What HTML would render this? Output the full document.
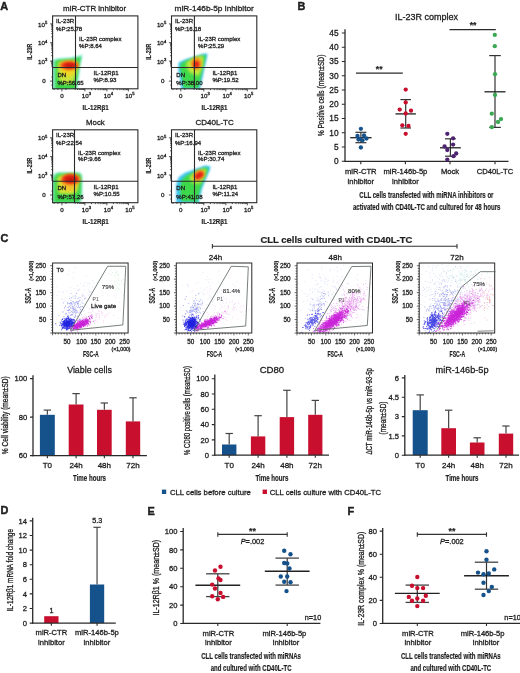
<!DOCTYPE html>
<html><head><meta charset="utf-8"><style>
html,body{margin:0;padding:0;background:#fff;width:520px;height:673px;overflow:hidden}
svg{display:block;font-family:"Liberation Sans",sans-serif;will-change:transform;filter:blur(0.3px)}
text{stroke:#1e1e1e;stroke-width:0.3px}
text[font-weight=bold]{stroke-width:0.2px}
</style></head><body>
<svg width="520" height="673" viewBox="0 0 520 673" fill="#1e1e1e">
<defs><filter id="bl" x="-20%" y="-20%" width="140%" height="140%"><feGaussianBlur stdDeviation="1.1"/></filter><filter id="bl2" x="-20%" y="-20%" width="140%" height="140%"><feGaussianBlur stdDeviation="1.6"/></filter><g id="blob1"><path d="M52 60 L57 58.4 L70 57.6 L78 56 L82.6 54.4 L81.6 60 L80.2 66 L79.2 75 L77.8 84 L77 90 L52 90Z" fill="#8cecd8" filter="url(#bl)"/><path d="M54.8 61.2 L58 59.8 L70 59.2 L78 57.6 L81.2 56.4 L80.2 61 L78.8 67 L77.8 75 L76.4 84 L75.8 89.5 L55 89.5Z" fill="#3cd64a" filter="url(#bl)"/><path d="M58 62 L66 60.5 L76 60.5 L77.5 63 L76.4 70 L75 78 L72 84 L63 84 L58.5 79 L57.5 70Z" fill="#c8e43a" filter="url(#bl2)"/><ellipse cx="68.5" cy="70.5" rx="7.5" ry="6" fill="#f0d828" filter="url(#bl2)"/><ellipse cx="69.2" cy="65.4" rx="10" ry="5.2" fill="#f28a1e" filter="url(#bl)"/><ellipse cx="69.2" cy="65.4" rx="7.6" ry="3.5" fill="#e8301a" filter="url(#bl)"/><ellipse cx="70" cy="65.6" rx="5" ry="2.2" fill="#c81810" filter="url(#bl)"/></g><g id="blob2"><path d="M178.6 62.5 L185 59.4 L195 56.4 L203 53.8 L207.6 53.6 L206.8 58 L204.6 67 L202 80 L199.8 89.5 L181.3 89.5 L180.2 80 L178.3 70Z" fill="#3cc4f0" filter="url(#bl)"/><path d="M180.6 63.6 L186 60.8 L195 57.6 L203 55.2 L206 55.2 L205.2 59 L203.2 67 L200.6 79 L198.6 88 L183.5 88 L182 79 L180.4 70Z" fill="#3ed84c" filter="url(#bl)"/><path d="M186.5 62 L195 57.6 L203 55.6 L203.2 62 L201.5 70 L198.5 76 L190 73 L186.5 67Z" fill="#c4e83c" filter="url(#bl2)"/><ellipse cx="196.4" cy="63.5" rx="5.6" ry="6.4" fill="#f4a01e" filter="url(#bl)"/><ellipse cx="196.3" cy="64.3" rx="3.2" ry="3.6" fill="#e62818" filter="url(#bl)"/></g><g id="blob3"><path d="M52 178 Q53 172.2 60 172.2 L78 172.2 Q82.4 172.2 82.4 178 L82.2 196 Q82 203.5 77 203.5 L52 203.5Z" fill="#7ce8c0" filter="url(#bl)"/><path d="M54.2 179 Q55 173.8 60 173.8 L77.6 173.8 Q81 173.8 81 178.5 L80.8 195.5 Q80.5 202.5 76.5 202.5 L54.2 202.5Z" fill="#3cd448" filter="url(#bl)"/><path d="M57.5 178 Q58 175.2 63 175.2 L75 175.2 Q78.4 175.2 78.4 179 L77.6 190 Q76.5 194 72 194 L61 194 Q57.5 193 57.5 188Z" fill="#d2e438" filter="url(#bl2)"/><ellipse cx="69.5" cy="184.5" rx="8" ry="7" fill="#f2c22a" filter="url(#bl2)"/><ellipse cx="70.6" cy="179.6" rx="10" ry="6" fill="#f2861c" filter="url(#bl)"/><ellipse cx="70.4" cy="179" rx="8" ry="4.4" fill="#e42a18" filter="url(#bl)"/><ellipse cx="71" cy="179.6" rx="5.2" ry="2.6" fill="#c81810" filter="url(#bl)"/></g><g id="blob4"><path d="M176.2 184 L178.8 177 L185 172.8 L196 168.8 L205 165.6 L210.5 166.2 L209.8 170 L206.7 177 L202.2 188 L198.5 203.5 L176.2 203.5Z" fill="#3cc4f0" filter="url(#bl)"/><path d="M180.2 186 L181.8 179.6 L186.5 175.2 L196 171 L205 167.6 L208.4 168 L207.6 171 L204.6 178 L200.4 188 L197.6 201.5 L181.5 201.5 L180.2 193Z" fill="#3ed84c" filter="url(#bl)"/><path d="M190 176 L197 171.5 L204.5 168.5 L206.2 170 L204.5 176 L201 183 L194 184 L190 180Z" fill="#c4e83c" filter="url(#bl2)"/><ellipse cx="199" cy="175" rx="6.4" ry="4.6" transform="rotate(-35 199 175)" fill="#f4961a" filter="url(#bl)"/><ellipse cx="199" cy="175.4" rx="4.6" ry="3" transform="rotate(-35 199 175.4)" fill="#e42414" filter="url(#bl)"/></g><clipPath id="clipA1"><rect x="52.7" y="15.8" width="85.3" height="73.3"/></clipPath><clipPath id="clipA2"><rect x="171.5" y="15.8" width="85.3" height="73.3"/></clipPath><clipPath id="clipA3"><rect x="52.7" y="129.8" width="85.3" height="73.3"/></clipPath><clipPath id="clipA4"><rect x="171.5" y="129.8" width="85.3" height="73.3"/></clipPath><clipPath id="clipC1"><rect x="52.6" y="263" width="75.5" height="70"/></clipPath><clipPath id="clipC2"><rect x="176.3" y="263" width="75.5" height="70"/></clipPath><clipPath id="clipC3"><rect x="297" y="263" width="75.5" height="70"/></clipPath><clipPath id="clipC4"><rect x="419.2" y="263" width="75.5" height="70"/></clipPath></defs>
<text x="0.2" y="9.5" font-size="10.9" font-weight="bold" style="stroke-width:0.45px">A</text>
<g clip-path="url(#clipA1)">
<use href="#blob1"/>
</g>
<rect x="52.6" y="15.9" width="85.3" height="72.9" fill="none" stroke="#2a2a2a" stroke-width="1.1"/>
<line x1="75.5" y1="15.9" x2="75.5" y2="88.8" stroke="#2a2a2a" stroke-width="1.1"/>
<line x1="52.6" y1="67.5" x2="137.9" y2="67.5" stroke="#2a2a2a" stroke-width="1.1"/>
<path d="M52.6 23.9h-2.6M52.6 36.9h-1.4M52.6 33.63h-1.4M52.6 31.3h-1.4M52.6 29.5h-1.4M52.6 28.03h-1.4M52.6 26.78h-1.4M52.6 25.7h-1.4M52.6 24.75h-1.4M52.6 42.7h-2.6M52.6 55.7h-1.4M52.6 52.43h-1.4M52.6 50.1h-1.4M52.6 48.3h-1.4M52.6 46.83h-1.4M52.6 45.58h-1.4M52.6 44.5h-1.4M52.6 43.55h-1.4M52.6 61.1h-2.6M52.6 66.69h-1.2M52.6 65.28h-1.2M52.6 64.28h-1.2M52.6 63.51h-1.2M52.6 62.87h-1.2M52.6 62.34h-1.2M52.6 61.88h-1.2M52.6 61.47h-1.2M52.6 81.1h-2.6M52.6 85.1h-1.2M52.6 77.1h-1.2M61.9 88.8v2.6M84.9 88.8v2.6M91.52 88.8v1.4M95.4 88.8v1.4M98.15 88.8v1.4M100.28 88.8v1.4M102.02 88.8v1.4M103.49 88.8v1.4M104.77 88.8v1.4M105.89 88.8v1.4M106.9 88.8v2.6M113.37 88.8v1.4M117.16 88.8v1.4M119.84 88.8v1.4M121.93 88.8v1.4M123.63 88.8v1.4M125.07 88.8v1.4M126.32 88.8v1.4M127.42 88.8v1.4M128.4 88.8v2.6M75.11 88.8v1.2M77.58 88.8v1.2M79.33 88.8v1.2M80.69 88.8v1.2M81.79 88.8v1.2M82.73 88.8v1.2M83.54 88.8v1.2M84.26 88.8v1.2M57.9 88.8v1.2M65.9 88.8v1.2M54.1 88.8v1.2" stroke="#2a2a2a" stroke-width="0.8" fill="none"/>
<text x="37.99" y="26.5" font-size="6.2">10</text>
<text x="45.09" y="23.8" font-size="4.22">5</text>
<text x="37.99" y="45.3" font-size="6.2">10</text>
<text x="45.09" y="42.6" font-size="4.22">4</text>
<text x="37.99" y="63.7" font-size="6.2">10</text>
<text x="45.09" y="61" font-size="4.22">3</text>
<text x="42.2" y="83.3" font-size="6.2">0</text>
<text x="61.9" y="97.8" font-size="6.2" text-anchor="middle">0</text>
<text x="81.7" y="97.8" font-size="6.2">10</text>
<text x="88.7" y="95.09" font-size="4.2">3</text>
<text x="103.7" y="97.8" font-size="6.2">10</text>
<text x="110.7" y="95.09" font-size="4.2">4</text>
<text x="125.2" y="97.8" font-size="6.2">10</text>
<text x="132.2" y="95.09" font-size="4.2">5</text>
<text x="95.6" y="109.63" font-size="7.4" text-anchor="middle" font-weight="bold" textLength="26" lengthAdjust="spacingAndGlyphs">IL-12Rβ1</text>
<text x="0" y="2.7" font-size="7.6" text-anchor="middle" font-weight="bold" textLength="16" lengthAdjust="spacingAndGlyphs" transform="translate(29 51.7) rotate(-90)">IL-23R</text>
<text x="94.6" y="10.78" font-size="8.1" text-anchor="middle" textLength="63" lengthAdjust="spacingAndGlyphs">miR-CTR inhibitor</text>
<text x="56" y="23.45" font-size="6.05">IL-23R</text>
<text x="56" y="30.85" font-size="6.05">%P:25.78</text>
<text x="79.1" y="40.75" font-size="6.05">IL-23R complex</text>
<text x="79.1" y="47.55" font-size="6.05">%P:8.64</text>
<text x="93.5" y="75.25" font-size="6.05">IL-12Rβ1</text>
<text x="93.5" y="82.25" font-size="6.05">%P:8.93</text>
<text x="57.4" y="76.65" font-size="6.05">DN</text>
<text x="57.4" y="84.85" font-size="6.05">%P:56.65</text>
<g clip-path="url(#clipA2)">
<use href="#blob2"/>
</g>
<rect x="171.5" y="15.9" width="85.3" height="72.9" fill="none" stroke="#2a2a2a" stroke-width="1.1"/>
<line x1="194.4" y1="15.9" x2="194.4" y2="88.8" stroke="#2a2a2a" stroke-width="1.1"/>
<line x1="171.5" y1="67.5" x2="256.8" y2="67.5" stroke="#2a2a2a" stroke-width="1.1"/>
<path d="M171.5 23.9h-2.6M171.5 36.9h-1.4M171.5 33.63h-1.4M171.5 31.3h-1.4M171.5 29.5h-1.4M171.5 28.03h-1.4M171.5 26.78h-1.4M171.5 25.7h-1.4M171.5 24.75h-1.4M171.5 42.7h-2.6M171.5 55.7h-1.4M171.5 52.43h-1.4M171.5 50.1h-1.4M171.5 48.3h-1.4M171.5 46.83h-1.4M171.5 45.58h-1.4M171.5 44.5h-1.4M171.5 43.55h-1.4M171.5 61.1h-2.6M171.5 66.69h-1.2M171.5 65.28h-1.2M171.5 64.28h-1.2M171.5 63.51h-1.2M171.5 62.87h-1.2M171.5 62.34h-1.2M171.5 61.88h-1.2M171.5 61.47h-1.2M171.5 81.1h-2.6M171.5 85.1h-1.2M171.5 77.1h-1.2M180.8 88.8v2.6M203.8 88.8v2.6M210.42 88.8v1.4M214.3 88.8v1.4M217.05 88.8v1.4M219.18 88.8v1.4M220.92 88.8v1.4M222.39 88.8v1.4M223.67 88.8v1.4M224.79 88.8v1.4M225.8 88.8v2.6M232.27 88.8v1.4M236.06 88.8v1.4M238.74 88.8v1.4M240.83 88.8v1.4M242.53 88.8v1.4M243.97 88.8v1.4M245.22 88.8v1.4M246.32 88.8v1.4M247.3 88.8v2.6M194.01 88.8v1.2M196.48 88.8v1.2M198.23 88.8v1.2M199.59 88.8v1.2M200.69 88.8v1.2M201.63 88.8v1.2M202.44 88.8v1.2M203.16 88.8v1.2M176.8 88.8v1.2M184.8 88.8v1.2M173 88.8v1.2" stroke="#2a2a2a" stroke-width="0.8" fill="none"/>
<text x="156.89" y="26.5" font-size="6.2">10</text>
<text x="163.99" y="23.8" font-size="4.22">5</text>
<text x="156.89" y="45.3" font-size="6.2">10</text>
<text x="163.99" y="42.6" font-size="4.22">4</text>
<text x="156.89" y="63.7" font-size="6.2">10</text>
<text x="163.99" y="61" font-size="4.22">3</text>
<text x="161.1" y="83.3" font-size="6.2">0</text>
<text x="180.8" y="97.8" font-size="6.2" text-anchor="middle">0</text>
<text x="200.6" y="97.8" font-size="6.2">10</text>
<text x="207.6" y="95.09" font-size="4.2">3</text>
<text x="222.6" y="97.8" font-size="6.2">10</text>
<text x="229.6" y="95.09" font-size="4.2">4</text>
<text x="244.1" y="97.8" font-size="6.2">10</text>
<text x="251.1" y="95.09" font-size="4.2">5</text>
<text x="214.5" y="109.63" font-size="7.4" text-anchor="middle" font-weight="bold" textLength="26" lengthAdjust="spacingAndGlyphs">IL-12Rβ1</text>
<text x="0" y="2.7" font-size="7.6" text-anchor="middle" font-weight="bold" textLength="16" lengthAdjust="spacingAndGlyphs" transform="translate(147.9 51.7) rotate(-90)">IL-23R</text>
<text x="214.2" y="10.78" font-size="8.1" text-anchor="middle" textLength="79.3" lengthAdjust="spacingAndGlyphs">miR-146b-5p inhibitor</text>
<text x="174.9" y="23.45" font-size="6.05">IL-23R</text>
<text x="174.9" y="30.85" font-size="6.05">%P:16.18</text>
<text x="198" y="40.75" font-size="6.05">IL-23R complex</text>
<text x="198" y="47.55" font-size="6.05">%P:25.29</text>
<text x="212.4" y="75.25" font-size="6.05">IL-12Rβ1</text>
<text x="212.4" y="82.25" font-size="6.05">%P:19.52</text>
<text x="176.3" y="76.65" font-size="6.05">DN</text>
<text x="176.3" y="84.85" font-size="6.05">%P:38.00</text>
<g clip-path="url(#clipA3)">
<use href="#blob3"/>
</g>
<rect x="52.6" y="129.8" width="85.3" height="72.9" fill="none" stroke="#2a2a2a" stroke-width="1.1"/>
<line x1="74.5" y1="129.8" x2="74.5" y2="202.7" stroke="#2a2a2a" stroke-width="1.1"/>
<line x1="52.6" y1="181.3" x2="137.9" y2="181.3" stroke="#2a2a2a" stroke-width="1.1"/>
<path d="M52.6 137.8h-2.6M52.6 150.8h-1.4M52.6 147.53h-1.4M52.6 145.2h-1.4M52.6 143.4h-1.4M52.6 141.93h-1.4M52.6 140.68h-1.4M52.6 139.6h-1.4M52.6 138.65h-1.4M52.6 156.6h-2.6M52.6 169.6h-1.4M52.6 166.33h-1.4M52.6 164h-1.4M52.6 162.2h-1.4M52.6 160.73h-1.4M52.6 159.48h-1.4M52.6 158.4h-1.4M52.6 157.45h-1.4M52.6 175h-2.6M52.6 180.59h-1.2M52.6 179.18h-1.2M52.6 178.18h-1.2M52.6 177.41h-1.2M52.6 176.77h-1.2M52.6 176.24h-1.2M52.6 175.78h-1.2M52.6 175.37h-1.2M52.6 195h-2.6M52.6 199h-1.2M52.6 191h-1.2M61.9 202.7v2.6M84.9 202.7v2.6M91.52 202.7v1.4M95.4 202.7v1.4M98.15 202.7v1.4M100.28 202.7v1.4M102.02 202.7v1.4M103.49 202.7v1.4M104.77 202.7v1.4M105.89 202.7v1.4M106.9 202.7v2.6M113.37 202.7v1.4M117.16 202.7v1.4M119.84 202.7v1.4M121.93 202.7v1.4M123.63 202.7v1.4M125.07 202.7v1.4M126.32 202.7v1.4M127.42 202.7v1.4M128.4 202.7v2.6M75.11 202.7v1.2M77.58 202.7v1.2M79.33 202.7v1.2M80.69 202.7v1.2M81.79 202.7v1.2M82.73 202.7v1.2M83.54 202.7v1.2M84.26 202.7v1.2M57.9 202.7v1.2M65.9 202.7v1.2M54.1 202.7v1.2" stroke="#2a2a2a" stroke-width="0.8" fill="none"/>
<text x="37.99" y="140.4" font-size="6.2">10</text>
<text x="45.09" y="137.7" font-size="4.22">5</text>
<text x="37.99" y="159.2" font-size="6.2">10</text>
<text x="45.09" y="156.5" font-size="4.22">4</text>
<text x="37.99" y="177.6" font-size="6.2">10</text>
<text x="45.09" y="174.9" font-size="4.22">3</text>
<text x="42.2" y="197.2" font-size="6.2">0</text>
<text x="61.9" y="211.7" font-size="6.2" text-anchor="middle">0</text>
<text x="81.7" y="211.7" font-size="6.2">10</text>
<text x="88.7" y="208.99" font-size="4.2">3</text>
<text x="103.7" y="211.7" font-size="6.2">10</text>
<text x="110.7" y="208.99" font-size="4.2">4</text>
<text x="125.2" y="211.7" font-size="6.2">10</text>
<text x="132.2" y="208.99" font-size="4.2">5</text>
<text x="95.6" y="223.53" font-size="7.4" text-anchor="middle" font-weight="bold" textLength="26" lengthAdjust="spacingAndGlyphs">IL-12Rβ1</text>
<text x="0" y="2.7" font-size="7.6" text-anchor="middle" font-weight="bold" textLength="16" lengthAdjust="spacingAndGlyphs" transform="translate(29 165.6) rotate(-90)">IL-23R</text>
<text x="95.4" y="124.68" font-size="8.1" text-anchor="middle" textLength="18.6" lengthAdjust="spacingAndGlyphs">Mock</text>
<text x="56" y="137.35" font-size="6.05">IL-23R</text>
<text x="56" y="144.75" font-size="6.05">%P:22.54</text>
<text x="78.1" y="154.65" font-size="6.05">IL-23R complex</text>
<text x="78.1" y="161.45" font-size="6.05">%P:9.66</text>
<text x="93.5" y="189.05" font-size="6.05">IL-12Rβ1</text>
<text x="93.5" y="196.05" font-size="6.05">%P:10.55</text>
<text x="57.4" y="190.45" font-size="6.05">DN</text>
<text x="57.4" y="198.65" font-size="6.05">%P:57.26</text>
<g clip-path="url(#clipA4)">
<use href="#blob4"/>
</g>
<rect x="171.5" y="129.8" width="85.3" height="72.9" fill="none" stroke="#2a2a2a" stroke-width="1.1"/>
<line x1="194.5" y1="129.8" x2="194.5" y2="202.7" stroke="#2a2a2a" stroke-width="1.1"/>
<line x1="171.5" y1="181.3" x2="256.8" y2="181.3" stroke="#2a2a2a" stroke-width="1.1"/>
<path d="M171.5 137.8h-2.6M171.5 150.8h-1.4M171.5 147.53h-1.4M171.5 145.2h-1.4M171.5 143.4h-1.4M171.5 141.93h-1.4M171.5 140.68h-1.4M171.5 139.6h-1.4M171.5 138.65h-1.4M171.5 156.6h-2.6M171.5 169.6h-1.4M171.5 166.33h-1.4M171.5 164h-1.4M171.5 162.2h-1.4M171.5 160.73h-1.4M171.5 159.48h-1.4M171.5 158.4h-1.4M171.5 157.45h-1.4M171.5 175h-2.6M171.5 180.59h-1.2M171.5 179.18h-1.2M171.5 178.18h-1.2M171.5 177.41h-1.2M171.5 176.77h-1.2M171.5 176.24h-1.2M171.5 175.78h-1.2M171.5 175.37h-1.2M171.5 195h-2.6M171.5 199h-1.2M171.5 191h-1.2M180.8 202.7v2.6M203.8 202.7v2.6M210.42 202.7v1.4M214.3 202.7v1.4M217.05 202.7v1.4M219.18 202.7v1.4M220.92 202.7v1.4M222.39 202.7v1.4M223.67 202.7v1.4M224.79 202.7v1.4M225.8 202.7v2.6M232.27 202.7v1.4M236.06 202.7v1.4M238.74 202.7v1.4M240.83 202.7v1.4M242.53 202.7v1.4M243.97 202.7v1.4M245.22 202.7v1.4M246.32 202.7v1.4M247.3 202.7v2.6M194.01 202.7v1.2M196.48 202.7v1.2M198.23 202.7v1.2M199.59 202.7v1.2M200.69 202.7v1.2M201.63 202.7v1.2M202.44 202.7v1.2M203.16 202.7v1.2M176.8 202.7v1.2M184.8 202.7v1.2M173 202.7v1.2" stroke="#2a2a2a" stroke-width="0.8" fill="none"/>
<text x="156.89" y="140.4" font-size="6.2">10</text>
<text x="163.99" y="137.7" font-size="4.22">5</text>
<text x="156.89" y="159.2" font-size="6.2">10</text>
<text x="163.99" y="156.5" font-size="4.22">4</text>
<text x="156.89" y="177.6" font-size="6.2">10</text>
<text x="163.99" y="174.9" font-size="4.22">3</text>
<text x="161.1" y="197.2" font-size="6.2">0</text>
<text x="180.8" y="211.7" font-size="6.2" text-anchor="middle">0</text>
<text x="200.6" y="211.7" font-size="6.2">10</text>
<text x="207.6" y="208.99" font-size="4.2">3</text>
<text x="222.6" y="211.7" font-size="6.2">10</text>
<text x="229.6" y="208.99" font-size="4.2">4</text>
<text x="244.1" y="211.7" font-size="6.2">10</text>
<text x="251.1" y="208.99" font-size="4.2">5</text>
<text x="214.5" y="223.53" font-size="7.4" text-anchor="middle" font-weight="bold" textLength="26" lengthAdjust="spacingAndGlyphs">IL-12Rβ1</text>
<text x="0" y="2.7" font-size="7.6" text-anchor="middle" font-weight="bold" textLength="16" lengthAdjust="spacingAndGlyphs" transform="translate(147.9 165.6) rotate(-90)">IL-23R</text>
<text x="214.6" y="124.68" font-size="8.1" text-anchor="middle" textLength="38.3" lengthAdjust="spacingAndGlyphs">CD40L-TC</text>
<text x="174.9" y="137.35" font-size="6.05">IL-23R</text>
<text x="174.9" y="144.75" font-size="6.05">%P:16.94</text>
<text x="198.1" y="154.65" font-size="6.05">IL-23R complex</text>
<text x="198.1" y="161.45" font-size="6.05">%P:30.74</text>
<text x="212.4" y="189.05" font-size="6.05">IL-12Rβ1</text>
<text x="212.4" y="196.05" font-size="6.05">%P:11.24</text>
<text x="176.3" y="190.45" font-size="6.05">DN</text>
<text x="176.3" y="198.65" font-size="6.05">%P:41.08</text>
<text x="297.4" y="9.8" font-size="10.9" font-weight="bold" style="stroke-width:0.45px">B</text>
<line x1="345" y1="29.2" x2="345" y2="161.8" stroke="#2a2a2a" stroke-width="1.3"/>
<line x1="344.5" y1="161.3" x2="508.5" y2="161.3" stroke="#2a2a2a" stroke-width="1.3"/>
<text x="338.6" y="164.25" font-size="8.3" text-anchor="end">0</text>
<text x="338.6" y="149.99" font-size="8.3" text-anchor="end">5</text>
<text x="338.6" y="135.73" font-size="8.3" text-anchor="end">10</text>
<text x="338.6" y="121.47" font-size="8.3" text-anchor="end">15</text>
<text x="338.6" y="107.21" font-size="8.3" text-anchor="end">20</text>
<text x="338.6" y="92.95" font-size="8.3" text-anchor="end">25</text>
<text x="338.6" y="78.69" font-size="8.3" text-anchor="end">30</text>
<text x="338.6" y="64.43" font-size="8.3" text-anchor="end">35</text>
<text x="338.6" y="50.17" font-size="8.3" text-anchor="end">40</text>
<text x="338.6" y="35.91" font-size="8.3" text-anchor="end">45</text>
<path d="M345 161.3h-3.2M345 147.04h-3.2M345 132.78h-3.2M345 118.52h-3.2M345 104.26h-3.2M345 90h-3.2M345 75.74h-3.2M345 61.48h-3.2M345 47.22h-3.2M345 32.96h-3.2M360.8 161.3v3M405.4 161.3v3M450 161.3v3M495 161.3v3" stroke="#2a2a2a" stroke-width="1.1" fill="none"/>
<text x="360.8" y="174" font-size="7.6" text-anchor="middle">miR-CTR</text>
<text x="360.8" y="184" font-size="7.6" text-anchor="middle">inhibitor</text>
<text x="405.4" y="174" font-size="7.6" text-anchor="middle">miR-146b-5p</text>
<text x="405.4" y="184" font-size="7.6" text-anchor="middle">inhibitor</text>
<text x="450" y="174" font-size="7.6" text-anchor="middle">Mock</text>
<text x="495" y="174" font-size="7.6" text-anchor="middle">CD40L-TC</text>
<text x="0" y="3.05" font-size="8.6" text-anchor="middle" textLength="81.7" lengthAdjust="spacingAndGlyphs" transform="translate(321.2 95.5) rotate(-90)">% Positive cells (mean±SD)</text>
<text x="426.4" y="197.57" font-size="9.2" text-anchor="middle" font-weight="bold" textLength="134.2" lengthAdjust="spacingAndGlyphs">CLL cells transfected with miRNA inhibitors or</text>
<text x="426.7" y="209.57" font-size="9.2" text-anchor="middle" font-weight="bold" textLength="147.6" lengthAdjust="spacingAndGlyphs">activated with CD40L-TC and cultured for 48 hours</text>
<text x="426.4" y="19.5" font-size="9" text-anchor="middle">IL-23R complex</text>
<line x1="356" y1="73.2" x2="402.8" y2="73.2" stroke="#2a2a2a" stroke-width="1.2"/>
<text x="379.2" y="72.35" font-size="8.6" text-anchor="middle" font-weight="bold">**</text>
<line x1="449.5" y1="29.7" x2="495.8" y2="29.7" stroke="#2a2a2a" stroke-width="1.2"/>
<text x="473" y="28.45" font-size="8.6" text-anchor="middle" font-weight="bold">**</text>
<line x1="360.9" y1="132.3" x2="360.9" y2="142.7" stroke="#333" stroke-width="1.2"/>
<line x1="355.4" y1="132.3" x2="366.4" y2="132.3" stroke="#333" stroke-width="1.2"/>
<line x1="355.4" y1="142.7" x2="366.4" y2="142.7" stroke="#333" stroke-width="1.2"/>
<line x1="350.2" y1="137.7" x2="371.6" y2="137.7" stroke="#222" stroke-width="1.3"/>
<circle cx="360.9" cy="128.8" r="2.15" fill="#15528c"/>
<circle cx="357.5" cy="136" r="2.15" fill="#15528c"/>
<circle cx="364" cy="135.5" r="2.15" fill="#15528c"/>
<circle cx="360" cy="138.8" r="2.15" fill="#15528c"/>
<circle cx="366.5" cy="138.5" r="2.15" fill="#15528c"/>
<circle cx="362.5" cy="140.3" r="2.15" fill="#15528c"/>
<circle cx="358.5" cy="139.5" r="2.15" fill="#15528c"/>
<circle cx="360.9" cy="147.5" r="2.15" fill="#15528c"/>
<line x1="405.7" y1="99.6" x2="405.7" y2="128" stroke="#333" stroke-width="1.2"/>
<line x1="400.4" y1="99.6" x2="411" y2="99.6" stroke="#333" stroke-width="1.2"/>
<line x1="400.4" y1="128" x2="411" y2="128" stroke="#333" stroke-width="1.2"/>
<line x1="395.5" y1="113.9" x2="415.9" y2="113.9" stroke="#222" stroke-width="1.3"/>
<circle cx="405.7" cy="89.6" r="2.15" fill="#c8102e"/>
<circle cx="405.7" cy="102.4" r="2.15" fill="#c8102e"/>
<circle cx="399.7" cy="109.6" r="2.15" fill="#c8102e"/>
<circle cx="411" cy="110.7" r="2.15" fill="#c8102e"/>
<circle cx="405.7" cy="113.5" r="2.15" fill="#c8102e"/>
<circle cx="402.3" cy="125.3" r="2.15" fill="#c8102e"/>
<circle cx="408.5" cy="126" r="2.15" fill="#c8102e"/>
<circle cx="405.7" cy="133.8" r="2.15" fill="#c8102e"/>
<line x1="450.4" y1="138.8" x2="450.4" y2="156.2" stroke="#333" stroke-width="1.2"/>
<line x1="445" y1="138.8" x2="455.8" y2="138.8" stroke="#333" stroke-width="1.2"/>
<line x1="445" y1="156.2" x2="455.8" y2="156.2" stroke="#333" stroke-width="1.2"/>
<line x1="440" y1="147.8" x2="460.8" y2="147.8" stroke="#222" stroke-width="1.3"/>
<circle cx="447.3" cy="133.8" r="2.15" fill="#4e2270"/>
<circle cx="453.1" cy="138.3" r="2.15" fill="#4e2270"/>
<circle cx="453.1" cy="144.6" r="2.15" fill="#4e2270"/>
<circle cx="444.6" cy="146.5" r="2.15" fill="#4e2270"/>
<circle cx="447.3" cy="150" r="2.15" fill="#4e2270"/>
<circle cx="456.2" cy="153.5" r="2.15" fill="#4e2270"/>
<circle cx="453.5" cy="156.2" r="2.15" fill="#4e2270"/>
<circle cx="447.3" cy="159.6" r="2.15" fill="#4e2270"/>
<line x1="495" y1="55.6" x2="495" y2="127.4" stroke="#333" stroke-width="1.2"/>
<line x1="489.2" y1="55.6" x2="500.8" y2="55.6" stroke="#333" stroke-width="1.2"/>
<line x1="489.2" y1="127.4" x2="500.8" y2="127.4" stroke="#333" stroke-width="1.2"/>
<line x1="484.5" y1="91.8" x2="505.5" y2="91.8" stroke="#222" stroke-width="1.3"/>
<circle cx="494.8" cy="34.9" r="2.15" fill="#3aa852"/>
<circle cx="494.8" cy="46.2" r="2.15" fill="#3aa852"/>
<circle cx="495" cy="74.2" r="2.15" fill="#3aa852"/>
<circle cx="495" cy="95" r="2.15" fill="#3aa852"/>
<circle cx="491.8" cy="113.7" r="2.15" fill="#3aa852"/>
<circle cx="501" cy="119.1" r="2.15" fill="#3aa852"/>
<circle cx="498" cy="122" r="2.15" fill="#3aa852"/>
<circle cx="491.8" cy="127.2" r="2.15" fill="#3aa852"/>
<text x="0.4" y="242.4" font-size="10.9" font-weight="bold" style="stroke-width:0.45px">C</text>
<text x="260.4" y="243.01" font-size="9.6" font-weight="bold" textLength="152" lengthAdjust="spacingAndGlyphs">CLL cells cultured with CD40L-TC</text>
<path d="M212.4 244V248.6M212.4 246.3H457M457 244V248.6" stroke="#333" stroke-width="1.1" fill="none"/>
<g clip-path="url(#clipC1)">
<path d="M84.84 282.73h0M91.5 291.41h0M84.63 296.33h0M61.76 298.62h0M92.67 280.22h0M86.25 326.51h0M72.48 296.94h0M88.14 294.54h0M85.1 314.95h0M84.12 290.34h0M80.4 304.12h0M87.65 282.93h0M69.69 296.76h0M77.72 285.63h0M73.25 277.94h0M88.38 289.64h0M80.56 307.26h0M75.91 316.2h0M69.05 270.45h0M76.4 296.56h0M80.11 304.64h0M76.14 292.98h0M98.12 297.68h0M94.09 283.07h0M53.55 294.81h0M77.55 305h0M74.09 288.43h0M82.99 309.47h0M83.04 285.68h0M109.65 273.66h0M64.43 316.35h0M74.71 329.53h0M108.6 286.36h0M89.28 309.01h0M72.8 312.51h0M56.93 286.75h0M82.34 306.77h0M81.53 302.08h0M62.82 299.87h0M70.43 287.55h0M78.99 300.67h0M66.77 291.11h0M78.62 297.47h0M81.34 306.83h0M80.5 299.48h0M72.91 308.31h0M88.31 294.91h0M92.48 310.73h0M84.49 310.3h0M68.54 274.6h0M90.24 295.74h0M72.98 295.75h0M92.31 287.84h0M64.99 300.89h0M92.8 298.2h0M79.72 289.05h0M62.52 291.05h0M75.61 311.23h0M80.76 283.33h0M83.82 303.27h0M66.25 309.79h0M64.5 307.61h0M82.79 300.47h0M73.47 272.22h0M83.3 311.46h0M90.63 292.76h0M56.92 324.93h0M83.56 295.02h0M97.15 282.41h0M75.83 298.31h0M68.65 303.81h0M90.53 291.76h0M83.55 285.2h0M92.54 285.71h0M75.17 267.39h0M59.25 292.07h0M78.46 303.29h0M73.76 296.76h0M90.85 296.01h0M82.71 293.48h0M57.17 295.42h0M63.27 292.56h0M92.37 318.39h0M89.52 283.39h0M71.04 303.05h0M79.99 311.42h0M86.24 286.07h0M86.56 276.56h0" stroke="#98a8e8" stroke-width="1.05" stroke-linecap="round" opacity="0.35"/>
<path d="M107.89 295.69h0M102.58 295.17h0M85.08 304.8h0M114.08 294.95h0M81.77 296.89h0M87.53 316.95h0M101.39 290.76h0M75.12 308.41h0M102.7 313.51h0M92.65 298.85h0M119.62 302.14h0M115.39 297.57h0M56.62 319.27h0M100.67 278.25h0M74.12 307.23h0M117.75 318.48h0M102.69 292.57h0M108.77 304.26h0M82.96 296.1h0M129.25 304.08h0M82.96 297.05h0M105.97 308.96h0M89.23 291.86h0M99.62 305.64h0M79.75 310.44h0M129.87 299.08h0M84.49 294.66h0M95.26 302.75h0M108.02 310.35h0M89.64 292.56h0M96.17 321.12h0M90.98 312.37h0M97.86 299.53h0M81.27 316.33h0M92.99 299.66h0M96.69 300.66h0M94.66 289.22h0M100.91 310.98h0M95.31 307.51h0M112.05 296h0M94.83 329.49h0M97.81 262.8h0M89.36 308.38h0M91.58 308.76h0M79.77 289.67h0M108.3 300.48h0M81.72 321.35h0M88.07 292.48h0" stroke="#e6a0e0" stroke-width="1.05" stroke-linecap="round" opacity="0.3"/>
<path d="M121.42 280.73h0M116.2 285.78h0M116.87 288.18h0M119.94 283.46h0M114.36 282.01h0M119.75 289.4h0M118.8 288.28h0M115.3 281.68h0M112.43 284.69h0M117.1 271.55h0M114.5 269.76h0M122.01 279.86h0M118.58 275.74h0M121.13 292.02h0M118.54 274.26h0M119.05 280.28h0M114.87 275.64h0M120.67 265.6h0M125.14 300.53h0M116.76 277.65h0M115.63 289.89h0M117.37 274.67h0M116.07 291.82h0M115.19 284.46h0M118.55 278.18h0M116.84 274.48h0M123.76 279.33h0M118 287.14h0M119.3 284.98h0M121.81 272.04h0M116.8 280.05h0M123.75 295.15h0M115.47 272.41h0M114.77 276.25h0M116.53 272.14h0M117.54 283.03h0M112.39 272.55h0M117.86 289.55h0M111.33 274.87h0M123.57 284.41h0" stroke="#b0e0b8" stroke-width="1.05" stroke-linecap="round" opacity="0.45"/>
<path d="M79.15 307.69h0M77.94 304.05h0M63.33 312.06h0M76.37 312.79h0M75.08 311.29h0M77.04 301.9h0M71.81 303.46h0M66.53 318.14h0M71.1 305.37h0M78.57 306.74h0M76.64 293.22h0M63.68 320.79h0M75.62 316.78h0M71.57 297.69h0M58.81 315.27h0M70.21 319.92h0M73.75 306.24h0M70.89 300.18h0M74.72 317.5h0M81.06 309.92h0M77.02 311.61h0M79.71 300.34h0M74.04 311.1h0M73.57 301.86h0M67.66 315.87h0M75.71 313.65h0M69.63 309.62h0M69.66 298.43h0M69.95 303.66h0M65.68 313.45h0M74.49 305.14h0M71.42 302.71h0M74.99 312.6h0M68.38 310.41h0M71.58 311.53h0M61.64 319.85h0M71.06 307.79h0M76.73 310.39h0M68.3 315.87h0M70.49 302.47h0M70.83 321.82h0M71.9 314.95h0M72.93 314.8h0M84.75 298.77h0M62.6 319.49h0M69.48 303.56h0M72.71 301.84h0M72.56 306.88h0M76.62 301.75h0M67.39 316.63h0M66.02 327.48h0M71.72 302.9h0M63.82 316.48h0M67.48 310.55h0M69.45 319.32h0M75.68 302.42h0M75.83 304.2h0M62.98 311.73h0M74.76 303.28h0M79.1 312.68h0M70.07 310.24h0M65.57 306.06h0M68.82 310.15h0M71.2 304h0M73.04 307.74h0M77.65 316.17h0M82.17 306.29h0M74.1 316.66h0M73.53 308.21h0M72.49 306.44h0M75.12 298.26h0M71.3 314.21h0M75.17 295.89h0M73.65 309.28h0M73.76 312.69h0M66.47 313.15h0M77.43 307.58h0M81.82 314.78h0M71.6 319.79h0M67.43 317.79h0M80.79 319.71h0M70.72 315.45h0M77.27 302.92h0M82.2 302.96h0M80.5 306.65h0M74.98 308.34h0M72.32 314.05h0M67.75 307.25h0M74 303.05h0M85.59 297.92h0M78.45 305.16h0M68.46 310.66h0M65.45 306.17h0M68.82 312.68h0M67.96 314.94h0M64.74 307.81h0M72.81 308.66h0M79.99 297.61h0M77.19 312.29h0M78.91 301.38h0M70.94 293.42h0M77.32 312.11h0M78 298.62h0M79.66 307.59h0M69.98 312.71h0M69.86 306.46h0M72.95 310.3h0M68.55 310.27h0M68.71 310.05h0M70.96 308.14h0M67.57 303.71h0M65.93 314.79h0M73.04 310.64h0M68.69 322.03h0M75.96 309.75h0M72.66 304.7h0M73.76 309.45h0M63.43 302.86h0M67.71 302.37h0M70.26 315.1h0M72.26 312.31h0M67.95 303.22h0M82.41 306.46h0M75.08 308.06h0M78.23 290.18h0M74.88 312.36h0M77.44 303.83h0M78 301.71h0M69.16 309.7h0M68.43 315.54h0M66.14 317.6h0M70.51 307.74h0M76.06 302.1h0M69.1 306h0M75.22 310.15h0M75.65 315.38h0M80.38 309.37h0M69.7 328.13h0M74.82 309.39h0M68.47 307.87h0M66.24 319.35h0M82.28 295.76h0M70.57 321.81h0M69.82 318.6h0M68.92 319.24h0M78.17 303.22h0M73.72 318.96h0M76.19 306.17h0M70.61 303.94h0M80.66 312.25h0" stroke="#4a52e0" stroke-width="1.05" stroke-linecap="round" opacity="0.5"/>
<ellipse cx="68.2" cy="323.6" rx="4.8" ry="3.9" transform="rotate(-25 68.2 323.6)" fill="#1c1ce0" opacity="0.72" filter="url(#bl)"/>
<path d="M66.46 321.68h0M61.41 325.11h0M69.12 324.19h0M66.27 325.11h0M62.55 327.27h0M68.86 324.26h0M76.13 326.84h0M68.6 323.63h0M72.01 322.96h0M67.69 323.05h0M61.73 326.06h0M68.7 320.96h0M67.02 324.23h0M63.1 323.73h0M73.31 328.61h0M70.26 325.84h0M64.8 320.28h0M72.07 325.33h0M65.99 325.47h0M69.31 321.1h0M66.46 326.98h0M68.97 321.21h0M66.59 328.49h0M74.64 326.13h0M70.41 326.42h0M74.19 325.59h0M65.85 324.79h0M67.18 325.03h0M70.29 321.72h0M61.4 329.78h0M62.33 319.08h0M71.32 322.46h0M69.61 323.11h0M70.55 321.24h0M67.58 324.63h0M70.55 324.36h0M66 324.42h0M63.23 323.32h0M62.57 324.36h0M65.58 322.16h0M67.24 325.7h0M67.24 326.31h0M55.72 323.71h0M62.68 326.9h0M66.14 323.22h0M68.23 321.5h0M64.97 321.06h0M67.15 328h0M62.05 327.88h0M74.55 321.92h0M65.35 325.83h0M75.75 327.04h0M72.84 321.74h0M72.19 330.08h0M66.22 323.7h0M68 322.18h0M64.21 323.78h0M70.29 326.11h0M67.17 321.37h0M70.7 324.94h0M72.32 325.23h0M74.31 323.59h0M68.02 326.14h0M71.05 321.8h0M65.01 322.75h0M67.92 329.78h0M67.01 325.73h0M64.37 322.82h0M70.83 321.81h0M70.33 321.17h0M73.54 325.42h0M67.08 321.4h0M70.72 326.93h0M66.31 323.93h0M63.37 321.95h0M67.43 318.57h0M68.42 322.03h0M64.02 323.02h0M70.56 324.24h0M63.68 327.09h0M66.4 321.09h0M66.37 324.45h0M66.8 324.62h0M66.61 328.39h0M70.8 321.96h0M69.13 321.31h0M72.5 323.87h0M69.14 324.62h0M62.7 321.63h0M66.9 323.69h0M65.06 325.89h0M70.75 325.67h0M72.36 323.44h0M69.39 323.76h0M64.92 321.2h0M67.76 325.56h0M66.78 319.11h0M64.99 327.76h0M68.98 324.26h0M67.81 321.36h0M66.84 324.92h0M67.85 326.14h0M68.79 323.7h0M65.28 323.68h0M67.65 328.78h0M70.68 323.16h0M68.91 323.58h0M73.45 322.31h0M64.47 323.23h0M63.6 327.38h0M71.27 323.22h0M70.87 322.25h0M65.19 322.91h0M64.11 326.14h0M66.32 320.12h0M64.04 328.14h0M65.72 321.07h0M62.73 328.61h0M67.6 324.35h0M61.56 325.65h0M65.16 319.12h0M71.52 319.48h0M67.77 324.96h0M68.9 319.54h0M66.47 325.02h0M66.38 326.72h0M63.25 324.62h0M71 322.02h0M66.87 321.48h0M73.39 322.76h0M64.24 324.35h0M66.73 322.46h0M68 322.9h0M72.2 321.82h0M74.12 322.84h0M65.19 322.41h0M64.63 324.87h0M62.48 324.84h0M72.32 322.68h0M67.79 323.75h0M67.32 326.99h0M67.81 323.54h0M59.79 325.33h0M62.95 325.78h0M69.82 320.38h0M68.85 322.4h0M66.99 320.25h0M65.35 325.47h0M71.55 326.74h0M72.73 320.25h0M64.68 325.72h0M69.16 325.95h0M66.07 322.73h0M68.8 322.56h0M67.6 322.6h0M67.98 324.65h0M65.27 324.4h0M67.72 323.09h0M64.31 320.32h0M68.37 325.48h0M67.87 323.78h0M69.54 321.93h0M68.25 328.52h0M68.87 327.89h0M68.77 317.12h0M69.35 328.13h0M66.65 322.67h0M71.48 324.5h0M69.67 325.1h0M70.49 328.22h0M69.67 325.5h0M63.59 323.5h0M70.91 326.32h0M71.24 320.47h0M69.39 322.15h0M61.32 321.02h0M69.4 324.4h0M64.05 321.91h0M66.43 321.88h0M68.76 324.16h0M66.44 329.19h0M70.29 318.3h0M69.38 326.97h0M70.9 323.7h0M68.95 320.72h0M70.75 319.21h0M72.47 324.03h0M63.85 325.72h0M68.5 324.2h0M60.6 323.75h0M64.04 318.35h0M72.18 326.99h0M69.74 320.25h0M74.98 328.64h0M66.99 324.12h0M70.25 325.83h0M66.2 318.82h0M71.6 321.54h0M73.52 323.23h0M67.61 325.31h0M79.71 319.88h0M67.89 323.21h0M67.22 324.51h0M69.13 321.29h0M68.62 318.99h0M68.92 321.25h0M67.58 327.41h0M74.17 325.47h0M69.1 325.35h0M71.42 319.08h0M72.53 322.54h0M65.17 326.93h0M65.14 324.63h0M66.78 328.32h0M70.11 325.98h0M67.73 322.35h0M69.25 323.98h0M66.28 325.79h0M69.03 322.3h0M72.86 323.11h0M65.03 327.05h0M68.09 324.97h0M68.21 321.87h0M67.71 323.66h0M68.89 326.7h0M73.61 321.94h0M71.16 320.36h0M68.56 318.06h0M67.2 327.34h0M74.28 319.79h0M69.49 323.74h0M65.57 322.46h0M66.68 323.02h0M65.12 320.81h0M73.74 319.53h0M69.35 324.63h0M68.93 324.8h0M61.47 325.57h0M69.87 321.69h0M62.46 319.4h0M63.04 321.2h0M71.23 325.55h0M65.27 323.96h0M72.05 325.62h0M73.24 326h0M62.16 324.29h0M67.16 322.5h0M64.74 328.19h0M66.18 319.83h0M71.88 324.69h0M65.49 328.21h0M72.67 319.64h0M67.02 323.52h0M64.9 325.6h0M67.87 323.95h0M70.21 322.02h0M64.31 325.81h0M68.35 324.03h0M66.25 329.95h0M73.12 325.16h0M67.93 321.97h0M67.69 325.86h0M70.55 320.94h0M63.05 322.46h0M67.4 324.99h0M73.19 320.46h0M65.5 318.9h0M71.32 320.15h0M66.69 319.02h0M64.43 320.96h0M66.6 322.18h0M68.49 323.79h0M67.88 326.17h0M66.97 327.36h0M65.34 323.54h0M63.32 324.53h0M68.65 323.89h0M68.35 321.1h0M70.97 324.04h0M61.68 323.46h0M70.43 322.45h0M68.13 323.74h0M63.99 325.56h0M68.53 323.73h0M67.76 316.66h0M71.42 326.72h0M70.05 322.23h0M69.51 319.42h0M69.95 320.73h0M68.37 324.39h0M60.19 322.35h0M67.11 327.17h0M70.61 326.23h0M66.15 322.93h0M71.73 326.13h0M73.07 328.15h0M67.31 321.48h0M72.76 319.29h0M64.51 323.22h0M71.38 323.52h0M66.57 323.84h0M66.94 326.96h0M67.94 318.74h0M65.49 322.6h0M69.82 320.72h0M66.9 329.8h0M67.36 321.68h0M64.06 321.25h0M66.13 321.08h0M66.2 322.27h0M64.87 325.15h0M70.42 323.55h0M63.87 323.89h0M64.88 324.05h0M70.47 321.86h0M71.31 323.04h0M68.24 318.76h0M70.42 325.92h0M74.78 320.6h0M65.28 326.63h0M64.86 322.2h0M63.7 321.6h0M69.39 319.48h0M68.16 321.45h0M72.91 325.43h0M68.69 317.4h0M66.93 322.71h0M65.9 324.99h0M65.25 324.91h0M74.94 321.43h0" stroke="#1c1ce0" stroke-width="1.05" stroke-linecap="round" opacity="0.9"/>
<path d="M97.85 321.91h0M93.07 311.78h0M89.96 320.87h0M70.56 325.71h0M91.73 317.19h0M95.92 315.21h0M96.65 315.94h0M90.38 316.59h0M95.37 314.33h0M99.67 311.03h0M88.53 319.85h0M105.3 314.95h0M76.74 326.52h0M80.63 318.93h0M84.4 319.94h0M70.66 322.71h0M82.9 318.31h0M100.54 307.61h0M102.25 312.5h0M91.92 314.23h0M107.99 315.66h0M95.32 319.82h0M88.16 319.56h0M95.5 320.26h0M90.01 315.15h0M99.82 319.12h0M79.21 321.4h0M103.39 322.01h0M89.44 322.05h0M99.64 315.48h0M79.28 322.6h0M90.6 324.18h0M92.53 316.4h0M98.46 311.02h0M80.93 318.62h0M106.89 314.03h0M96.79 317.45h0M88.97 322.52h0M101.54 311.18h0M91.14 311.94h0M102.43 315.16h0M113.68 315.43h0M98.26 313.98h0M86.7 316.29h0M91.66 327.26h0M96.76 314.75h0M91.84 309h0M83.97 316.87h0M85.69 317.25h0M97.15 313.63h0M110.58 306.28h0M70.88 328.19h0M99.13 317.55h0M89.73 316.31h0M99.41 316.85h0M99.03 313.48h0M94.74 323.13h0M82.5 317.63h0M79.17 318.51h0M76.1 322.63h0M102.14 312.7h0M88.29 312.32h0M88.73 322.23h0M90.74 320.86h0M81.98 324.72h0M95.08 317.46h0M104.36 316.27h0M101.58 313.37h0M79.54 323.96h0M105.27 317.57h0M87.39 324.45h0M74.37 318.9h0M81.68 321.01h0M84.1 320.72h0M91.91 316.93h0M83.37 320.45h0M78.32 319.16h0M89.09 315.96h0M108.98 313.02h0M87.05 321.87h0M97.23 319.15h0M94.17 320.87h0M112.8 304.21h0M77.04 325.86h0M103.68 320.27h0M82.17 323.72h0M87.93 321.42h0M90.79 316.21h0M120.01 310.11h0M84.91 317.59h0" stroke="#e6a0e0" stroke-width="1.05" stroke-linecap="round" opacity="0.5"/>
<ellipse cx="81.2" cy="324.2" rx="8.16" ry="2.72" transform="rotate(-27 81.2 324.2)" fill="#c81ad8" opacity="0.72" filter="url(#bl)"/>
<path d="M82.44 322.53h0M87.38 322.94h0M89.84 318.26h0M91.82 314.91h0M86.47 320.25h0M76.22 326.69h0M79.3 324.75h0M82.9 324.92h0M89.86 319.33h0M84.84 324.2h0M86.27 321.42h0M80.69 325.04h0M84.28 324h0M83.8 321.71h0M80.28 327.22h0M84.5 322.47h0M86.69 323.66h0M79.14 321.84h0M84.07 319.07h0M87.58 319.3h0M80.05 321.25h0M80.72 323.25h0M79.43 324h0M78.81 326.06h0M82.47 325.04h0M79.3 324.82h0M80.21 325.55h0M78.16 326.41h0M74.05 326.41h0M77.24 326.33h0M83.69 325.61h0M76.25 326.99h0M78.94 326.61h0M88.39 320.95h0M86.77 323.22h0M77.32 323.91h0M82.35 320.08h0M79.18 327.11h0M87.64 319.64h0M78.21 324.53h0M82.28 325.46h0M87 320.95h0M76.59 323.9h0M86.12 320.06h0M76.48 323.58h0M83.02 325.26h0M80.43 325.82h0M80.57 323.89h0M81.58 323.26h0M80.82 324.24h0M77.09 326.89h0M85.16 322.82h0M84.68 323.42h0M86.35 320.67h0M89.09 325.04h0M74.25 324.77h0M87.04 322.08h0M87.75 323.34h0M78.49 324.51h0M86.62 323.87h0M87.16 320.38h0M79.15 325.88h0M74.84 326.3h0M79.06 323.79h0M92.17 316.2h0M82.54 324.33h0M76.19 327.2h0M80.1 324.71h0M77.95 328.32h0M79.03 324.17h0M81.48 323.75h0M71.19 331.64h0M81.83 321.63h0M86.23 319.12h0M81.29 326.45h0M79.12 324.16h0M84.94 319.98h0M75.15 325.71h0M76.56 328.26h0M76.24 329.17h0M80.59 324.66h0M83.22 324h0M80.79 324.36h0M83.6 323.1h0M84.35 321.59h0M83.71 323.87h0M77.84 326.15h0M77.87 320.51h0M86.61 321.62h0M76.17 325.39h0M79.89 324.3h0M79.24 324.76h0M81.07 325.85h0M76.2 325.75h0M75.45 327.18h0M91.52 317.43h0M83.74 319.18h0M78 325.45h0M80.38 323.21h0M84.82 324.15h0M79.63 324.75h0M82.69 320.61h0M78.59 325.59h0M80.11 325.86h0M80.67 324.06h0M79.36 325.43h0M70.87 329.86h0M81.54 324.65h0M80.86 320.77h0M83.85 324.37h0M77.23 326.92h0M83.07 324.23h0M81.21 321.93h0M73.82 328.42h0M70.82 327.11h0M83.1 322.89h0M77.12 326.28h0M86.53 324.07h0M89.46 317.78h0M78.3 324.67h0M77.94 325.09h0M81.22 324.36h0M84.37 323.29h0M77.25 328.45h0M85.82 320.11h0M85.23 321.63h0M84.27 323.24h0M79.33 326.24h0M85.02 322.01h0M84.92 322.43h0M74.85 324.44h0M89.56 318.51h0M80.33 325.67h0M83.57 324.94h0M79.11 325.65h0M83.49 324.63h0M86.09 321.53h0M77.44 325.35h0M73.64 326.87h0M78.96 324.55h0M75.74 327.28h0M77.5 324.96h0M81.29 325.71h0M80.96 324.42h0M86.11 320.19h0M76.63 325.96h0M83.61 325.2h0M79.85 326.91h0M88.19 323.49h0M90.68 316.08h0M83.6 325.71h0M88.44 320.71h0M77.58 322.69h0M73.55 326.11h0M74.79 325.05h0M74.79 328.31h0M76.56 325.18h0M77.94 320.34h0M86.12 321.7h0M83.87 322.04h0M83.39 323.59h0M79.37 325.09h0M77.82 325.19h0M80.31 322.1h0M82.42 325.13h0M83.31 325.63h0M82.74 323.3h0M80.52 324.11h0M71.92 326.33h0M75.88 325.56h0M78.1 326.84h0M88.02 319.64h0M78.54 323.49h0M83.85 322.27h0M87.68 321.44h0M82.11 322.46h0M79.75 325.51h0M81.28 327.45h0M75.83 324.48h0M83.42 325.32h0M86.24 322.17h0M83.84 323.36h0M84.72 322.95h0M84.45 323h0M90.79 321.84h0M78.08 324.79h0M81.83 323.77h0M84.17 322.56h0M85.73 319.91h0M70 327.88h0M77.97 323.39h0M78.94 321.98h0M76.45 325.76h0M85.92 324.51h0M81.96 323.38h0M79.47 325.01h0M74.14 327.62h0M75.95 327.9h0M77.61 327.57h0M82.55 322.03h0M75.26 325.43h0M73.14 330.26h0M74.58 326.56h0M78.77 325.69h0M88.62 321.07h0M91.38 317.73h0M79.16 325.28h0M85.62 322.89h0M87.13 321.03h0M88.13 324.21h0M81.11 325.26h0M75.93 327.63h0M80.11 327.22h0M73.09 327.97h0M82.01 323.27h0M84.95 323.34h0M73.21 328.54h0M80.48 323.33h0M81.67 322.03h0M87.08 322.54h0M86.84 320.69h0M83.86 320.96h0M78.28 325.72h0M80.18 326.09h0M86.9 322.65h0M78.84 325.97h0M81.76 325.75h0M86.41 317.92h0M82.16 324.72h0M75.04 326.65h0M79.8 324.58h0M83.47 321.89h0M80.66 325.16h0M87.11 323.52h0M85.49 319.07h0M78.47 325.73h0M78.96 325.13h0M80.61 324.14h0M75.14 325.02h0M82.26 322.28h0M79.58 322.92h0M83.96 321.32h0M78.52 325.29h0M77.25 325.75h0M89.6 321.25h0M78.85 328.88h0M78.87 325.82h0M78.85 327.32h0M78.02 321.17h0M76.15 323.97h0M80.16 322.63h0M78.58 326.52h0M77.92 322.17h0M83.99 325.84h0M85.08 324.39h0M83.76 324.29h0M78.75 327.17h0M82.8 323.14h0M80.54 324.18h0M79.36 321.71h0M73.11 326.53h0M83.18 320.99h0M80.3 323.91h0M88.6 320.69h0M84.44 323.78h0M77.52 328.78h0M75.96 328.43h0M86.4 322.23h0M76.9 325.02h0M85.35 325.11h0M80.9 326.8h0M90.04 319.3h0M82.3 325.52h0M87.44 320.42h0M87.2 321.88h0M79.77 326.27h0M80.77 326.81h0M87.64 321.09h0M81.76 325.22h0M77.96 326.95h0M86.85 322.46h0M92.12 318.3h0M80.99 324.04h0M88.51 323.55h0M80.72 324.73h0M86.82 320.62h0M79.54 323.18h0M86.46 320.11h0M83.52 322.64h0M81.4 326.15h0M82.94 324.7h0M78.39 323.99h0M77.08 327.56h0M76.13 324.94h0M80.24 322.4h0M77.66 327.91h0M82.99 322.5h0M83.79 323.08h0M81.99 320.16h0M78.72 323.96h0M82.08 324.67h0M81.06 323.54h0M87.8 322.49h0M78.14 326.03h0M79.69 324.6h0M80.38 324.35h0M80.65 323.93h0M78.94 326.98h0M80.15 328.06h0M86.1 322.35h0M79.41 326.71h0M85.93 323.05h0M88.65 316.56h0M86.13 319.6h0M73.89 328.24h0M85.85 324.4h0M84.49 324.85h0M83.57 322.34h0M73.77 326.07h0M84.96 322.8h0M76.74 326.23h0M86.85 320.86h0M85.31 320.19h0M93.77 321.17h0M79.72 324.67h0M74.67 326.8h0M85.28 320.42h0M84.93 321.59h0M80.64 326.46h0M87.72 321.92h0M85.53 324.73h0M75.82 326.59h0M79.82 324.56h0M79.19 324.31h0M81.7 325.69h0M83.12 325.27h0M77.38 323.41h0M80.49 324.24h0M82.72 320.29h0M80.83 323.6h0M81.37 326.74h0M79.57 323.58h0M80.13 322.53h0M73.59 328.89h0M83.54 326.46h0M76.58 325.36h0M82.01 324.04h0M74.96 326.88h0M87.35 325.89h0M82.14 322.9h0M77.68 330.93h0M83.1 324.79h0M77.57 324.46h0M90.49 322.74h0M84.91 325.65h0M78.38 326.44h0M81.23 321.23h0M80.15 321.83h0M87.03 322.32h0M82.27 321.86h0" stroke="#c81ad8" stroke-width="1.05" stroke-linecap="round" opacity="0.9"/>
</g>
<rect x="52.6" y="263" width="75.5" height="70" fill="none" stroke="#2a2a2a" stroke-width="1"/>
<path d="M70.46 330.31 L107.61 266.29 L125.75 266.29 L122.87 324.93 L70.46 330.31" stroke="#55605a" stroke-width="0.8" fill="none" stroke-linejoin="round"/>
<path d="M52.6 333h-2.4M52.6 333v2.4M52.6 330.31h-1.4M55.48 333v1.4M52.6 327.62h-1.4M58.36 333v1.4M52.6 324.93h-1.4M61.24 333v1.4M52.6 322.24h-1.4M64.12 333v1.4M52.6 319.55h-2.4M67 333v2.4M52.6 316.86h-1.4M69.88 333v1.4M52.6 314.17h-1.4M72.76 333v1.4M52.6 311.48h-1.4M75.64 333v1.4M52.6 308.79h-1.4M78.52 333v1.4M52.6 306.1h-2.4M81.4 333v2.4M52.6 303.41h-1.4M84.28 333v1.4M52.6 300.72h-1.4M87.16 333v1.4M52.6 298.03h-1.4M90.04 333v1.4M52.6 295.34h-1.4M92.92 333v1.4M52.6 292.65h-2.4M95.8 333v2.4M52.6 289.96h-1.4M98.68 333v1.4M52.6 287.27h-1.4M101.56 333v1.4M52.6 284.58h-1.4M104.44 333v1.4M52.6 281.89h-1.4M107.32 333v1.4M52.6 279.2h-2.4M110.2 333v2.4M52.6 276.51h-1.4M113.08 333v1.4M52.6 273.82h-1.4M115.96 333v1.4M52.6 271.13h-1.4M118.84 333v1.4M52.6 268.44h-1.4M121.72 333v1.4M52.6 265.75h-2.4M124.6 333v2.4" stroke="#2a2a2a" stroke-width="0.7" fill="none"/>
<text x="46.2" y="321.82" font-size="6.4" text-anchor="end">50</text>
<text x="67" y="343.84" font-size="6.3" text-anchor="middle">50</text>
<text x="46.2" y="308.37" font-size="6.4" text-anchor="end">100</text>
<text x="81.4" y="343.84" font-size="6.3" text-anchor="middle">100</text>
<text x="46.2" y="294.92" font-size="6.4" text-anchor="end">150</text>
<text x="95.8" y="343.84" font-size="6.3" text-anchor="middle">150</text>
<text x="46.2" y="281.47" font-size="6.4" text-anchor="end">200</text>
<text x="110.2" y="343.84" font-size="6.3" text-anchor="middle">200</text>
<text x="46.2" y="268.02" font-size="6.4" text-anchor="end">250</text>
<text x="124.6" y="343.84" font-size="6.3" text-anchor="middle">250</text>
<text x="90.8" y="356.65" font-size="8.6" text-anchor="middle" font-weight="bold" textLength="15.6" lengthAdjust="spacingAndGlyphs">FSC-A</text>
<text x="130.5" y="351.17" font-size="5" text-anchor="end" textLength="19" lengthAdjust="spacingAndGlyphs">(×1,000)</text>
<text x="0" y="3.05" font-size="8.6" text-anchor="middle" font-weight="bold" textLength="15.6" lengthAdjust="spacingAndGlyphs" transform="translate(27.9 295.8) rotate(-90)">SSC-A</text>
<text x="0" y="1.77" font-size="5" text-anchor="middle" textLength="20" lengthAdjust="spacingAndGlyphs" transform="translate(31.6 270.8) rotate(-90)">(×1,000)</text>
<text x="108" y="289.4" font-size="6.2" text-anchor="middle" fill="#3a3a3a" style="stroke-width:0.12px">79%</text>
<text x="95.8" y="300.65" font-size="5.2" text-anchor="middle" fill="#555" style="stroke:none">P1</text>
<text x="91" y="308.4" font-size="6.2" fill="#333">Live gate</text>
<text x="56.5" y="271.53" font-size="6" fill="#333">T0</text>
<g clip-path="url(#clipC2)">
<path d="M208.02 298.87h0M196.64 304.66h0M198.39 282.52h0M233.8 305.63h0M223.31 296.88h0M199.79 307.68h0M217.38 292.34h0M209.5 279.19h0M196.14 306.71h0M220.64 275h0M200.03 304.35h0M199.74 292.85h0M192.33 306.71h0M212.28 298.11h0M203.41 294.34h0M213.72 301.09h0M195.29 304.84h0M207.03 304.49h0M190.72 306.5h0M218.46 316.98h0M208.01 298.68h0M210.29 289.38h0M211.57 282.28h0M188.83 285.94h0M237.91 290.54h0M178.78 301.39h0M177.33 268.8h0M180.92 309.66h0M218.46 281.44h0M207.06 308.37h0M222.25 290.04h0M216.56 322.56h0M208.37 282.41h0M209.54 297.22h0M202.28 308.55h0M218.9 271.5h0M186.92 284.29h0M198.25 294.36h0M208.89 305.44h0M233.82 295.61h0M192.77 297.3h0M187.74 284.85h0M195.99 283.83h0M220.51 304.35h0M201.24 302.69h0M226.19 302.45h0M175.04 313.89h0M223.06 303.28h0M221.56 296.29h0M182.3 285.33h0M207.46 276.51h0M224.45 306.32h0M206.41 287.29h0M221 301.22h0M243 265.95h0M209.38 295.68h0M200.51 287.97h0M192.66 308.11h0M215.37 306.35h0M201.85 292.18h0M202.14 300.38h0M203.32 290.05h0M215.4 316.87h0M187.94 285.73h0M180.52 307.59h0M224.18 299.04h0M206.18 279.64h0M229.16 314.53h0M204.86 288.99h0M193.13 307.43h0M212.65 301.82h0M203.77 294.66h0M184.93 299.44h0M190.84 291.3h0M233.27 284.53h0M210.67 285.86h0M211.66 296.22h0" stroke="#98a8e8" stroke-width="1.05" stroke-linecap="round" opacity="0.3"/>
<path d="M203.19 272.38h0M212.13 291.33h0M221.87 305.86h0M191.05 322.85h0M237.03 292.12h0M221.17 293.31h0M220.98 307.15h0M240.17 321.49h0M235.69 286.51h0M228.54 307.06h0M208.98 305.66h0M229.97 265.85h0M230.54 274.46h0M210.84 288.56h0M241.69 305.47h0M233.13 292.21h0M193.49 327.38h0M226.95 298.72h0M204.76 309.12h0M243.18 315.43h0M237.91 318.99h0M207.34 293.7h0M210.84 298.93h0M226.63 298.08h0M221.18 289.89h0M249.4 310.15h0M236.86 314.83h0M220.48 321.32h0M234.24 304.02h0M192.48 290.88h0M229.96 301.79h0M238.86 292.31h0M222.14 314.17h0M213.64 305.63h0M234.05 309.19h0M228.28 277.69h0M207.07 289.77h0M248.13 309.14h0M194.94 309.19h0M233.05 300.69h0M215.69 317.3h0M239.89 294.77h0M211.41 315.53h0M246.18 304.45h0M229.8 312.3h0M197.37 305.76h0M193.42 315.97h0M219.94 318.87h0M245.71 311.59h0M227.03 308.16h0M226.07 303.54h0M221.23 299.17h0M236.81 281.68h0M231.04 290.25h0M229.49 303.03h0M209.24 291.29h0M244.01 308.27h0M246.81 282.62h0M204.18 293.41h0" stroke="#e6a0e0" stroke-width="1.05" stroke-linecap="round" opacity="0.3"/>
<path d="M193.48 321.7h0M188.78 303.2h0M194.53 305.41h0M188.52 329.66h0M189.39 315.09h0M191.85 314.12h0M190.1 324.54h0M196.89 321.05h0M190.06 316.95h0M193.44 307.29h0M203.24 313.45h0M198.76 293.4h0M189.59 312.46h0M198.11 304.48h0M192.83 310.31h0M194.82 309.76h0M192.6 319.77h0M188.65 323.73h0M185.83 313.58h0M200.51 308.62h0M196.82 300.56h0M194.12 306.86h0M197.04 309.04h0M192.11 317.07h0M202.62 303.63h0M200.06 303.91h0M191.38 314.34h0M191.68 310.74h0M193.31 318.84h0M186.26 296.53h0M196.27 309.39h0M192.26 311.39h0M195.04 308.81h0M195.75 308.88h0M187.07 311.41h0M191.06 319.69h0M184.36 316.89h0M183.72 320.1h0M198.16 309.84h0M195.81 295.17h0M190.33 322.88h0M183.49 305.5h0M195.61 309.04h0M193.5 318.84h0M200.53 312.93h0M194.44 320.14h0M198.66 304.37h0M194.86 316.46h0M197.75 312.44h0M197.54 307.83h0M192.48 314.08h0M182.45 319.91h0M197.6 317.25h0M197.26 307.09h0M196.21 313.15h0M199.17 312.1h0M194.39 319.99h0M196.71 311.62h0M192.55 305.17h0M193.81 311.1h0M200.59 299.8h0M190.17 311.28h0M188.9 317.13h0M189.02 321.64h0M195.01 303.04h0M195.83 312.77h0M193.72 303.52h0M192.66 307.31h0M199.3 301.39h0M201.17 305.03h0M186.37 310.83h0M193.47 309.1h0M185.15 298.96h0M191.71 319.95h0M194.2 300.35h0M198.16 304.04h0M194.99 304.34h0M189.38 310.87h0M196.79 310.43h0M190.06 318.26h0M192.59 310.36h0M190.85 314.53h0M191.09 309.44h0M187.82 312.4h0M190.82 307.79h0M195.54 303.07h0M190.39 319.9h0M199.83 307.04h0M189.77 324.88h0M188.52 325.6h0M190.17 310.6h0M194.34 311.57h0M198.81 310.29h0M185.86 320.39h0M195.73 312.74h0M196.15 311.49h0M197.53 303.42h0M190.98 310.86h0M203.31 311.72h0M194.17 319.1h0M191.81 311.89h0M193 314.44h0M198.21 308h0M192.04 318.19h0M185.51 313.95h0M196.36 308.12h0M195.71 298.44h0M191.26 307.23h0M195.53 309.84h0M190.37 312.45h0M197.85 304.86h0M196.81 308.61h0M202.21 301.91h0M190.81 307.42h0M191.64 317.69h0M193.32 315.55h0M194.17 319.17h0M182.74 315.88h0M194.05 301.73h0M195.87 306.1h0" stroke="#4a52e0" stroke-width="1.05" stroke-linecap="round" opacity="0.55"/>
<ellipse cx="191.5" cy="323.5" rx="5.1" ry="4.5" transform="rotate(-35 191.5 323.5)" fill="#1c1ce0" opacity="0.74" filter="url(#bl)"/>
<path d="M187.27 321.57h0M186.21 325.02h0M193.37 324.43h0M192.18 322.77h0M188.32 327.31h0M193.68 319.72h0M194.31 322.92h0M190.14 327.26h0M191.06 326.17h0M191.06 325.41h0M191.45 322.48h0M192.68 326.04h0M187.09 326.92h0M194.84 319.54h0M188.36 317.14h0M193.54 318.94h0M200.13 328.39h0M191.8 325.16h0M193.14 323.81h0M193 321.28h0M190.94 318.14h0M189.77 322h0M193.74 330.36h0M191.07 322.68h0M189.08 324.8h0M189.24 323.57h0M183.51 324.12h0M193.61 326.02h0M186.74 322.79h0M192.8 328.65h0M191.27 323.48h0M191.72 321.95h0M192.83 314.2h0M193.28 324.83h0M190.48 330.42h0M190.68 321.56h0M190.98 326.29h0M189.92 318.88h0M190.81 326.58h0M191.04 327.04h0M187.93 321.44h0M189.61 324.51h0M184.7 324.6h0M192.1 328.32h0M188.62 319.47h0M195.86 322.61h0M189.27 322.06h0M192.19 326.69h0M195.78 326.18h0M193.44 323.08h0M195.65 319.95h0M190.42 318.48h0M190.84 322.68h0M194 319.13h0M194.63 318.9h0M184.82 316.78h0M193.35 325.2h0M184.66 323.69h0M190.74 324.58h0M188.59 324.58h0M191.84 325.26h0M188.16 321.58h0M193.2 326.91h0M193.49 326.95h0M193.23 323.05h0M194.14 325.9h0M188.73 322.87h0M186.32 323.75h0M196.23 322.94h0M194.1 318.81h0M191.37 326.01h0M193.14 322.51h0M187.24 326.46h0M183.92 321.94h0M190.75 324.03h0M197.17 322.87h0M190.16 327.8h0M187.11 322.18h0M198.85 324.47h0M187.04 328.35h0M193.95 323.17h0M197.08 328.57h0M191.73 325.06h0M190.3 320.67h0M198.41 317.82h0M189.91 327.91h0M189.44 322.42h0M189.95 322.69h0M186.1 319.87h0M189.04 327.94h0M196.61 321.35h0M192.04 322.97h0M186.84 327.27h0M189.39 324.66h0M192.81 322.97h0M193.82 324.42h0M190.25 330.25h0M192.21 325.06h0M194.62 326.41h0M194.4 325.32h0M193.54 324.08h0M185.56 325.82h0M195.19 317.81h0M193.89 325.65h0M196.02 319.25h0M198.11 315.97h0M191.15 323.95h0M190.91 329.97h0M197.64 327.15h0M189.66 321.94h0M188.7 322.17h0M188.18 324.88h0M198.05 322.85h0M187.8 320.85h0M185.55 323.3h0M190.37 324.54h0M188.7 326.36h0M195.35 328.06h0M189.08 322.53h0M191.38 329.59h0M192.05 320.72h0M188.5 323.03h0M193.4 321.92h0M192.34 317.22h0M191.09 325.06h0M188.73 323.37h0M190.73 321.22h0M193.6 321.21h0M192.26 324.6h0M189.82 320.27h0M190.74 322.58h0M192.74 323.43h0M193.58 322.74h0M189.35 324.62h0M186.27 318.9h0M191.48 323.22h0M190.1 325.45h0M193.75 325.91h0M195.13 325.51h0M194.75 328.27h0M189.46 324.16h0M189.33 325.01h0M198.19 322.68h0M196.55 325.5h0M188.99 326.55h0M190.11 326.49h0M199.07 323.2h0M195.24 319.88h0M191.66 322.97h0M194.86 321.44h0M186.08 324.57h0M192.68 325.17h0M191.27 318.79h0M188.12 329.69h0M188.49 323.84h0M192.64 320.49h0M195.15 322.01h0M189.3 323.87h0M194.57 326.17h0M198.6 324.15h0M190.84 324.82h0M189.1 327.97h0M190.36 322.24h0M190.41 324.27h0M194.12 319.52h0M191.45 322.48h0M188.97 324.64h0M198.08 318.67h0M190.8 325.47h0M193.67 323.8h0M189.94 317.26h0M196.77 326.38h0M192.36 323.7h0M191.46 319.97h0M190.65 322.68h0M185.18 322.89h0M190 322.66h0M193.18 327.07h0M191.63 324.74h0M194.35 326.77h0M188.12 322.38h0M192.76 317.46h0M196.68 321.62h0M184.5 326.55h0M192.3 324.58h0M192.06 328.52h0M185.08 329.78h0M195.43 326.69h0M190.82 326.2h0M190.16 323.81h0M188.51 323.09h0M192.37 318.3h0M195.6 322.01h0M191.94 322.49h0M192.78 321.22h0M190.31 322.46h0M196.87 330.34h0M190.85 326.97h0M190.31 321.59h0M191.52 327.76h0M192.2 322.28h0M192.45 319.96h0M195.72 327.68h0M195.21 321.78h0M198.67 317.8h0M185.7 327.71h0M194.26 327.36h0M189.41 323.89h0M191.29 325.9h0M186.4 324.26h0M191 322.48h0M191.83 325.5h0M189.54 324.45h0M192.08 325.84h0M191.16 326.53h0M187.8 332.11h0M195.02 322.14h0M189.38 322.28h0M188.78 325.24h0M192.52 323.13h0M190.87 326.53h0M186.48 329.22h0M192.83 320.14h0M189.54 330.65h0M187.49 319.07h0M192.09 323.64h0M191.67 315.75h0M192.95 318.51h0M192.84 324.43h0M188.27 323.41h0M190.06 323.92h0M193.9 320.48h0M195.28 318.31h0M194.13 324.03h0M190.95 326.53h0M195.27 322.78h0M192.99 327.85h0M191 325.21h0M190.52 323.75h0M192.91 322.01h0M192.13 322.77h0M195.14 322.82h0M193.96 319.32h0M196.66 327.83h0M185.9 329.32h0M187.55 327.92h0M190.61 321.3h0M190.4 322.31h0M196.36 317.64h0M191.62 323.85h0M189.67 321.79h0M196.09 324.46h0M194.58 321.59h0M194.72 329.5h0M190.12 318.72h0M185.85 322.16h0M190.16 327.17h0M196.65 323.54h0M191.45 331.77h0M196.96 325.83h0M193.44 322.25h0M194.17 322.76h0M196.84 325.72h0M194.19 324h0M186.94 329.68h0M188.15 324.67h0M188.86 323.3h0M194.68 322.62h0M188.42 325.78h0M189.8 325.25h0M194.34 329.7h0M195.11 320.85h0M187.85 326.83h0M186.69 324.66h0M196.66 327.15h0M184.51 326.12h0M193.77 324.78h0M190.02 324.08h0M185.27 323.95h0M193.12 328.3h0M191.21 329.03h0M190.5 321.08h0M194.72 325.94h0M197.54 323.3h0M190.67 322.39h0M192.37 324.15h0M188.8 323.06h0M191.16 323.15h0M194.71 321.86h0M184.68 325.18h0M189.81 317.18h0M190.42 325.13h0M189.4 320.06h0M190.69 320.42h0M193.92 321.91h0M191.61 322.25h0M192.26 326.91h0M193.67 324.74h0M191.29 323.13h0M191.25 324.35h0M190.07 320.24h0M196.4 325.33h0M192.62 324.29h0M193.26 325.1h0M188.41 326.72h0M189.38 321.22h0M188.63 330.42h0M192.27 320.34h0M190.13 327.11h0M195.9 322.1h0M198.35 315.54h0M191.11 325.3h0M194.28 319.59h0M192.66 322.76h0M190.47 325.34h0M190 326.35h0M196.27 326.98h0M196.89 322.93h0M192.42 322.72h0M187.16 326.27h0M191.38 329.51h0M189.36 321.79h0M194.51 319.75h0M194.75 326.46h0M194.42 325.73h0M194.21 320.2h0M194.17 328.53h0M192.74 325.8h0M191.29 324.28h0M186.97 327.57h0M193.1 323.02h0M192.17 322.03h0M195.79 323.85h0M189.23 327.3h0M185.89 320.33h0M196.71 325.41h0M193.37 324.25h0M195.33 320.82h0M190.4 327.05h0M190.15 320.38h0M189.68 324.91h0M191.25 321.3h0M194.84 331.14h0M191.13 319.8h0M192.72 318.83h0M194.87 324.3h0M184.4 324.07h0M193.84 321.27h0M191.33 320.6h0M185.65 321.33h0M189.03 325.23h0M193.44 326.22h0M193.29 322.65h0M192.61 327.76h0M188.53 328.87h0M193.76 325.06h0M193.36 325.15h0M196.45 316.1h0M186.63 324.18h0M200.23 321.01h0M194.56 317.53h0M195.39 327.26h0M197.4 322.09h0M192.16 323.86h0M192.32 318.87h0M188.34 323.34h0M191.08 322.42h0M186.57 322.47h0M186.01 325h0M188.52 320.86h0M191.15 326.9h0M196.13 326.72h0M195.88 322.22h0M189.72 321.96h0M191.34 322.92h0M190.61 321.12h0M185.72 325.19h0M191.48 321.87h0M190.24 321.63h0M192.72 325.51h0M186.67 323.12h0M187.83 330h0M191.11 324.43h0M194.93 326.52h0M194.48 319.8h0M197.44 325.27h0M193.24 317.36h0M194.96 326.24h0M194.38 320.77h0M191.28 324.4h0M194.87 324.59h0M192.05 318.77h0M199.84 319.47h0M189.76 319.58h0M189.83 328.66h0M196.83 322.94h0M192.85 330.12h0M190.49 322.41h0M189.21 321.97h0M188.69 324.87h0" stroke="#1c1ce0" stroke-width="1.05" stroke-linecap="round" opacity="0.92"/>
<path d="M218.68 312.07h0M212.47 316.81h0M243.51 305.99h0M227.82 310.31h0M206.58 326.3h0M217.34 312.68h0M196.68 322.88h0M235.63 307.25h0M242.06 311.87h0M232.07 302.12h0M225.35 324.32h0M217.65 320.29h0M210.12 323.34h0M225.51 310.23h0M216.98 322.53h0M217.86 315.42h0M216.01 317.75h0M219.24 316.84h0M228.64 308.22h0M235.07 303.15h0M222.47 312.74h0M222.24 315.44h0M214.76 326.54h0M208.3 314.88h0M212.37 319.93h0M232.45 317h0M223.72 313.09h0M228.47 305.98h0M225.78 313.33h0M219.69 320.02h0M207.06 312.37h0M217.44 314.11h0M208.11 319.3h0M238.59 303.12h0M227.3 320.49h0M218.44 316.29h0M240.24 306.95h0M214.92 308.79h0M227.63 314.1h0M221 317h0M227 317.57h0M219.52 318.7h0M226.54 313.18h0M234.44 307.84h0M210.4 320.33h0M198.4 317.12h0M233.44 307.39h0M222.34 311.75h0M227.79 306.5h0M218.15 313.64h0M236.69 309.86h0M240.73 312.04h0M210.43 318.14h0M229.11 314.43h0M214.19 312.74h0M207.96 323.6h0M222.12 322.97h0M226.85 312.05h0M207.48 316.67h0M210.08 320.48h0M232.73 308.88h0M221.67 313.92h0M222.81 307.32h0M210.59 318.28h0M215.57 317.4h0M223.53 316.09h0M225.6 319.16h0M220.77 309.45h0M234.46 304.37h0M224.32 317.05h0M206.36 318.98h0M212.8 317.21h0M221.33 316.16h0M233.53 310.47h0M213.83 315.09h0M219.37 320.25h0M221.72 316.54h0M214.77 317.91h0M213.56 318.18h0M219.26 316.43h0" stroke="#e6a0e0" stroke-width="1.05" stroke-linecap="round" opacity="0.5"/>
<ellipse cx="208.5" cy="322.8" rx="10.88" ry="2.63" transform="rotate(-26.6 208.5 322.8)" fill="#c81ad8" opacity="0.72" filter="url(#bl)"/>
<path d="M209.53 323.14h0M210.93 321.4h0M202.26 324.77h0M208.69 323.4h0M205.91 326.73h0M216.37 318.09h0M199.02 325.72h0M206.39 323.44h0M213.13 323.35h0M205.84 323.05h0M204.65 321.38h0M205.86 326.77h0M211.61 325.88h0M201.35 326.81h0M207.42 323.22h0M206.83 322.31h0M198.9 326.22h0M209.5 322.15h0M204.91 323.68h0M209.55 321.7h0M212.91 320.38h0M210.04 322.13h0M201.27 326.69h0M209.42 321.15h0M198.48 327.13h0M203.89 325.84h0M217 316.69h0M208.59 323.99h0M217.27 318.8h0M206.94 323.35h0M209.44 325.56h0M201.88 326.76h0M212.99 319.1h0M206.41 322.47h0M212.56 322.79h0M211.23 322.84h0M211.98 322.88h0M210.22 322.34h0M208 323.16h0M209.27 325.11h0M203.98 324.53h0M195.84 329.02h0M211.12 321.61h0M220.77 317.79h0M214.65 320.03h0M223.03 318.53h0M210.96 321.18h0M202.61 325.39h0M202.7 325.88h0M213.48 322.3h0M209.5 320.15h0M206.67 321.8h0M213.97 323.23h0M203.07 324.82h0M211.35 321.11h0M208.55 327.12h0M209.01 321.67h0M214.89 318.5h0M207.18 322.24h0M216.34 318.6h0M216.62 319.83h0M204.44 325.7h0M221.62 315.36h0M200.54 324.81h0M208.27 323.74h0M212.98 321.02h0M194.84 328.46h0M215.97 322.69h0M214.83 318.87h0M208.05 323.41h0M211.61 324.94h0M209.28 321.1h0M207.96 324.61h0M214.23 318.58h0M205.47 321.99h0M209.15 324.57h0M211.49 323.32h0M213.5 320.31h0M216.14 321.92h0M199.49 326.07h0M196.64 328.41h0M207.1 321.83h0M209.48 325.39h0M202.14 325.63h0M210.01 321.25h0M213.41 323.36h0M210.16 320.44h0M219.05 319.82h0M202.41 325.52h0M209.56 324.47h0M219.2 316.09h0M211.33 318.48h0M202.01 325.92h0M209.68 322.12h0M214.49 317.57h0M220.92 317.3h0M212.34 320.75h0M214.74 318.24h0M201.78 325.4h0M206 321.33h0M214.63 317.64h0M201.62 322.92h0M208.14 322.93h0M196.88 326.63h0M217.62 319.51h0M207.09 321.86h0M210.56 318.68h0M198.14 323.89h0M201.68 328.2h0M219.11 317.64h0M205.97 322.72h0M205.88 325.45h0M211.04 320.45h0M211.29 320.34h0M197.38 329.04h0M203.14 326.24h0M209.36 323.77h0M208.26 322.24h0M209.62 319.94h0M205.75 323.53h0M204.93 319.73h0M210.69 324.05h0M204.83 325.46h0M203.13 324.19h0M206.02 325.81h0M208.23 322.18h0M207.01 322h0M205.53 323.82h0M207.12 323.71h0M207.49 321.55h0M209.99 321.18h0M210.02 320.64h0M200.58 325.68h0M214.51 320.77h0M199.88 328.82h0M211.83 321.62h0M204.19 324.5h0M211.88 321.27h0M213.89 318.33h0M197.32 327.81h0M211.21 319.64h0M209.88 321.75h0M206.18 325.03h0M210.02 320.45h0M205.17 323.47h0M209.63 323.52h0M202.57 326.32h0M211 316.65h0M214.08 325.62h0M211.89 319.04h0M204.55 324.55h0M219.04 317.51h0M219.99 317.43h0M208.21 323.69h0M204.35 320.73h0M206.32 324.53h0M212.55 321.18h0M213.76 318.69h0M203.8 324.4h0M196.79 328.87h0M211.19 321.84h0M209.05 324.71h0M208.63 320.8h0M212.08 322.73h0M203.62 329.31h0M208.02 321.17h0M206.13 322.62h0M210.3 321.24h0M215.75 319.99h0M207.54 321.17h0M204.14 326.77h0M217.03 322.22h0M212.31 320.56h0M206.6 322.32h0M197.49 327.2h0M201.83 322.53h0M208.55 321.29h0M211.6 321.59h0M205.37 324.65h0M210.17 320.38h0M204.65 324.79h0M205.91 324.28h0M212.54 323.77h0M206.9 324.09h0M209.94 324.27h0M213.12 320.04h0M214.65 319.45h0M204.34 323.62h0M205.53 321.17h0M200.71 326.97h0M199.7 324.68h0M210.7 323.61h0M205.09 324.2h0M196.87 326.94h0M209.89 318.7h0M204.12 326.86h0M206.56 324.18h0M210.48 321.53h0M210.53 321.92h0M208.51 324.41h0M197.85 330.92h0M212.27 322.99h0M204.81 324.75h0M200.96 328.86h0M194.26 326.83h0M214.91 317.43h0M210.31 325.15h0M209.16 323.29h0M210.76 319.35h0M206.73 321.15h0M198.92 325.63h0M213.08 322.95h0M214.19 320.55h0M210.27 319.67h0M216.94 318.36h0M219.45 318.08h0M203.27 324.52h0M204.97 322.83h0M213.19 320.18h0M209.05 322.07h0M208.68 320.83h0M213.96 321.01h0M213.09 322.05h0M205.15 323.12h0M209.76 324.21h0M203.8 324.27h0M207.61 324.48h0M201.27 324.94h0M197.79 330.19h0M204.6 322.76h0M204.65 324.21h0M213.57 320.76h0M217.86 319.58h0M208.5 323.04h0M211.6 322.83h0M205.45 326.38h0M202.21 324.07h0M206.22 322.89h0M205.78 322.01h0M210.91 323.92h0M210.28 325.26h0M218.88 320.33h0M206.6 322.61h0M198.29 326.5h0M210.28 325.11h0M203.82 323.36h0M209.78 322.9h0M215.58 321.31h0M204.7 324.83h0M207.49 322.31h0M211.43 321.7h0M203.04 325.83h0M210.15 323.43h0M212.44 323.28h0M213.25 321.07h0M215.75 321.99h0M211.11 320.45h0M211.19 322.93h0M199.49 325.04h0M194.14 332.75h0M201.87 323.68h0M217.12 320.02h0M209.66 323.77h0M195.28 328.91h0M205.34 322.82h0M210.48 321.88h0M198.05 328.66h0M210.28 318.45h0M201.49 325.43h0M215.19 321.54h0M208.76 323.13h0M224.94 311.63h0M200.57 326.2h0M209.46 320.89h0M198.58 324.24h0M215.41 320.37h0M208.89 321.96h0M214.17 321.12h0M209.04 322.54h0M201.38 325.44h0M205.66 326.54h0M201.28 326.16h0M202.38 325.62h0M208.56 320.95h0M214.99 320.58h0M214.25 322.13h0M211.13 320.8h0M206.02 326h0M211.26 321.11h0M203.19 324.48h0M210.26 323.45h0M213.34 320.6h0M208.13 324.8h0M207.77 328.11h0M207.02 326.09h0M213.43 323.98h0M206.69 323.69h0M201.1 328.38h0M206.21 324.22h0M202.44 325.94h0M216.3 317.07h0M208.79 323.28h0M200.36 327.6h0M209.64 321.38h0M211.46 318.54h0M210.7 321.86h0M206.19 323.39h0M209.46 322.68h0M210.56 323.01h0M215.28 322.11h0M210.61 321.91h0M221.6 316.73h0M207.43 323.79h0M215.82 315.71h0M208.82 323.25h0M198.53 327.24h0M202.04 326.66h0M197.29 326.38h0M198.89 328.14h0M214.04 316.81h0M204.91 325.07h0M211.38 320.03h0M202.7 323.95h0M208.58 323.19h0M201.89 324.64h0M213.37 320.26h0M207.57 324.6h0M206.38 325.05h0M207.32 322.82h0M219.64 314.13h0M211.38 322.23h0M212.87 319.68h0M201.97 327.49h0M204.61 324.32h0M211.07 323.79h0M198.45 329.22h0M216.1 319.02h0M210.55 323.09h0M208.57 323.25h0M206.65 321.99h0M207.23 323.66h0M206.11 325.26h0M217.27 320.56h0M212.77 321.6h0M214.77 317.67h0M206.81 323.8h0M203.57 325.53h0M215.71 317.94h0M200.96 325.13h0M204.31 323.16h0M212.78 321.29h0M215.3 321h0M202.15 328.89h0M207.39 324.56h0M208.89 323.26h0M207.21 322.19h0M203.36 324.83h0M212.72 321.68h0M204.87 323.09h0M207.98 325.26h0M196.39 330.7h0M208.67 324.77h0M198.18 329.88h0M212.68 321.17h0M211.87 322.6h0M206.11 325.34h0M208.47 320.51h0M210.11 324.55h0M208.35 324.68h0M210.7 322.13h0M207.46 322.57h0M205.42 323.52h0M204.14 325.46h0M218.27 318.57h0M209.76 322.65h0M207.84 321.86h0M213.23 322.05h0M207.9 327.2h0M206.17 323.67h0M213.07 322.56h0M214.37 319.98h0M211.33 318.99h0M199.97 326.92h0M207.53 320.12h0M209.45 325.1h0M210.89 321.21h0M203.17 324.81h0M201.93 324.67h0M208.31 324.18h0M203.31 325.14h0M202.33 325.69h0M208.01 322.9h0M214.68 322.1h0M210.43 324.84h0M214.42 318.91h0M202.57 325.18h0M212.45 320.77h0M207.95 321.98h0M202.72 323.82h0M206.88 325.63h0M203.04 324.18h0M206.19 321.37h0M203.5 323.53h0M215.17 318.43h0M205.92 322.86h0M201.39 328.85h0M207.67 324.05h0M209.91 320.29h0M205.61 321.65h0M212.98 319.73h0M203.59 326.01h0M203.69 325.41h0M217.02 317.01h0M207.05 319.98h0M210.94 320.16h0M211.59 322.1h0M211.25 320.28h0M208.36 322.05h0M205.68 319.99h0M214.13 318.88h0" stroke="#c81ad8" stroke-width="1.05" stroke-linecap="round" opacity="0.9"/>
</g>
<rect x="176.3" y="263" width="75.5" height="70" fill="none" stroke="#2a2a2a" stroke-width="1"/>
<path d="M194.16 330.31 L231.31 266.29 L248.3 266.83 L245.71 326.01 L194.16 330.31" stroke="#55605a" stroke-width="0.8" fill="none" stroke-linejoin="round"/>
<path d="M176.3 333h-2.4M176.3 333v2.4M176.3 330.31h-1.4M179.18 333v1.4M176.3 327.62h-1.4M182.06 333v1.4M176.3 324.93h-1.4M184.94 333v1.4M176.3 322.24h-1.4M187.82 333v1.4M176.3 319.55h-2.4M190.7 333v2.4M176.3 316.86h-1.4M193.58 333v1.4M176.3 314.17h-1.4M196.46 333v1.4M176.3 311.48h-1.4M199.34 333v1.4M176.3 308.79h-1.4M202.22 333v1.4M176.3 306.1h-2.4M205.1 333v2.4M176.3 303.41h-1.4M207.98 333v1.4M176.3 300.72h-1.4M210.86 333v1.4M176.3 298.03h-1.4M213.74 333v1.4M176.3 295.34h-1.4M216.62 333v1.4M176.3 292.65h-2.4M219.5 333v2.4M176.3 289.96h-1.4M222.38 333v1.4M176.3 287.27h-1.4M225.26 333v1.4M176.3 284.58h-1.4M228.14 333v1.4M176.3 281.89h-1.4M231.02 333v1.4M176.3 279.2h-2.4M233.9 333v2.4M176.3 276.51h-1.4M236.78 333v1.4M176.3 273.82h-1.4M239.66 333v1.4M176.3 271.13h-1.4M242.54 333v1.4M176.3 268.44h-1.4M245.42 333v1.4M176.3 265.75h-2.4M248.3 333v2.4" stroke="#2a2a2a" stroke-width="0.7" fill="none"/>
<text x="169.9" y="321.82" font-size="6.4" text-anchor="end">50</text>
<text x="190.7" y="343.84" font-size="6.3" text-anchor="middle">50</text>
<text x="169.9" y="308.37" font-size="6.4" text-anchor="end">100</text>
<text x="205.1" y="343.84" font-size="6.3" text-anchor="middle">100</text>
<text x="169.9" y="294.92" font-size="6.4" text-anchor="end">150</text>
<text x="219.5" y="343.84" font-size="6.3" text-anchor="middle">150</text>
<text x="169.9" y="281.47" font-size="6.4" text-anchor="end">200</text>
<text x="233.9" y="343.84" font-size="6.3" text-anchor="middle">200</text>
<text x="169.9" y="268.02" font-size="6.4" text-anchor="end">250</text>
<text x="248.3" y="343.84" font-size="6.3" text-anchor="middle">250</text>
<text x="214.5" y="356.65" font-size="8.6" text-anchor="middle" font-weight="bold" textLength="15.6" lengthAdjust="spacingAndGlyphs">FSC-A</text>
<text x="254.2" y="351.17" font-size="5" text-anchor="end" textLength="19" lengthAdjust="spacingAndGlyphs">(×1,000)</text>
<text x="0" y="3.05" font-size="8.6" text-anchor="middle" font-weight="bold" textLength="15.6" lengthAdjust="spacingAndGlyphs" transform="translate(151.6 295.8) rotate(-90)">SSC-A</text>
<text x="0" y="1.77" font-size="5" text-anchor="middle" textLength="20" lengthAdjust="spacingAndGlyphs" transform="translate(155.3 270.8) rotate(-90)">(×1,000)</text>
<text x="215.5" y="259.84" font-size="8" text-anchor="middle">24h</text>
<text x="231.6" y="292.6" font-size="6.2" text-anchor="middle" fill="#3a3a3a" style="stroke-width:0.12px">81.4%</text>
<text x="219.9" y="301.25" font-size="5.2" text-anchor="middle" fill="#555" style="stroke:none">P1</text>
<g clip-path="url(#clipC3)">
<path d="M357.65 280.06h0M331.69 294.15h0M315.92 280.61h0M317.76 282.97h0M321.55 268.27h0M321.29 280h0M311.16 298.75h0M328.61 280.27h0M319.36 276.83h0M320.5 277.45h0M314.31 289.83h0M308.12 269.46h0M318.75 295.96h0M332.71 293.97h0M321.18 280.81h0M340.32 299.72h0M321.8 261.75h0M325.39 277.73h0M349.73 261.54h0M333.72 292.37h0M316.92 297.36h0M322.07 289.66h0M333.65 281.72h0M355.96 300.22h0M320.69 286.68h0M321.1 292.24h0M341.04 269.38h0M310.82 301.28h0M320.33 277.35h0M339.12 301.01h0M334.29 305.45h0M326.46 301.94h0M335.72 308.66h0M341.34 277.56h0M309.65 289.7h0M298.3 283.26h0M329.42 269.15h0M336.21 288.22h0M317.88 289.27h0M307.78 295.85h0M325.42 314.52h0M324.16 281.36h0M347.49 316.59h0M336.96 282.86h0M328.1 292.2h0M342.79 276.23h0M321.71 292.95h0M310.19 303.52h0M334.34 286.99h0M334.32 299.84h0M321.56 294.53h0M312.48 291.41h0M328.67 293.88h0M336.04 303.65h0M332.86 294.65h0M298.78 321.94h0M325.98 294.2h0M309.57 308.77h0M337.12 276.32h0M310.37 319.31h0M336.35 289.97h0M343.5 293.77h0M317.03 284.56h0M330.25 298.46h0M315.25 316.75h0M350.45 295.73h0M305.94 294.08h0M330.67 290.51h0M308.23 309.24h0M347.5 283.38h0M324.65 281.7h0M319.04 308.04h0M297.51 301.22h0M351.91 293.12h0M337.04 299.92h0M337.06 267.59h0M343.21 289.08h0M330.59 306.15h0M314.77 303.03h0M312.2 292.8h0M346.92 294.5h0M301.63 290.22h0M315.46 284.8h0M319.86 292.56h0M334.21 299.44h0M305.01 281.58h0M297.32 289.75h0M324.93 283.3h0M344.42 308.47h0M337.11 267.25h0M328.45 293.7h0M319.93 291.52h0M329.69 305.09h0M321.11 302.22h0M338.08 284.1h0M312.29 278.19h0M327.15 281.45h0M323.23 275.07h0M333.69 282h0M328.59 291.6h0M365.8 280.29h0M348.98 283.69h0M348.95 293.41h0M319.55 274h0M315.26 288.72h0M333.52 296.99h0M343.79 265.39h0M342.07 294.95h0M304.17 293.29h0M309.34 293.91h0M312.18 274.88h0M325.69 317.72h0M335.26 286.88h0M357.77 275.31h0M321.84 303.39h0M337.28 271.15h0M327.49 284.51h0M353.16 299.69h0M336.87 289.14h0M346.9 313.48h0M307.76 299.92h0M321.92 266.42h0M311.98 304.51h0M349.08 266.18h0M335.52 293.14h0M320.12 278.07h0M317.76 291.39h0M332.75 323.38h0M313.78 300.02h0M310.11 289.34h0M332.7 308.11h0M364.41 310.86h0M321.06 286.87h0M316.11 301.09h0M306.26 315.74h0M303.64 301.58h0M333.4 279.95h0M338.61 298.63h0M325.15 278.91h0M330.32 270.62h0M326.85 291.54h0M327.22 307.82h0M300.58 310.22h0M317.67 292.37h0M326.78 279.67h0M312.47 288.23h0M317.38 284.34h0M311.89 298.21h0M319.66 287.79h0" stroke="#98a8e8" stroke-width="1.05" stroke-linecap="round" opacity="0.35"/>
<path d="M343.4 290.39h0M345.44 287.15h0M331.91 308.92h0M327.99 277.01h0M343.25 294.76h0M334.49 269.66h0M336.58 326.59h0M359.39 288.12h0M348.5 284.26h0M362.97 291.67h0M341.14 287.52h0M360.89 289.92h0M355 305.56h0M340.4 299.99h0M365.44 283.73h0M339.15 280.12h0M307.18 296.61h0M361.12 296.92h0M341.36 295.19h0M370.8 283.47h0M340.9 312.76h0M333.46 316.61h0M371.68 296.26h0M334.94 313.49h0M352.85 306.22h0M370.3 296.79h0M351.6 291.24h0M348.87 313.01h0M351.43 286.78h0M361.75 322.83h0M338.7 290.36h0M358.55 320.09h0M358.08 315.85h0M345.29 303.69h0M337.19 309.14h0M360.3 304.23h0M344.44 291.49h0M354.05 298.76h0M351.86 298.41h0M366.36 283.23h0M340.8 308.03h0M348.71 304.61h0M314.27 305.31h0M337.54 281.64h0M371.51 284.12h0M340.46 279.98h0M340.18 298.47h0M332.95 300.2h0M358.12 286.06h0M352.49 303.52h0M333.38 286.37h0M359.34 287.86h0M353.64 307.78h0M360.56 299.16h0M341.02 299.67h0M374.33 273.73h0M355.74 261.77h0M348.36 299.4h0M342.74 297.8h0M346.57 329.94h0M362.02 295.04h0M346.23 298.1h0M365.09 313.02h0M358.13 287h0M368.85 319.92h0M361.4 301.01h0M349.12 296.06h0M323.27 315.49h0M354.18 286.01h0M361.05 283.22h0M352.28 317.41h0M357.79 317.71h0M343.4 289.57h0M344.67 298.43h0M336.81 314.96h0M369.07 302.13h0M352.22 299.51h0M343.11 300h0M331.35 286.42h0M347.85 292.62h0M370.2 273.23h0M356.47 278.76h0M339.86 288.5h0M370.01 282.92h0M370 279.47h0M363.73 288.12h0M361.04 315.16h0M366.18 285.97h0" stroke="#e6a0e0" stroke-width="1.05" stroke-linecap="round" opacity="0.3"/>
<path d="M318.67 305.11h0M323.51 293.55h0M318.01 304.5h0M320.05 301.7h0M322.18 304.88h0M324.6 293.64h0M321.02 305.59h0M313.98 305.41h0M312.68 299.14h0M319.33 310.35h0M326.14 308.93h0M320.23 306.84h0M319.03 303.46h0M324.04 291h0M314.08 306.75h0M321.48 307.2h0M320.51 308.82h0M318.09 299.09h0M317.23 316.04h0M312.83 308.68h0M319.51 306.69h0M319.04 300.87h0M316.71 305h0M314.57 307.95h0M312.89 310.36h0M324.11 304.36h0M324.23 295.66h0M320.33 303.78h0M318.88 304.15h0M317.22 300.7h0M315.81 312.9h0M319.79 309.44h0M320.03 309.17h0M321.17 304.57h0M316.63 304.82h0M316.26 315.76h0M320.33 296.22h0M325.31 293.98h0M318.56 308.21h0M324.64 305.76h0M319.41 303.73h0M320.27 299.39h0M317.97 319.31h0M322.3 292.85h0M312.13 306.12h0M323.35 296.8h0M317.88 304.54h0M310.18 304.17h0M314.75 304.67h0M325.47 301.58h0M315.39 311.89h0M317.88 308.84h0M317.4 309.55h0M318.75 322.02h0M322.27 295.77h0M323.34 303.25h0M318.42 305.84h0M324.34 298.36h0M312.36 310.87h0M319.57 307.05h0M328.68 295.77h0M321.57 298.37h0M305.4 318.49h0M305.82 329.2h0M310.53 310.5h0M322.72 298.31h0M318.58 310.19h0M313.55 304.65h0M324.01 303.39h0M312.24 310.12h0" stroke="#4a52e0" stroke-width="1.05" stroke-linecap="round" opacity="0.45"/>
<path d="M311.52 322.82h0M314.61 318.61h0M310.28 326.99h0M311.2 324.94h0M315.66 315.15h0M310.95 317.58h0M310.3 318.12h0M311.45 322.36h0M312.89 317.3h0M309.67 327.65h0M308.43 324.75h0M314.28 322.6h0M308.8 323.04h0M312.97 325.37h0M314.58 322.24h0M312.55 321.11h0M311.19 320.64h0M321.36 315.41h0M317.44 316.91h0M316.91 314.97h0M312.47 320.28h0M312.88 323.93h0M307.89 326.66h0M312.33 322.4h0M303.28 327.47h0M309.97 322.21h0M318.09 319.14h0M322.65 316.73h0M316.08 316.17h0M307.85 322.49h0M314.34 318.11h0M308.66 322.62h0M316.7 317.65h0M315.2 323h0M314.49 315.67h0M321.53 309.2h0M314.83 315.49h0M323.51 312.43h0M313.26 319.46h0M313.07 322.85h0M315.99 313.53h0M319.94 313.88h0M312.27 323.8h0M314.37 321.03h0M305.75 324.85h0M312.27 321.32h0M317.45 317.77h0M314.64 322.39h0M313.05 324.51h0M305.47 324.44h0M317.68 321.59h0M317.31 318.3h0M313.81 316.97h0M311.64 317.65h0M308.97 326.24h0M317.48 311.7h0M311.37 319.62h0M310.64 319.67h0M315.39 317.25h0M302.55 327.43h0M312.37 320.46h0M309.61 318.81h0M316.31 320.49h0M315.74 313.24h0M316.93 320.28h0M309.59 330.62h0M310.86 321.19h0M315.21 320.79h0M312.6 319.16h0M310.63 327.59h0M304.26 325.29h0M314.77 318.05h0M316.23 320.63h0M312.52 320.27h0M305.41 326.61h0M320.38 313.89h0M302.12 332.24h0M307.81 318.98h0M318.35 310.08h0M312.39 321.12h0M314.77 320.26h0M307.82 324.68h0M320.37 316.78h0M314.27 330.52h0M315.02 320.3h0M315.4 321.43h0M306.04 322.39h0M315.63 316.37h0M309.96 328.01h0M312.78 325.1h0M311.85 319.8h0M313.06 323.43h0M315.57 319.24h0M316.19 316.54h0M311.72 321.55h0M310.86 322.61h0M310.91 322.48h0M309.18 320.06h0M312.4 314.38h0M315.26 323.78h0M309.38 314.82h0M312.31 320.6h0M307.65 322.22h0M317.19 317.74h0M308.73 324.41h0M312.48 320.05h0M317.68 313.78h0M307.55 323.87h0M311.48 319.7h0M309.4 328.74h0M311.36 322.77h0M306.42 325.79h0M310.33 320.94h0M311.67 323.22h0M313.84 320.23h0M318.51 313.75h0M315.9 320.79h0M317.52 319.44h0M309.72 318.29h0M312.78 322.03h0M309.85 323.86h0M308.17 329.3h0M310.64 318.17h0M315.06 310.74h0M314.89 318.65h0M310.08 321.94h0M319.87 314.36h0M308.05 319.66h0M309.01 321.7h0M310.34 326.89h0M307.24 322.71h0M311.34 320.92h0M318.84 311.11h0M311.48 320.75h0M310.63 325.85h0M311.83 323.81h0M310.93 320.44h0M307.16 327.88h0M315.09 321.25h0M311.39 314.36h0M314.35 319.31h0M315.96 318.62h0M309.82 327.02h0M305.81 326.74h0M315.38 313.38h0M316.11 315.29h0M306.01 325.79h0M316.4 321.72h0M313.66 320.84h0M315.61 318.73h0M313.57 319.49h0M310.25 321.86h0M317.39 322.57h0M307.5 315.1h0M314.35 321.9h0M305.95 327.92h0M301.17 332.17h0M308.6 322.58h0M306.89 327.14h0M319.25 323.62h0M317.37 318.92h0M312.35 318.16h0M313.39 323.38h0M315.14 321.68h0M321.31 318.85h0M308.14 321.79h0M315.07 315.68h0M317 318.69h0M314.06 319.5h0M318.03 314.3h0M312.61 325.21h0M316.64 316.77h0M309.31 324.1h0M309.3 322.96h0M306.96 323.18h0M314.4 318.48h0M310.64 325.22h0M312.37 319.64h0M310.3 326.32h0M318.93 317.69h0M317.01 310.82h0M314.45 320.05h0M318.3 313.17h0M313.63 317.08h0M322.4 312.7h0M312.09 319.09h0M306.79 326.61h0M318.2 314.16h0M311.79 320.44h0M310.89 326.08h0M314.91 326.58h0M307.99 327.94h0M314.12 322.55h0M307.7 323.83h0M317.49 313.65h0M316.22 318.38h0M307.25 327.6h0M305.3 325.02h0M308.9 321.25h0M305.75 328.27h0" stroke="#1c1ce0" stroke-width="1.05" stroke-linecap="round" opacity="0.7"/>
<path d="M349.7 304.04h0M347.55 314.71h0M345.3 309.27h0M346.69 297.49h0M345.27 309.03h0M347.21 303.54h0M333.16 313.21h0M333.08 323.45h0M326.5 316.18h0M337.23 305.41h0M353.16 291.43h0M352.74 293.64h0M338.38 317.24h0M333.63 322.02h0M355.87 304.66h0M353.23 307.67h0M336.03 321.38h0M352.62 295.84h0M342.99 300.86h0M360.29 300.03h0M346.62 302.06h0M358.31 305.76h0M350.07 306.57h0M340.5 318.96h0M349.15 315.82h0M339.67 312.83h0M353.46 301.11h0M338.22 317.06h0M333.65 321.65h0M355.51 306.33h0M357.05 299.49h0M361.3 298.98h0M355.36 298.49h0M336.08 324.08h0M338.94 312.36h0M339.4 310.13h0M341.88 303.28h0M322.9 320.46h0M345.38 307.21h0M350.81 308.34h0M343.21 322.2h0M347.18 306.99h0M352.49 293.28h0M341.18 301.18h0M363.95 309.45h0M357.83 302.95h0M350.98 306.06h0M352.95 308.91h0M342.06 310.04h0M357.37 298.16h0M343.41 313.5h0M339.79 313.4h0M357.68 308.53h0M342.53 317.2h0M352.88 308.03h0M352.92 296.3h0M352.05 313.49h0M347.74 307.88h0M352.04 297.82h0M353.2 302.27h0M329.33 316.65h0M336.15 320.48h0M356.95 295.94h0M346.79 301.4h0M319.81 315.37h0M331.38 315.48h0M341.76 302.2h0M337.07 315.37h0M350.12 303.85h0M341.81 301.22h0M348.76 301.81h0M330.83 311.4h0M349.56 300.31h0M357.33 284.57h0M331.17 304.81h0M360.9 300.86h0M349.19 293.1h0M350.67 301.15h0M344 306.45h0M335.83 317.17h0M335.76 311.78h0M356.74 306.12h0M357.48 302.98h0M359.84 301.24h0M354.04 299.22h0M351.48 297.24h0M339.77 308.26h0M333.85 315.63h0M349.91 308.41h0M356.39 310.6h0M345.62 305.5h0M331.69 318.88h0M340.2 310.35h0M327.96 313.63h0M348.06 307.28h0M337.13 316.57h0M352.04 317.86h0M347.3 303.07h0M347.55 306.82h0M361.09 299.97h0M334.74 314.74h0M329.42 328.53h0M356.57 302.47h0M352.73 289.35h0M356.9 293.76h0M345.8 301.94h0M348.71 300.65h0M345.23 304.27h0M333.64 316.92h0M333.58 303.32h0M350.98 304.12h0M338.52 309.31h0M364.43 293.8h0M333.16 320.9h0M350.04 320.36h0M362.59 306.48h0M335.64 306.43h0M331.01 310.71h0M335.12 319.84h0M339.63 313.41h0M358.13 293.69h0M353.18 308.34h0M345.29 296.92h0M344.8 315.67h0M356.31 303.93h0M356.1 317.45h0M332.91 308.99h0M341.9 310.95h0M342.89 299.91h0M360.23 302.49h0M344.63 306.84h0M350.61 303.54h0M364.18 291.35h0M332.25 305.9h0M327.57 308.58h0M350.87 294.82h0M351.58 305.84h0M342.49 305.02h0M344.37 300.5h0M341.45 308.09h0M349.19 301.52h0M341.64 308.43h0M356.53 304.97h0M334.73 315.78h0M333.62 307.84h0M350.56 310.6h0M341.71 311h0M350 299.12h0M350.29 313.24h0M341.75 312.39h0M353.68 312.56h0M343.4 314.08h0M336.51 325.09h0M338.75 319.88h0M340.53 315.74h0M342.9 312.37h0M347.89 307.71h0M362.45 309.87h0M346.32 297.34h0M363.61 295h0M361.61 302.04h0M346.67 311.53h0M360.57 293.74h0M360.47 302.39h0M343.56 312.74h0M350.78 307.06h0M354.73 297.15h0M351.04 308.66h0M354.3 298.08h0M348.93 303.26h0M353.37 302.79h0M339.51 305.35h0M349.84 304.64h0M346.87 314.96h0M351.69 301.29h0M330.51 320.19h0M349.64 305.21h0M357.18 297.1h0M344.22 294.16h0M345.45 306.94h0M349.92 301.73h0M339.45 315.1h0M334.58 309.03h0M343.32 310.62h0M347.65 311.85h0M359.24 304.87h0M336.52 312.51h0M353.24 297.07h0M337.08 325.85h0M341.52 316.48h0M344.03 305.47h0M353.77 294.77h0M345.04 317.43h0M328.04 325.74h0M347.62 301.21h0M347.88 309.91h0M337.93 317.72h0M338.57 317.77h0M344.24 318.02h0M347.18 306.71h0M351.55 301.36h0M337.35 324.42h0M367.15 289.61h0M342.52 303.7h0M342.33 309.73h0M349.57 298.84h0M349.19 308.92h0M363.5 284.39h0M359.03 302.21h0M336.98 303.28h0M344.27 312.39h0M344.15 314.26h0M346.15 313.72h0M353.93 304.06h0M342.06 314.54h0M363.46 297.87h0M346.72 309.56h0M342.94 306.25h0M352.3 296.97h0M329.3 324.23h0M333.84 310.16h0M355.12 306.88h0M349.82 311.53h0M349.93 312.1h0M348.12 302.32h0M345.86 318.26h0M349.32 314.35h0M329.78 313.29h0M323.66 315.59h0M353.71 292.79h0M342.62 320.61h0M339.78 313.18h0M356.56 293.75h0M355.83 299.16h0M346.76 317.97h0M342.61 313.12h0M351.1 314.85h0M341.57 319.81h0M344.51 295.25h0M345.54 304h0M352.29 312.35h0M358.13 307.66h0M351.53 300.44h0M365.28 295.86h0M358.47 293.82h0M332.75 323.4h0M355.28 301.58h0M335.34 315.45h0M336.58 322.71h0M359.1 309.61h0M343.77 317.73h0M345.73 312.86h0M356.88 300.27h0M340.48 313.09h0M338.38 314.91h0M347.74 303.26h0M360.51 301.74h0M346.77 298.33h0M325.68 312.07h0M339.24 311.38h0M344.4 308.21h0M360.13 288.09h0M352.53 298.39h0M353.62 300.47h0M358 299.13h0M345.94 312.98h0M354.57 308.54h0M348.77 301.43h0M333.61 310.75h0M349.65 311.94h0M351.82 303.69h0M335.78 315.26h0M355.2 303.16h0M355.83 304.83h0M357.17 301.3h0M345.62 321.29h0M347.59 307.17h0M360.71 297.68h0M346.89 293.55h0M336.15 310.26h0M349.58 307.36h0M359.49 296.85h0M340.19 301.79h0M344.74 298.68h0M369.42 287.26h0M346.47 308.56h0M350.05 314.15h0M338.2 316.79h0M340.88 313.52h0M362.4 299.15h0M339.54 302.24h0M341.49 324.14h0M338.24 315.51h0M345.11 306.21h0M351.99 300.24h0M334.09 307.1h0M357.39 307.68h0M344.25 314.47h0M349.28 304.73h0M350.66 303.34h0M353.12 304.66h0M344.77 314.13h0M341.27 305.08h0M354.29 308.01h0M336.2 320.09h0M343.19 301.09h0M345.36 297.33h0M352.99 296.56h0M348.61 311.54h0M347.22 312.66h0M350.35 310.34h0M343.06 317.99h0M345.55 311.21h0M345.8 299.99h0M347.99 305h0M338.94 318.98h0M345.6 313.54h0M330.43 328.87h0M349.56 297.27h0M347.66 319.92h0M347.37 305.21h0M340.57 322.1h0M348.66 312.83h0M354.9 310.4h0M351.94 296.9h0M333.76 318.98h0M344.92 291.17h0M347.81 313.43h0M342.37 318.38h0M348.46 302.28h0M341.46 308.34h0M344.15 311.6h0M345.99 321.41h0M343.37 301h0M344.47 305.8h0M343.07 308.08h0M339.08 317.92h0M339.19 309.78h0M351.45 307.34h0M357.57 298.28h0M346.32 309.24h0M354.91 292.6h0M347.37 310.2h0M337.05 318.05h0M348.21 299.23h0M336.37 314.91h0M349.73 305.31h0M356.58 301.01h0M340.09 307.08h0M347.26 311.52h0M367.14 287.52h0M341.66 298.73h0M347.13 304.79h0M355.69 305.34h0M348.96 313.72h0M344.72 308.48h0M353.45 310.13h0M329.17 332.9h0M361.46 300.37h0M339.74 320.79h0M333.31 313.33h0M355.64 309.78h0M341.19 302.11h0M336.98 320.89h0M347.6 306.3h0M333.41 314.59h0M338.93 312.9h0M329.93 317.21h0M341.63 318.55h0M357.01 314.04h0M347.84 308.23h0M354.31 312.47h0M356.4 303.54h0M342.64 305.13h0M340.65 314.26h0M345.42 312.85h0M364.84 300.07h0M347.33 309.29h0M349.57 306.64h0M350.29 315.24h0M347.39 305.42h0M353.51 309.24h0M345.31 307.68h0M346.12 311.37h0M335.74 310.67h0M335.58 311.68h0M349.8 305.28h0M353.31 303.1h0M353.15 299.66h0M342.13 302.72h0M335.08 310.7h0M351.33 302.95h0M350.68 302.45h0M327.18 313.9h0M358.65 308.46h0M349.62 301.8h0M364.19 298.98h0M331.31 311.82h0M335.84 320.07h0M353.56 302.69h0M333.01 326.28h0M339.22 313.85h0M333.4 313.63h0M331.29 309.64h0M332.53 327.76h0M345.18 311.75h0M342.31 285.73h0M346.95 301.19h0M350.03 304.78h0M340.96 308.92h0M367.75 307.25h0M345.56 297.9h0M355.04 299.45h0M336.33 325.55h0M345.32 300.98h0M337.47 319.31h0M352.43 309.36h0M346.06 304.56h0M334.31 315.2h0M349.03 308.47h0M356.81 299.42h0M354.87 309.35h0M356.02 309.04h0M335.16 311.22h0M335.51 308.21h0M334.39 314.92h0M345.98 305.58h0M358.14 300.39h0M350.39 305.17h0M348.98 311.62h0M330.08 309.88h0M351.89 306.77h0M342.49 308.26h0M328.56 322.64h0M334.67 326.64h0M336.66 303.18h0M339.02 316.31h0M363.6 298.25h0M345.96 307.28h0M339.4 319.41h0M341.45 311.62h0M363.68 299.43h0M335.52 313.1h0M352.9 301.85h0M354.43 309.86h0M356.13 292.72h0M350.26 303.15h0M345.89 315.29h0M349.7 302.54h0M345.25 305.8h0M348.96 293.34h0M348.24 311.73h0M361.39 289.47h0M345.41 309.07h0M348.08 302.18h0M340.88 313.96h0M347.39 307.16h0M344.71 305.78h0M351.45 311.15h0M361.08 309.04h0M341.18 312.04h0M339.76 316.09h0M355.94 299.02h0M341.39 307.59h0M340.65 313.82h0M352.78 294.4h0M353.32 302.02h0M321.51 327.69h0M339.93 307.52h0M351.35 299.52h0M353.98 301.72h0M340.97 311.23h0M362.81 298.67h0M340.8 316.2h0M343.63 309.13h0M344.62 303.63h0M347.43 309.45h0M350.75 298.31h0M349.16 292.43h0M338.76 299.8h0M358.78 296.86h0M336.42 308.89h0M342.16 306.96h0M359.28 291.44h0M344.27 303.68h0M354.16 297.43h0M339.48 307.75h0M343.04 308.91h0M345.96 309.41h0M346.84 305.3h0M341.41 308.28h0M342.31 302.74h0M351.03 301h0M354.74 295.46h0M342.51 301.24h0M355.05 306.15h0M355.3 301.55h0M334.53 313.73h0M331.65 319.51h0M364.17 299.02h0M355.01 293.61h0M346.88 307.36h0M352.57 308.68h0M331.42 307.49h0M337.62 323.08h0M349.07 305.17h0M334.71 321.53h0M354.14 300.12h0M338.1 310.61h0M351.43 308.46h0M364.17 293.11h0M363.82 293.58h0M346.88 313.51h0M352.14 294.9h0M336.15 314.83h0M341.71 313.18h0M351.67 307.3h0M359.9 298.23h0M340.42 311.45h0M352.57 305.21h0" stroke="#d860e0" stroke-width="1.05" stroke-linecap="round" opacity="0.5"/>
<ellipse cx="333" cy="321.2" rx="11.9" ry="3.5" transform="rotate(-36 333 321.2)" fill="#c81ad8" opacity="0.68" filter="url(#bl)"/>
<path d="M342.23 315.14h0M317.72 330.58h0M331.03 321.57h0M323.06 333.62h0M331.84 319.95h0M329.85 325.76h0M336.28 316.66h0M335.33 317.78h0M341.21 312.9h0M338.01 314.12h0M340.87 313.22h0M338.56 320.53h0M342.22 317.77h0M335.18 316.28h0M328.51 322.93h0M327.09 330.54h0M328.03 331.25h0M335.27 316.68h0M313.48 328.23h0M333.25 318.35h0M328.49 325.23h0M337.96 316.73h0M338.84 325.7h0M329.66 326.82h0M331.85 318.77h0M316.32 330.54h0M338.41 324.09h0M334.71 316.15h0M319.82 329.05h0M337.79 314.7h0M332.8 321.99h0M334.5 320.09h0M325.18 330.34h0M337 317.26h0M335.96 316.16h0M334.66 323h0M325.99 325.11h0M339.4 318.25h0M340.34 312.51h0M334.61 316.87h0M343.86 320.88h0M328.65 322.89h0M332.9 318h0M336.85 320.19h0M334.75 320.61h0M353.08 307.09h0M338.09 321.17h0M329.79 323.9h0M336.81 313.42h0M325.3 325.25h0M333.73 315.77h0M337.32 314.87h0M328.32 320.73h0M331.17 322.13h0M325.93 323.84h0M331.41 315.86h0M326.7 321.03h0M345.06 311.39h0M339.15 318.96h0M333.51 323.78h0M323.53 327.29h0M347 309.61h0M345.44 318.04h0M336.6 317.86h0M334.52 318.97h0M334.42 319.18h0M331.32 324.17h0M343.13 306.43h0M333.79 317.81h0M325.9 330.75h0M330.28 325.46h0M314.72 331.9h0M337.47 316.3h0M338.78 316.59h0M345.96 311.89h0M348.49 310.64h0M329.03 325.54h0M338.38 320.61h0M339.7 314.51h0M343.42 322.59h0M331.33 324.8h0M337.36 314.12h0M338.33 319.92h0M344.91 316.45h0M330.63 316.93h0M330.48 319.78h0M330.42 323.65h0M331.99 323.91h0M328.77 325.12h0M331.87 323.24h0M337.51 318.82h0M337.96 320.08h0M341.92 313.11h0M342.04 316.54h0M340.72 321.53h0M327.69 329.34h0M337.56 318.03h0M343.2 317.21h0M328.42 332.61h0M323.64 323.36h0M326.28 324.67h0M327.16 327.14h0M332.38 323.51h0M326.34 324.59h0M334.13 316.18h0M326.15 328.38h0M332.03 320.8h0M331.04 324.84h0M326.35 325.2h0M342.36 318.26h0M336.49 324.74h0M337.1 318.17h0M331.31 322.86h0M337.24 316.03h0M338.75 319.39h0M330.36 318.95h0M321.15 329.73h0M336.8 313.73h0M338.78 318.32h0M332.45 317h0M335.27 319.99h0M334.14 320.15h0M333.36 318.08h0M329.28 329.79h0M334.74 323.57h0M332.9 315.63h0M331.59 327.28h0M327.59 326.95h0M345.47 310.63h0M335.46 314.96h0M332.17 323.65h0M329.92 323.24h0M324.28 328.98h0M330.23 320.15h0M341.86 313.93h0M319.4 331.39h0M328.04 323.65h0M346.45 311.19h0M337.85 317.33h0M336.89 319.7h0M343.2 317.11h0M331.64 320.21h0M334.03 324.32h0M336.86 315.32h0M336.12 312.31h0M323.85 323.18h0M340.48 308.53h0M323.08 331.9h0M328.34 323.97h0M355.9 307.37h0M331.1 325.1h0M340.61 321.3h0M328.45 328.53h0M329.99 320.79h0M327.47 323.12h0M328.92 320.45h0M336.29 315.33h0M344.32 310.58h0M340.71 318.27h0M344.36 313.41h0M328.88 321.94h0M341.66 311h0M337.92 318.9h0M343.65 315.11h0M331.25 323.93h0M329.44 318.76h0M341.99 312.92h0M338.12 318.54h0M335.33 322h0M328.05 323.45h0M335.26 324.95h0M337.07 319h0M339.21 318.54h0M330.43 324.95h0M330.7 322.25h0M335.65 317.97h0M321.09 320.18h0M339.59 316.1h0M332.15 319.6h0M333.51 323.39h0M320.45 326.67h0M323 322.21h0M330.57 326.12h0M325.61 326.78h0M333.9 316.98h0M333.78 320.3h0M334.78 327.5h0M317.46 329.23h0M342.81 314.49h0M329.96 321.05h0M338.5 320.23h0M327.03 322.68h0M331.39 319.02h0M338.84 319.2h0M333.84 318.98h0M340.53 317.7h0M332.47 323.14h0M348.02 313.12h0M320.58 331.55h0M330.18 325.36h0M337.91 313.86h0M331.55 322.92h0M331.59 325.76h0M318.65 327.22h0M340.34 314.09h0M318.37 328.63h0M336.49 318.81h0M333.19 318.79h0M339.06 317.05h0M344.36 315.91h0M327.88 324.51h0M327.08 324.97h0M330.47 322.53h0M319.76 328.07h0M341.1 320.74h0M329.65 322.61h0M335.11 322.11h0M325.46 327.48h0M332.18 320.28h0M328.4 324.24h0M333.25 323.04h0M324.09 325.16h0M339.87 316.27h0M326.84 322.59h0M313.28 331.48h0M337.67 318.8h0M332.28 325.06h0M326.47 325.54h0M348.67 307.09h0M331.82 320.89h0M325.2 330.41h0M330.97 327.89h0M336.67 321.35h0M332.51 324.4h0M340.23 313.81h0M339.85 315.86h0M325.87 323.44h0M333.01 321.29h0M334.52 314.63h0M329.77 323.33h0M328.6 322.46h0M339.28 317.74h0M335.05 318.11h0M321.34 326.04h0M327.68 322.42h0M327.85 320.7h0M332.71 323.12h0M326.99 323.92h0M339.28 311.04h0M325.56 325.59h0M325.39 327.03h0M334.4 320.69h0M317.9 333.61h0M325.3 326.12h0M334.83 315.26h0M322.82 326.95h0M326.85 325.53h0M341.28 317.46h0M337.47 321.31h0M329.46 316.05h0M335.02 320.99h0M327.85 324.42h0M335.51 320.69h0M331.02 321.9h0M350.51 309.62h0M336.23 318.32h0M328.2 319.93h0M333.45 323.01h0M332.29 319.87h0M323.33 328.26h0M325.99 323.86h0M344.25 315h0M322.48 327.41h0M330.22 326.15h0M342.52 319.87h0M345.13 316.39h0M327.16 328.31h0M344.53 316.25h0M330.8 323.73h0M342.57 310.72h0M337.98 321.09h0M330.23 321.75h0M337.65 317.31h0M337.77 319.91h0M328.95 327.04h0M347.02 309.65h0M329.8 322h0M341.34 316.21h0M329.78 323.99h0M320.35 330.41h0M327.13 329.56h0M332.05 321.55h0M337.14 317.23h0M342.41 308.87h0M335.36 323.46h0M332.26 324.45h0M324.32 327.24h0M333.46 322.69h0M335.57 320.6h0M317.67 332.31h0M342.32 315.35h0M340.78 315.65h0M347.91 308.99h0M329.04 329.13h0M332.33 319.93h0M336.33 325.78h0M321.24 324.44h0M325.66 323.64h0M327 327.44h0M334.91 316.63h0M336.06 319.42h0M341.51 313.65h0M328.97 321.76h0M322.72 327.56h0M335.87 319.08h0M334.48 318.17h0M337.71 318.34h0M341.98 315.81h0M330.21 326.13h0M341 320.96h0M323.58 323.08h0M332.76 318.91h0M339.65 320.67h0M331.45 321.05h0M334.02 319.76h0M326.48 332.72h0M329.58 326.22h0M334.01 320.74h0M322 323.8h0M325.32 323.32h0M347.7 306.55h0M334.11 319.35h0M325.64 323.39h0M327.39 328.85h0M341.34 313.16h0M312.34 333.87h0M332.02 325.75h0M336.33 317.92h0M326.21 321.33h0M333.04 315.11h0M322.94 324.03h0M333.15 323.18h0M332.61 321.66h0M333.02 322.69h0M331.34 318.49h0M333.64 323.24h0M341.38 318.25h0M332.68 326.34h0M327.75 324.28h0M329.5 322.27h0M330.86 324.49h0M322.69 330.91h0M319.17 331.7h0M320.75 325.8h0M335.97 323.07h0M327.5 325.19h0M328.88 323.41h0M351.21 306.67h0M337.91 313.6h0M329.35 321.14h0M327.27 324.37h0M339.33 311.92h0M324.95 323.36h0M340.09 315h0M335.71 318.35h0M343.28 317.24h0M326.83 325.13h0M339.38 318.84h0M321.21 333.14h0M331.21 323.2h0M341.97 319.88h0M338.1 320.11h0M320.12 332.01h0M336.22 317.69h0M335.6 320.18h0M330.97 321.33h0M324.69 322.23h0M328.85 321.57h0M329.74 327.04h0M341.13 320.71h0M336.56 321.37h0M340.67 318.31h0M339.68 322.43h0M325.73 331.77h0M335.49 324.68h0M347.67 312.4h0M322.3 324.57h0M331.47 317.06h0M328.19 327.91h0M326.62 327.32h0M335.55 323.68h0M340.81 320.68h0M337.49 318.3h0M335.22 319.6h0M339.59 318.55h0M319.98 328.9h0M338.24 318.63h0M333.31 317.83h0M331.61 324h0M330.81 320.39h0M326.57 326.75h0M339.98 316.01h0M326.04 324.59h0M323.95 332.17h0M333.19 323.63h0M328.26 325.14h0M332.08 323.01h0M342.18 314.01h0M332.4 324.42h0M334.96 324.17h0M347.92 310.97h0M322.08 328.53h0M335.89 321.88h0M338.43 313.78h0M341.6 313.09h0M346.41 309.11h0M326.49 323.77h0M337.65 320.73h0M328.4 318.21h0M330.09 325.72h0M326.61 324.86h0M321 327.83h0M333.96 319.6h0M337.05 317.77h0M325.99 328.88h0M337.96 318.88h0M328.24 324.59h0M323.19 324.32h0M338.7 314.91h0M336.39 317.34h0M329.79 323.2h0M330.2 324.84h0M323.28 328.59h0M338.17 322.65h0M331.46 321.84h0M335.31 318.35h0M334.04 321.85h0M321.54 327.69h0M320.82 328.86h0M336.02 321.02h0M319.13 328.44h0M334.74 321.32h0M334.81 312.17h0M324.72 330.12h0M337.97 319.81h0M333.38 322.61h0M335.52 318.36h0M326.11 322.35h0M331.99 321.38h0M335.8 320.13h0M342.16 308.4h0M335.9 315.67h0M336.2 319.47h0M323.55 328.15h0M336.94 322.81h0M327.63 324.73h0M329.42 318.24h0M336.02 322.36h0M341.27 319.34h0M336.41 318.09h0M337.33 325.22h0M330.09 318.81h0M344.16 317.56h0M327.49 327.25h0M333.09 321.45h0M340.37 311.98h0M330.69 321.51h0M341.16 321h0M341.29 320.28h0M346.07 310.98h0M343.57 319.91h0M321.67 330.28h0M333.89 323.06h0M333.53 318.32h0M336.63 314.83h0M339.03 324.58h0M345.08 311.11h0M339.33 314.65h0M325.56 329.01h0M329.08 325.94h0M320.03 334.38h0M345.05 313.58h0M331.04 321.44h0M329.51 319.68h0M319.34 326.76h0M329.73 324.54h0M336.5 321.32h0M327.98 321.86h0M333.54 329.45h0M329.93 327.87h0M344.95 310.65h0M325 320.25h0M323.11 330.92h0M328.26 324.45h0M331.17 326.1h0M331.37 322.73h0M330.29 323.52h0M325.17 329.34h0M329.84 322.39h0M334.72 320.58h0M321.26 328.26h0M345.82 312.6h0M345.35 316.04h0M318.87 331.11h0M327.89 322.34h0M339.9 318.69h0M339.1 312.69h0M343.5 312.24h0M319.35 332.29h0M323.9 327.75h0M328.74 325.65h0M336.87 321.22h0M322.86 325.77h0M333.43 318.14h0M335.58 320.76h0M337.07 318.85h0M323.1 329.08h0M332.16 319.69h0M330.18 318.75h0M329.91 325.51h0M340.53 314.8h0M329.89 323.54h0M341.23 313.5h0M325.68 322.06h0M345.18 315.06h0M346.56 317.72h0M326.55 326.41h0M336.78 323.4h0M331.83 316.87h0M326.32 328.19h0M338.05 318.39h0M335.97 318.27h0M325.81 325.76h0M333.53 322.09h0M338.47 317.2h0M329.76 320.59h0M327.75 325.94h0M341.04 309.59h0M324.95 325.91h0M338.2 324.65h0M338.92 314.09h0M340.52 321.12h0M319.09 330.21h0M326.84 318.63h0M329.96 320.01h0M332.69 324.86h0M338.1 319.94h0M336.32 318.66h0M331.38 317.81h0M335.55 321.54h0M338.08 314h0M340.92 314.41h0M319.6 331.17h0M348.19 310.59h0M326.39 320.72h0M340.42 320.39h0M323.06 331.85h0M327.86 322.07h0M322.55 325.64h0M342.3 318.38h0M340.36 318.62h0M334.56 323.55h0M330.83 320.99h0M336.5 320.61h0M324.18 323.12h0M327.47 322.76h0M327.11 324.58h0M338.27 316.67h0M332.23 320h0M322.71 325.99h0M335.24 319.46h0M336.15 318.04h0M341.39 312.6h0M329.08 324.19h0M334.22 317.15h0M347.6 310.95h0M331.72 324.44h0M330.05 322.7h0M333.99 315.3h0M327.16 320.75h0M335.23 324.47h0M328.89 323.18h0M328.12 326.23h0M339.47 317.46h0M330.74 323.87h0M326.18 326.84h0M331.62 323.8h0M332.26 322.57h0M334.61 319.33h0M341.14 319h0M347.01 314.83h0M325.93 329.79h0M332.77 324.87h0M319.24 329.35h0M335.96 322.47h0M336.54 318.87h0M328.12 324.55h0M325.32 324.57h0M325.77 326.37h0M320.72 326.86h0M337.18 318.35h0M345.62 311.26h0M323.61 325.67h0M346.17 316.14h0M331.26 321.26h0M320.7 325.47h0M336.36 318.42h0M338.23 318.16h0M332.52 315.67h0M330.58 322.63h0M342.36 310.59h0M334.05 327.78h0M336.79 318.12h0M337.78 319.28h0M325.7 325.32h0M317.85 328.54h0M320.63 330.64h0M330.02 324.05h0M339.08 325.5h0M318.88 329.02h0M325.45 322.57h0M342.89 313.55h0M320.59 331.68h0M335.09 318.55h0M333.33 317.76h0M336.93 316.34h0M319.06 324.89h0M335.54 321.07h0M324.66 331.45h0M340.93 313.91h0M324.45 323.48h0M335.66 320.67h0M326.75 325.72h0M334.24 322.28h0M323.47 332h0M335.38 321.74h0M339.56 322.82h0M331.84 321.2h0M342.91 312.58h0M333.59 318.03h0M339.01 319.39h0M336.79 320.43h0M347.88 315.59h0M329.89 327.98h0M329.14 321.27h0M326.66 317.1h0M338.21 320.7h0M334.76 321.16h0M336.83 315.56h0M335.47 321.58h0M327.93 323.1h0M332.4 322.59h0M335.9 320.04h0M315.11 331.42h0M342.51 315.1h0M330.34 327.07h0M328.76 321.75h0M334.25 320.23h0M331.55 323.99h0M323.52 330.59h0M330.06 321.56h0M343.29 315.97h0M339.7 315.98h0M339.74 313.22h0M328.88 324.54h0M329.48 320.4h0M342.01 318.93h0M342.14 312.7h0M332.09 320.23h0M323.13 322.59h0M319.12 331.23h0M341.34 312.39h0M322.28 329.49h0M337.32 321.35h0M340.31 318.62h0M356.69 306.18h0M333 318.8h0M333.17 323.5h0M336.02 318.88h0M335.13 316.88h0M340.5 311.92h0M336.36 315.86h0M325.33 322.17h0M319.71 334.36h0M335.74 320.72h0M327.69 324.08h0M341.26 311.75h0M322.93 326.96h0M335.51 321.75h0M328.08 325.36h0M329.2 329.07h0M343.58 311.02h0M336.81 323.96h0M331.39 321.7h0M336.65 315.22h0M326.1 323.42h0M332.76 326.36h0M328.16 324.05h0M347.55 311.7h0M335.77 320.1h0M335.04 314.64h0M340.49 314.87h0M333.78 325.06h0M333.48 324.19h0M320.33 328.21h0M336.06 318.28h0M336.5 322.17h0M332.53 326.73h0M342.36 316.12h0M320.94 331.34h0M334.77 317.4h0M324.09 329.58h0M323.87 325.79h0M329.71 319.88h0M344.82 317.6h0M325.39 328.58h0M323.6 323.28h0M325.03 328.42h0M347.34 310.88h0M335.3 316.6h0M337 320.7h0M348.32 311.42h0M337.21 323.32h0M317.21 331.04h0M330.13 324.88h0M325.03 328.23h0M351.24 316h0M321.5 326.67h0M334.17 318.32h0M330.51 325.58h0M328.07 321.11h0M336.78 326.17h0M332.17 322.16h0M330.62 328.29h0M320.2 322.22h0M332.22 330.01h0M327.37 329.23h0M327.67 327.59h0M332.69 319.11h0M330.72 320.47h0M335.87 318.1h0M331.69 323.11h0M343.61 307.06h0M328.86 326.64h0M325.42 325.94h0M337.77 312.52h0M329.8 327.56h0M335.1 322.39h0M338.39 314.08h0M331.65 320.99h0M332.42 325.91h0M339.89 316.31h0M332.56 315.78h0M329.59 324.7h0M323.26 326h0M330.12 323.13h0M322.17 331.43h0M324.39 322.69h0M323.74 325.15h0M333.34 317.48h0M338.67 317.79h0M328.19 324.62h0M329.51 323.28h0M324.46 326.27h0M323.62 329.34h0M330.63 324.73h0M335.07 315.88h0M337.95 321.27h0M337.83 319.32h0M331.58 323.67h0M341.39 319.12h0M343.56 316.18h0M338.32 315.12h0M339.98 317.52h0M341.93 317.28h0M349.71 304.15h0M337.31 322.48h0M342.64 311.25h0M338.33 316.51h0M339.92 320.65h0M332.74 322.91h0M331.21 323.98h0M323.15 324.62h0M335.94 316.5h0M331.28 323.59h0M326.27 330.02h0M330.18 328.78h0M324.88 327.91h0M346.6 315.95h0M331.62 323.04h0M334.18 321.27h0M323.89 326.93h0M324.25 324.74h0M340.44 315.74h0M330.73 321.67h0M334.95 320.6h0M344.69 309.76h0M346.84 308.89h0M335.69 314.58h0M334.57 316.07h0M335.89 321.65h0M333.24 325.84h0M346.64 309.58h0M322.75 325.37h0M333.48 323.22h0M317.17 328.33h0M323.94 327.76h0M336.14 319.48h0M335.87 318.3h0M337.61 322.5h0M333.25 326.42h0M328.6 325.78h0M331.03 326.59h0M330.44 323.44h0M340.98 315.75h0M347.37 319.07h0M337.51 320.76h0M328.54 323.16h0M329.9 331.02h0M335.85 320.55h0M333.54 325.38h0M323.04 334.91h0M341.33 312.07h0M331.54 319.31h0M331.53 323.97h0M327.71 327h0M324.9 323.19h0M337.85 314.36h0M326.46 326.39h0M332.6 319.21h0M337.58 317.96h0M346.84 312.53h0M336.61 317.08h0M333.59 322.52h0M329.19 322.56h0M339.68 317.53h0M341.06 317.19h0M331 324.85h0M336.73 317.51h0M330.84 320.3h0M320.98 329.04h0M327.29 328.47h0M338.08 316.03h0M344.83 315.81h0M339.71 320.24h0" stroke="#c81ad8" stroke-width="1.05" stroke-linecap="round" opacity="0.85"/>
</g>
<rect x="297" y="263" width="75.5" height="70" fill="none" stroke="#2a2a2a" stroke-width="1"/>
<path d="M314.86 330.31 L351.72 266.56 L371.02 266.29 L367.27 325.47 L314.86 330.31" stroke="#55605a" stroke-width="0.8" fill="none" stroke-linejoin="round"/>
<path d="M297 333h-2.4M297 333v2.4M297 330.31h-1.4M299.88 333v1.4M297 327.62h-1.4M302.76 333v1.4M297 324.93h-1.4M305.64 333v1.4M297 322.24h-1.4M308.52 333v1.4M297 319.55h-2.4M311.4 333v2.4M297 316.86h-1.4M314.28 333v1.4M297 314.17h-1.4M317.16 333v1.4M297 311.48h-1.4M320.04 333v1.4M297 308.79h-1.4M322.92 333v1.4M297 306.1h-2.4M325.8 333v2.4M297 303.41h-1.4M328.68 333v1.4M297 300.72h-1.4M331.56 333v1.4M297 298.03h-1.4M334.44 333v1.4M297 295.34h-1.4M337.32 333v1.4M297 292.65h-2.4M340.2 333v2.4M297 289.96h-1.4M343.08 333v1.4M297 287.27h-1.4M345.96 333v1.4M297 284.58h-1.4M348.84 333v1.4M297 281.89h-1.4M351.72 333v1.4M297 279.2h-2.4M354.6 333v2.4M297 276.51h-1.4M357.48 333v1.4M297 273.82h-1.4M360.36 333v1.4M297 271.13h-1.4M363.24 333v1.4M297 268.44h-1.4M366.12 333v1.4M297 265.75h-2.4M369 333v2.4" stroke="#2a2a2a" stroke-width="0.7" fill="none"/>
<text x="290.6" y="321.82" font-size="6.4" text-anchor="end">50</text>
<text x="311.4" y="343.84" font-size="6.3" text-anchor="middle">50</text>
<text x="290.6" y="308.37" font-size="6.4" text-anchor="end">100</text>
<text x="325.8" y="343.84" font-size="6.3" text-anchor="middle">100</text>
<text x="290.6" y="294.92" font-size="6.4" text-anchor="end">150</text>
<text x="340.2" y="343.84" font-size="6.3" text-anchor="middle">150</text>
<text x="290.6" y="281.47" font-size="6.4" text-anchor="end">200</text>
<text x="354.6" y="343.84" font-size="6.3" text-anchor="middle">200</text>
<text x="290.6" y="268.02" font-size="6.4" text-anchor="end">250</text>
<text x="369" y="343.84" font-size="6.3" text-anchor="middle">250</text>
<text x="335.2" y="356.65" font-size="8.6" text-anchor="middle" font-weight="bold" textLength="15.6" lengthAdjust="spacingAndGlyphs">FSC-A</text>
<text x="374.9" y="351.17" font-size="5" text-anchor="end" textLength="19" lengthAdjust="spacingAndGlyphs">(×1,000)</text>
<text x="0" y="3.05" font-size="8.6" text-anchor="middle" font-weight="bold" textLength="15.6" lengthAdjust="spacingAndGlyphs" transform="translate(272.3 295.8) rotate(-90)">SSC-A</text>
<text x="0" y="1.77" font-size="5" text-anchor="middle" textLength="20" lengthAdjust="spacingAndGlyphs" transform="translate(276 270.8) rotate(-90)">(×1,000)</text>
<text x="335.3" y="259.84" font-size="8" text-anchor="middle">48h</text>
<text x="354.2" y="292.8" font-size="6.2" text-anchor="middle" fill="#3a3a3a" style="stroke-width:0.12px">80%</text>
<text x="341.6" y="302.05" font-size="5.2" text-anchor="middle" fill="#555" style="stroke:none">P1</text>
<g clip-path="url(#clipC4)">
<path d="M434.57 296.11h0M442.2 280.69h0M471.62 284.15h0M455.55 294.08h0M418.74 293.74h0M444.92 303.47h0M447.38 287.26h0M419.27 274.66h0M448.87 306.75h0M448.77 305.55h0M470.21 291.56h0M450.07 291.49h0M453.17 277.22h0M421.11 304.31h0M481.04 281.15h0M462.63 302.95h0M439.72 275.59h0M430.91 303.65h0M434.5 284.05h0M434.25 283.79h0M451.08 263.18h0M443.24 299.6h0M468.72 286.71h0M444.95 306.82h0M430.73 289.37h0M457.41 302.29h0M439.5 279.01h0M448.36 278.74h0M460.76 268.59h0M447.86 269.91h0M461.11 291.75h0M460.35 293.76h0M429.32 287.21h0M432.24 323.4h0M441.75 264.43h0M456.97 299.37h0M458.62 305.23h0M433.65 296.22h0M435.28 276.25h0M432.23 270.75h0M435.65 295.07h0M441.19 282.9h0M442.89 290.32h0M477.93 304.43h0M436.9 286.96h0M440.38 289.11h0M452.34 312.61h0M429.75 273.05h0M439.1 313.15h0M445.21 286.08h0M457.39 305.35h0M423.94 301.83h0M466.94 300.16h0M439.36 279.06h0M447.71 308.46h0M458.55 292.52h0M455.57 266.39h0M461.95 300.12h0M447.77 290.17h0M444.69 279.74h0M450.06 298.46h0M429.07 282.59h0M464.43 299.65h0M432.59 279.24h0M424.84 288.81h0M477.9 303.79h0M442.82 268.62h0M426.13 291.18h0M474.64 293.96h0M439.72 303.63h0M461.99 296.81h0M431.73 291.21h0M441.02 287.19h0M417.98 273.3h0M429.38 295.02h0M443.75 271.84h0M457.77 287.06h0M483.82 283.67h0M428.49 265.9h0M461.14 284.74h0M435.33 282.81h0M442.56 290.42h0M421.3 263.29h0M421.34 274.06h0M432.54 300.63h0M425.91 281.59h0M444.94 307.05h0M433.76 273.53h0M465.01 279.77h0M447.45 292.25h0M447.64 295.89h0M463.2 316.8h0M453.29 278.44h0M444.4 291.66h0M443.55 294.59h0M443.06 279.07h0M462.23 299.9h0M457.53 298.75h0M450.85 300.37h0M457.78 310.27h0M453.18 292.91h0M422.4 295.26h0M466.56 276.51h0M447.93 290.5h0M454.59 289.86h0M444.84 304.65h0M440.93 283.2h0M464.04 320.53h0M446.85 290.14h0M430.35 277.09h0M452.03 323.82h0M417.72 312.37h0M471.49 293.19h0M442.26 291.3h0M445.73 300.94h0M481.12 285.99h0M479.43 287.93h0M446.85 311.95h0M455 293.36h0M462.44 311.13h0M471.91 323.27h0M442.9 328.41h0M447.16 276.9h0M464.59 294.32h0M449.31 263.1h0M457.07 314.46h0M454.76 297.88h0M426.84 287.5h0M431.26 294.74h0M440.84 290.37h0M466.42 301.76h0M427.25 327.46h0M464.74 306.72h0M460.99 266.61h0M444.12 280.88h0M444.88 271.65h0M446.33 301.05h0M431.22 295.07h0M440.48 305.3h0M444.25 286.21h0M454.79 291.1h0M457.67 285.19h0M433.12 265.51h0M458.21 304.46h0M432.55 280.83h0M442.3 312.92h0M450.91 275.3h0M444.64 298.48h0M442.97 292.92h0M449.31 289.78h0M436.16 267.12h0M434.56 292.3h0M441.73 299.29h0M460.38 309.59h0M443.37 287.68h0M475.47 304.65h0M448.43 299.38h0M437.97 281.75h0M471.64 302.55h0M445.1 281.77h0M437.99 265.26h0M431.02 314.17h0M466.18 271.38h0M455.75 300.68h0M451.85 282.59h0M468.05 312.42h0M458.14 286.7h0M425.32 296.68h0M457.3 287.22h0M447.71 305.58h0M443.23 304.17h0M457.21 298.58h0M445.45 302.58h0M469.92 295.02h0M461.6 308.69h0M443.04 294.26h0M439.04 284.87h0M448.63 326.84h0M424.45 289.19h0M449.9 303.38h0M441.32 309.04h0M439.35 312.46h0M430.23 305.1h0M434.14 303.57h0M462.7 287.25h0M466.36 311.4h0M453.05 276.83h0M444.27 304.75h0M430.95 282.18h0M456.48 276.09h0M470.77 310.71h0M419.17 276.21h0M439.56 283h0M451.15 293.52h0M423.16 290.2h0M420.73 294.12h0M447.97 298.7h0M459.03 280.17h0M437.39 277.69h0M466.5 290.83h0M432.52 268.02h0M473.07 274.32h0M446.93 280.03h0M448.76 301.3h0M454.84 261.93h0M450.14 270.59h0M474.53 322.61h0M480.3 306.97h0M453.74 297.47h0M442.35 276.19h0M426.18 271.57h0M432.93 294.54h0M445.15 286.49h0M443.38 279.7h0M444.3 309.25h0M445.08 281.24h0M452.93 294.68h0M423.39 287.3h0M428.59 290.78h0M462.95 307.76h0M458.41 304.96h0M436.43 289.4h0M465.73 288.07h0M434.18 293.96h0M440.97 274.06h0M458.55 308.26h0M444.86 295.19h0M462.12 292.63h0M456.35 291.97h0M446.59 272.55h0M447.66 282.34h0M464.23 274.18h0M442.52 280.63h0M442.72 292.46h0M446.28 274.41h0M458.1 293.88h0M460.01 286.24h0M475.95 304.98h0M444.06 288.43h0M465.62 294.81h0M434.99 284.35h0M455.16 262.67h0M473.35 274.62h0M455.37 290.33h0" stroke="#98a8e8" stroke-width="1.05" stroke-linecap="round" opacity="0.45"/>
<path d="M492.17 289.62h0M489.19 297.75h0M485 318.08h0M487.73 302.7h0M486.79 296.95h0M485.02 278.74h0M494.95 292.31h0M485.34 290.48h0M485.56 290.24h0M491.56 285.61h0M484.57 307.86h0M482.3 305.31h0M483.79 308.29h0M490.46 300.22h0M489.93 300.86h0M489.55 296.75h0M485.73 306.92h0M483.49 296.85h0M492.59 305.39h0M480.83 278.64h0M487 302.47h0M481.44 274.74h0M486.04 282.98h0M487.3 308.51h0M494.21 289.09h0M473.74 292.24h0M494.91 311.56h0M483.66 292.24h0M489.56 298.54h0M492.12 294.59h0M484.28 305.42h0M487.66 298.29h0M490.57 294.02h0M487.49 299.38h0M484.43 303.22h0M489.06 299.17h0M488.67 306.58h0M480.64 294.67h0M494.93 320.83h0M489.27 284.17h0M476.03 297.18h0M484 293.49h0M496.1 308.96h0M489.52 277.23h0M479.74 307.86h0M486.98 293.55h0M493.47 294.83h0M490.15 285.93h0M486.52 297.86h0M484.5 310.49h0M492.32 294.86h0M487.13 320.03h0M489.81 299.61h0M490.66 301.96h0M496.4 283.75h0M489.12 300.35h0M489.5 301.89h0M479.27 304.66h0M493.77 305.56h0" stroke="#e08080" stroke-width="1.05" stroke-linecap="round" opacity="0.5"/>
<path d="M439.71 311.18h0M447.9 301.33h0M433.97 317.55h0M441.86 308.08h0M434.83 320h0M440.43 306.66h0M438.04 300.89h0M433.97 316.52h0M438.25 310.62h0M443.71 305.24h0M449.4 300.15h0M453.62 300.46h0M445.73 309.36h0M435.96 314.81h0M440.61 325.86h0M443.73 296.56h0M451.93 293.68h0M448.13 304.7h0M453.48 292.45h0M436.56 308.13h0M438.16 308.33h0M450.06 290.25h0M428.57 310.37h0M435.48 293.7h0M449.58 305.35h0M438.94 301.73h0M455.13 291.31h0M442.42 317.34h0M441.39 310.83h0M425.03 322.25h0M436.72 315.99h0M440.5 311.39h0M433.15 305.16h0M437.99 305.78h0M443.38 302.61h0M429.6 306.59h0M427.52 322.38h0M445.13 305.61h0M448.2 304.03h0M436.06 317.06h0M435.71 311.96h0M447.31 286.01h0M443.4 293.13h0M446.86 294.49h0M449.89 301.84h0M437.85 301.14h0M437.58 309.53h0M448.98 302.54h0M445.09 310.16h0M437.48 308.56h0M439.47 304.21h0M437.09 303.62h0M451.46 299.95h0M427.24 308.93h0M463.43 286.52h0M435.33 314.62h0M432.85 305.5h0M442.17 293.44h0M440.28 315.48h0M435.67 307.97h0M436.02 301.54h0M420.57 330.96h0M442.35 312.48h0M428.35 309.7h0M446.66 311.77h0M443.91 300.32h0M449.51 301.98h0M451.85 292.17h0M451.1 292.48h0M445.17 294.11h0M446.42 308.89h0M446.45 294.77h0M429.88 311.03h0M440.37 305.85h0M447.4 290.18h0M444.09 296.57h0M436.27 320.27h0M439.4 311.71h0M446.41 296.51h0M442.89 298.07h0M438.96 289.58h0M423.96 317.38h0M435.88 318.27h0M441.71 308.62h0M439.95 316.98h0M451.06 311.57h0M435.83 301.47h0M441.13 300.4h0M448.94 311.5h0M444.63 299.73h0M435.87 291.4h0M440.19 302.27h0M432.04 315.14h0M448.08 292.31h0M445.93 304.99h0M448.88 304.13h0M445.94 305.58h0M431.27 319.71h0M445.79 300.17h0M434.51 309.25h0M426.63 311.7h0M446.32 291.27h0M435.92 305.56h0M444.5 303.17h0M452.08 300.03h0M441.49 283.92h0M427.52 320.01h0M431.82 308.74h0M446.84 299.58h0M444.62 315.76h0M451.34 309.35h0M443.29 303.26h0M448.21 298.9h0M441.64 302.17h0M435.18 306.89h0M438.98 300.71h0M450.07 310.89h0M434.03 307.02h0M450.94 307.64h0M440.44 299.78h0M437.2 315.63h0M452.17 298.34h0M448.4 298.58h0M451.56 301.09h0M425.19 330.76h0M437.89 301.3h0M437.07 303.94h0M435.18 314.22h0M439.92 296.52h0M430.24 317.71h0M439.18 287.57h0M441.26 299.92h0M440.82 311.29h0M450.83 292.35h0M447.2 302.65h0M444.44 302.59h0M434.2 317.57h0M441.36 298.16h0M446.12 289.63h0M447.45 294.47h0M431.8 315.95h0M452.54 293.91h0M452.97 291.41h0M456.78 303.69h0M442.28 310.72h0M434.51 320.49h0M424.75 306.67h0M443.59 314.16h0M442.47 302.35h0M445.81 300.82h0M443.57 316.36h0M430.37 319.83h0M438.61 309.03h0M439.57 321.63h0M458.94 299h0M434.06 316.99h0M450.01 304.64h0M442.94 295.75h0M436.41 315.31h0M444.55 294.49h0M441.41 307.54h0M429.6 308.7h0M432.34 312.46h0M434.92 300.29h0M446.63 295.04h0M434.06 326.07h0M450.52 303.52h0M442.06 308.25h0M435.06 311.81h0M442.85 308.17h0M430.08 298.96h0M440.66 306.19h0M443.5 296.59h0M435.05 313.71h0M457.74 290.27h0M441.39 294.14h0M434.4 309.25h0M425.63 321.17h0M444.61 308.08h0M438.22 309.12h0M445.24 298.42h0M439.9 295.31h0M457.94 290.98h0M437.05 304.62h0M439.88 294.31h0M440.05 310.28h0M442.06 310.85h0M444.01 287.1h0M438.87 305.72h0M435.21 303.02h0M435.39 306.33h0M438.02 299.06h0M445.03 299.88h0M449.24 311.84h0M431.44 314.12h0M445.72 303.59h0M433.25 310.98h0M440.95 309.68h0M434.98 298.44h0M443.31 303.19h0M423.53 324.45h0M445.97 285.82h0M445.82 297.53h0M450.75 285.72h0M455.67 281.16h0M439.26 316.21h0M431.04 306.2h0M446.17 305.06h0M453.04 300.37h0M439.92 311.16h0M438.3 307.61h0M446.74 294.73h0M436.97 314.31h0M443.92 304.3h0M456.38 300.71h0M436.42 305.9h0M437.71 293.13h0M443.15 308.27h0M439.14 325.06h0M434.17 308.37h0M440.15 307.7h0M455.94 319.37h0M443.97 307.23h0M449.19 305.69h0M447.31 305.98h0M432.83 298.43h0M433.57 306.95h0M439.78 308.11h0M438.08 309.12h0M429.98 306.92h0M453.14 295.8h0M425.85 321.58h0M444.37 305.35h0M426.91 318.93h0M435.64 310.92h0M448.04 300.47h0M433.73 305.76h0M445.85 291.42h0M426.37 309.97h0" stroke="#4a52e0" stroke-width="1.05" stroke-linecap="round" opacity="0.5"/>
<path d="M429.49 320.45h0M437.01 323.99h0M432.89 325.91h0M438.74 317.83h0M434.85 328.37h0M436.25 324.37h0M434.57 313.04h0M438.59 322.73h0M432.73 318.63h0M436.55 322.62h0M432.55 318.1h0M435.26 318.56h0M430.42 320.67h0M429.67 332.24h0M437.84 316.13h0M431.12 326.91h0M438.56 313.16h0M433 318.96h0M444.86 309.68h0M438.25 317.69h0M435.22 320.19h0M436.41 317.75h0M429.73 328.03h0M435.31 322.11h0M433.82 324.58h0M436.18 324.16h0M423.65 326.78h0M428.68 332.92h0M433.15 316.07h0M432.08 319.94h0M435.98 327.46h0M437.54 326.48h0M431.1 324.16h0M434.3 326.11h0M435.71 319.01h0M430.42 320.47h0M435.24 318.45h0M431.43 324.97h0M427.3 328.94h0M427.61 320.81h0M433.82 323.26h0M425.27 321.89h0M427.21 318.48h0M432.46 324.59h0M436.13 317.78h0M432.45 314.73h0M439.07 319.49h0M429.57 323.66h0M432.14 318.13h0M440.55 319.58h0M433.14 320.32h0M432.79 321.8h0M431.78 325.9h0M432.77 315.13h0M434.31 321.51h0M431.62 312.77h0M431.09 320.69h0M442.56 315.92h0M432.61 321.29h0M430.63 328.13h0M432.14 319.13h0M433.54 318.48h0M440.84 319.91h0M432.55 324.54h0M430.21 322.69h0M432.19 322.66h0M434.19 325.57h0M422.98 327.02h0M432.74 315.97h0M441.42 320.74h0M427.07 321.15h0M434.54 330.27h0M433.16 322.69h0M431.95 326.41h0M437.58 320.26h0M430.68 323.71h0M438.39 322.36h0M429.1 326.65h0M424.27 323.07h0M426.66 326.48h0M424.71 323.55h0M432.95 318.25h0M440.34 322.58h0M429.78 317.14h0M432.2 319.05h0M423.8 328.38h0M438.39 318.66h0M430.14 327.59h0M440.66 319.54h0M442.62 313.36h0M433.39 321.34h0M436.08 319.93h0M436.06 319.93h0M433.2 331.22h0M431.08 327.75h0M432.78 326.22h0M433.3 320.59h0M437.58 319.84h0M434.94 322.49h0M437.27 317.63h0M432.72 324.83h0M428.97 327.69h0M431 319.19h0M433.65 322.45h0M430.42 329.18h0M435.83 316.72h0M428.12 323.48h0M429.37 323.04h0M437.39 324.15h0M427.35 323.58h0M435.64 319.5h0M434.59 320.14h0M434.94 319.99h0M432.4 320.78h0M430.61 322.43h0M427.27 321.16h0M434.03 320.14h0M438.67 317.04h0M434.86 317.44h0M435.1 320.7h0M434.61 315.59h0M438 316.57h0M427.22 324.6h0M434.58 323.11h0M435.67 314.99h0M429.72 322.65h0M433.83 325.4h0M436.67 320.36h0M432.56 322.32h0M441.04 320.39h0M434.98 325.37h0M434.63 318.4h0M441.56 311.39h0M434.65 314.39h0M431.67 329.62h0M430.67 326.34h0M434.67 330.09h0M429.36 317.82h0M431.59 329.89h0M436.21 320.27h0M435.39 310.98h0M435.97 312.73h0M432.86 326.51h0M427.34 317.52h0M431.46 321.8h0M433 327.16h0M439.16 315h0M429.62 322.79h0M428.09 324.38h0M439.85 325.44h0M430.54 316.33h0M442.87 320.02h0M439.67 316.76h0M429.6 319.17h0M425.08 328.53h0M436.12 319.48h0M437.92 320.34h0M438.75 314.01h0M424.65 324.36h0M430.62 327.38h0M438.2 315.26h0M440.3 316.86h0M439.22 318.16h0M438.27 326.81h0M437.58 316.63h0M429.3 321.73h0M429.32 326.77h0M430.8 319.69h0M433.41 321.12h0M433.5 316.14h0M437.03 317.6h0M427.87 329.14h0M435.57 322.04h0M434.92 319.93h0M428.11 325.82h0M434.21 324.7h0M433.9 322.07h0M438.05 323.41h0M433.34 328.16h0M429.65 322.61h0M428.48 325.08h0M432.49 318.65h0M431.77 322.82h0M430.6 323.49h0M431.35 315.37h0M434.62 324.5h0M428.29 325.62h0M433.75 314.2h0M432.1 313.72h0M433.64 318.99h0M429.79 325.96h0M439.73 320.4h0M431.53 324.46h0M426.19 328.38h0M432.8 322.4h0M438.63 314.31h0M430.37 322.29h0M436.51 320.96h0M440.3 319.12h0M434.65 322h0M431.18 322.12h0M429.59 318.18h0M439.17 323.68h0M429.01 321.37h0M435.23 321.42h0M432.8 317.48h0M427.63 319.02h0M434.76 318.28h0M437.98 322.64h0M433.14 324.15h0M431.85 321.85h0M434.51 322.39h0M432.98 322.72h0M434.39 324.57h0M430.21 326.21h0M435.18 323.09h0M434.02 317.43h0M434.95 319.04h0M428.73 323.27h0M439.13 323.79h0M436.59 320.89h0M431.8 327.03h0M436.23 321.16h0M434.78 324.67h0M433.72 325.02h0M430.59 317.58h0M433.26 323.4h0M428.35 332.85h0M434.82 321.97h0M424.24 320.85h0M431.43 320.75h0M437.94 321.76h0M433.13 323.45h0M431.96 323.8h0M433.79 321.49h0M439.39 324.56h0M432.59 327.21h0M431.53 324.7h0M439.11 324.26h0M439.47 316.83h0M433.21 321.92h0M434.71 317.2h0M428.32 322.27h0M433.83 322.48h0M433.11 321.32h0M427.26 325.09h0M430.98 319.83h0M432.53 322.59h0M426.06 332.85h0M431.67 321.07h0M432.41 319.13h0M433.83 320.95h0M433.12 319.71h0M425.71 322.43h0M431.84 325.92h0M434.2 324.47h0M432.69 327.74h0M430.8 323.04h0M435.37 315.72h0M431.29 326.47h0M427.88 319.25h0M441.02 317.07h0M432.15 322.03h0M429.98 325.96h0M430.99 318.08h0M435.34 322.96h0M429.98 317.86h0M427.86 328.35h0M437.37 324.18h0M435.95 322.06h0M440.94 315.2h0M431.9 315.8h0M432.96 324.64h0M434.54 320.91h0M431.02 314.87h0M432.58 322.11h0M434.76 323.54h0M439.98 318.84h0M438.8 323.79h0M434.52 319.28h0M427.4 322.49h0M435.92 321.21h0M429.37 330.94h0M437.31 316.91h0M432.02 323.44h0M436.22 319.93h0M437.56 315.9h0M429.85 325.53h0M438.63 318.59h0M432.26 318.7h0M442.07 322.01h0M435.12 325.64h0M432.04 324.83h0M441.46 320.36h0M431.85 316.83h0M439.06 326.63h0M428.25 324.16h0M437.19 315.85h0M431.93 322.15h0M432.14 321.56h0M432.78 325.5h0M435.58 323.4h0M432.7 316.45h0M434.01 322.34h0M436.95 325.47h0M434.8 326.58h0M442.62 320.15h0M438.92 315.54h0M430.21 320.21h0M431.51 325.62h0M434.44 320.59h0M429.37 328.64h0M432.64 318.93h0M432.74 318.86h0M432.24 319.12h0M435.2 312.13h0M443.01 318.25h0M433.49 318.39h0M436.09 326.61h0M435.68 316.53h0" stroke="#1c1ce0" stroke-width="1.05" stroke-linecap="round" opacity="0.8"/>
<path d="M469.1 295.22h0M466.15 293.42h0M474.91 301.72h0M464.06 305.61h0M462.07 311.96h0M468.11 294.6h0M463.58 313.38h0M469.73 297.28h0M459.54 312.59h0M464.46 297.73h0M469.17 303.79h0M458.32 310.94h0M461.23 305.33h0M475.4 299.93h0M466.74 305.4h0M470.21 300.89h0M462.1 310.11h0M464.97 301.99h0M455.28 318.24h0M458.15 309.52h0M476.75 295.7h0M472.03 302.44h0M469.27 308.44h0M473.18 310.67h0M456.39 317.31h0M466.83 298.87h0M456.15 315.05h0M453.68 303.9h0M474.75 303.08h0M460.48 311.68h0M466.72 314.86h0M460.49 300.73h0M471.05 309.32h0M475.08 292.71h0M449.82 316.6h0M452.42 297.44h0M465.41 294.96h0M458.23 305.37h0M461.34 307.25h0M451.47 303.47h0M463.82 308.63h0M475.05 304.86h0M472.41 291.83h0M468.24 302.41h0M479.23 297.15h0M464.67 302.67h0M449.19 315.38h0M477.03 305.31h0M444.47 316.26h0M457.32 297.26h0M466.42 306.4h0M460.86 319.5h0M462.3 305.32h0M460.83 309.45h0M463.34 300.61h0M459.07 303.39h0M470.56 300.66h0M456.24 301.55h0M477.09 307.94h0M467.51 307.63h0M466.36 302.19h0M464.53 302.28h0M461.28 308.77h0M472.73 294.47h0M474.58 305.56h0M454.23 331.3h0M451.66 310.68h0M474.41 286.42h0M462.58 306.82h0M492.82 288.13h0M471.12 304.26h0M466.52 298.81h0M460.23 307.34h0M458.24 301.03h0M460.21 296.79h0M468.03 292.77h0M466.51 304.86h0M460.66 300.76h0M454.68 310.11h0M460.1 307.41h0M460.54 307.25h0M463.97 306.16h0M462.25 314.52h0M454.16 311.68h0M464.85 310.43h0M444.11 323.84h0M448.97 313.27h0M454.74 308.24h0M474.46 309.78h0M460.99 313.34h0M459.15 318.09h0M468.92 299.27h0M465.8 309.53h0M472.16 291.54h0M463.98 309.12h0M456.46 309.18h0M464.51 312.5h0M481.58 295.43h0M477.92 295.35h0M463.72 302.93h0M480.21 306.39h0M452.06 316.1h0M479.78 302.38h0M466.21 302.72h0M469.78 313.94h0M465.74 307.63h0M461.7 299.36h0M454.86 303.68h0M464.39 313.17h0M447.51 308.54h0M478.43 296.28h0M456.14 313h0M460.51 305.62h0M471.83 298.39h0M472.47 296h0M474.79 295.15h0M455.35 307.73h0M458.85 309.31h0M464.32 309.21h0M451.44 325h0M474.34 304.69h0M449.79 319.79h0M459.41 305.32h0M469.48 299.16h0M471.17 302.21h0M457.74 308.94h0M472.68 302.79h0M471.56 298.8h0M447.17 318.3h0M462.1 310.92h0M463.61 297.1h0M462.5 299.66h0M462.2 310.23h0M459.75 305.76h0M481.57 289.24h0M458.68 308.86h0M470.63 298.12h0M448.19 311.05h0M466.17 302.02h0M470.56 298.21h0M456.12 306.55h0M454.6 308.16h0M472.41 286.09h0M464.47 311.59h0M469.42 296.33h0M457.84 324.89h0M477.56 293.57h0M451.5 326.55h0M460.6 318.58h0M459.12 311.25h0M467.14 310.91h0M466.53 305.81h0M487.15 304.83h0M476.57 284.72h0M489.52 302.41h0M473.52 302.27h0M459.91 297.39h0M451.86 326.82h0M457.47 299.52h0M455.48 305.62h0M469.91 301.22h0M457.21 314.68h0M458.42 313.03h0M457.15 310.07h0M466.31 296.75h0M461.06 298.92h0M463.42 321.71h0M446.76 315.07h0M457.39 307.33h0M463.47 315.26h0M456.57 306.07h0M461.73 301.15h0M467.21 296.32h0M471.24 299.81h0M455.92 307.39h0M453.63 306.35h0M479.55 296.61h0M464.27 309.23h0M472.7 302.28h0M461.89 299.18h0M467.72 302.35h0M480.67 296.15h0M466.39 311.17h0M478.59 302h0M468.41 300.28h0M460.51 302.92h0M456.3 303.58h0M464 313.15h0M478.08 300.26h0M476.69 301.42h0M460.9 315h0M473.78 308.14h0M444.16 312.75h0M463.8 302.85h0M484.15 291.61h0M464.23 324.47h0M462.71 297.4h0M457.1 306.75h0M465.38 304.02h0M453.59 310.37h0M469.17 306.51h0M443.1 320.34h0M464.89 309.38h0M460.75 305.82h0M464.83 306.58h0M486.85 295.17h0M459.13 318.43h0M455.29 306.24h0M449.85 311.72h0M469.87 302.29h0M467.63 308.1h0M456.64 316.19h0M471.45 296.79h0M472.21 308.88h0M473.52 290.67h0M474.27 302.96h0M469.67 309.37h0M458.35 311.59h0M439.67 314.26h0M462.26 312.94h0M475.74 298.45h0M466.97 312.08h0M456.66 311.06h0M465.81 302.65h0M470.99 300.06h0M489.73 285.94h0M454.96 311.74h0M458.79 305.13h0M456.61 316.21h0M459.33 312.32h0M474.7 301.35h0M465.7 308.86h0M447.84 312.18h0M479.59 299.64h0M479.01 291.58h0M467.58 295.62h0M457.95 315.54h0M453.38 311.78h0M472.86 293.09h0M461.2 319.58h0M456.21 306.38h0M455.79 321.25h0M480.4 290.82h0M464.35 317.32h0M468.95 313.86h0M459.05 312.8h0M452.84 304.78h0M445.22 304.73h0M463.9 286.49h0M453.6 305.83h0M472.46 290.08h0M450.53 312.82h0M465.91 299.68h0M473.78 300.08h0M455.96 316.78h0M464.69 302.48h0M457.55 308.58h0M456.94 317.08h0M464.77 314.21h0M450.66 323.56h0M449.31 294.9h0M453.33 320.93h0M464.36 295.24h0M472.54 289.51h0M472.06 290.98h0M459.89 314.32h0M455.41 299.04h0M479.85 289.69h0M477.11 298.7h0M472.02 304.15h0M446.19 323.19h0M453.39 300.13h0M487.81 294.19h0M470.51 305.22h0M460.17 309.5h0M463 303.43h0M488.67 291.77h0M478.86 300.09h0M455.06 318.31h0M451.85 312.21h0M465.1 306.46h0M476.17 296.92h0M456.85 311.2h0M458.78 310.1h0M438.5 322.23h0M461.33 313.99h0M469.23 301.49h0M471.61 304.11h0M448.56 314.79h0M467.76 296.76h0M457.5 313.85h0M447.09 312.74h0M468.76 303.31h0M444.28 313.66h0M460.87 311.84h0M457.47 315.28h0M467.55 313.9h0M468.98 309.14h0M460.87 311.84h0M463.73 322h0M458.89 310.96h0M439.25 322.21h0M460.26 305.61h0M480.63 289.8h0M464.17 301.12h0M475.8 299.76h0M465.59 308.29h0M460.96 302.8h0M468.37 303.28h0M466.25 296.89h0M471.37 303.08h0M454.27 309.96h0M459.75 300.89h0M451.35 318.19h0M467 290.98h0M458.16 299.95h0M470.54 318.11h0M443.36 305.23h0M474.2 308.87h0M463.94 288.08h0M471.95 305.59h0M481.67 305.84h0M462.47 317.54h0M470.72 296.74h0M468.06 310.03h0M443.02 329.28h0M462.39 298.71h0M459.36 317.82h0M461.34 304.96h0M453.99 305.83h0M463.61 320.23h0M478.13 302.14h0M458.95 309.14h0M466.22 304.24h0M469.74 298.9h0M468.7 316.77h0M456.94 318.79h0M463.91 303.33h0M461.82 303.76h0M452.26 307.33h0M467.32 305.98h0M478.84 298.13h0M477.11 301.54h0M482.13 296.68h0M484.84 302.52h0M460.68 296.63h0M467 306.78h0M458.28 316.6h0M478.06 298.29h0M458.25 307.32h0M470.03 300.1h0M482.88 295.09h0M462.75 300.01h0M451.31 315.8h0M456.94 314.12h0M462.3 307.94h0M472.8 289.72h0M459.92 304.88h0M464.5 306.66h0M452.03 309.49h0M476.36 311.29h0M463.57 301.49h0M475.51 302.3h0M459.23 315.35h0M471.51 301.43h0M445.8 308.91h0M459.83 311.37h0M460.8 310.35h0M461.12 304.58h0M475.99 310.5h0M445.29 324.97h0M461.73 303.37h0M465.15 312.74h0M451.05 313.76h0M465.02 311.1h0M474.44 308.14h0M457.67 305.54h0M460.31 309.09h0M468.17 296.97h0M457.64 310.76h0M478.23 301.44h0M464.63 298.18h0M467.22 300.2h0M468.71 298.88h0M477.48 296.88h0M462.74 315.41h0M469.88 290.15h0M454.28 308.93h0M467.59 301.37h0M472.54 302.65h0M461.4 298.37h0M458.29 317.31h0M457.08 317.8h0M447.39 305.06h0M462.38 302.85h0M463.18 299.82h0M467.32 297.55h0M443.76 308.45h0M466.32 300.73h0M472.21 294.71h0M469.68 307.12h0M464.78 304.76h0M477.88 304.58h0M480.46 293.79h0M478.31 293.06h0M476.05 289.64h0M448.99 309.32h0M480.5 296.01h0M466.46 311.53h0M471.76 296.84h0M463.23 312.99h0M462.39 294.78h0M455.65 304.04h0M466.43 310.9h0M481.57 288.37h0M450.11 308.89h0M477.41 300.53h0M467.78 306.05h0M455.93 313.69h0M472.03 288.57h0M464.02 302.38h0M461.45 309.96h0M467.26 300.56h0M458.3 310.76h0M479.61 290.57h0M450.67 314.41h0M460.17 307.66h0M445.5 317.83h0M467.73 302.56h0M473.86 299.2h0M474.92 298.45h0M485.16 298.78h0M467.41 306.61h0M455.15 300.89h0M474.11 297.45h0M458.6 307.23h0M465.67 298.36h0M463.49 310.24h0M460.73 311.68h0M463.56 302.84h0M479.21 299.39h0M470.69 293.63h0M464.74 300.62h0M442.01 324.35h0M465.22 303.34h0M466.77 298.42h0M470.51 299.64h0M468.88 320.18h0M473.14 294.28h0M472.46 305.52h0M451.16 321.43h0M474.29 300.07h0M482.12 292.97h0M474.61 308.94h0M466.12 318.25h0M482.48 290.08h0M474.86 296.01h0M448.4 317.03h0M480.07 300.92h0M470.76 302.18h0M465.68 298.69h0M451.77 319.71h0M453.24 319.96h0M460.03 294.6h0M488.96 295.67h0M470.3 306.15h0M470.63 308h0M462.15 311.25h0M450.66 294.64h0M478.61 300.38h0M459.79 311.7h0M484.17 291.66h0M472.55 303.83h0M465.19 298.68h0M465.87 307.48h0M454.91 306.06h0M457.73 300.94h0M453.94 318.34h0M460.4 298.55h0M452.36 324.89h0M483.07 286.01h0M460.28 301.31h0M454.71 321.45h0M466.91 303.33h0M463.61 302.29h0M457.22 307.29h0M465.19 301.82h0M449.7 303.61h0M463.47 306.96h0M458.04 301.89h0M460.6 292.79h0M461.39 312.29h0M468.12 304.78h0M442.81 332.1h0M470.98 293.84h0M460.49 298.07h0M475.36 308.02h0M465.35 310.99h0M474.23 300.67h0M455.67 296.42h0M467.4 305.01h0M463.54 302.91h0M463.92 314.29h0M453.01 308.74h0M472.92 305.02h0M470.2 300.21h0M467.73 309.56h0M475.88 295.27h0M466.2 304.39h0M468.03 300h0M473.51 295.17h0M464.25 291.7h0M465.64 309.21h0M450.03 308.02h0M456.65 309.54h0M455.9 313.84h0M470.48 297.14h0M432.04 332.14h0M479.31 285.19h0M453.7 308.5h0M471.92 293.57h0M466.33 301.18h0M475.21 306.81h0M449.95 311.55h0M469.74 291.82h0M462.43 303.83h0M469.08 298.35h0M459.43 315.5h0M463.35 303.71h0M455.25 306.68h0M472.29 307.37h0M472.51 300.97h0M464.68 308.51h0M464.14 295.99h0M470.97 302.31h0M470.85 312.45h0M461.85 306.19h0M442.83 314.7h0M474.81 296.84h0M467.94 305.06h0M461.85 305.76h0M460.53 296.11h0M461.17 309.86h0M463.04 308.2h0M467.74 299h0M454.3 319.86h0M468.33 313.98h0M466.48 302.11h0M452.34 318.58h0M453.97 311.82h0M475.53 294.06h0M482.4 284.99h0M471.61 306.52h0M469.76 297.87h0M460.76 315.06h0M475.75 292.29h0M466.2 306.64h0M459.83 296.89h0M471.98 304.8h0M468.4 318.16h0M458.52 309.51h0M466.62 306.55h0M459.17 316.65h0M459.23 308.28h0M436.31 318.45h0M456.81 313.27h0M471.77 303.75h0M469.75 290.07h0M466.39 295.25h0M457.67 311.27h0M467.79 306.29h0M454.14 309.37h0M458.22 316.05h0M476.14 299.45h0M464.81 311.06h0M460.32 305.23h0M461.35 297.22h0M473.2 297.14h0M459.89 296.62h0M470.28 314.61h0M468.4 302.17h0M470.88 312.24h0M459.45 303.53h0M441.32 317.02h0M464.32 318.77h0M467.25 308.72h0M456.47 312.46h0M487.52 295.85h0M489.28 289.85h0M484.67 295.02h0M457.9 311.34h0M473.25 303.62h0M474.09 305.79h0M472.34 304.91h0M452.8 317.56h0M474.37 296.82h0M482.17 291.8h0M469.39 293.12h0M486.63 289.09h0M463.67 306.36h0" stroke="#d860e0" stroke-width="1.05" stroke-linecap="round" opacity="0.5"/>
<ellipse cx="455.5" cy="316" rx="12.6" ry="4.2" transform="rotate(-42 455.5 316)" fill="#c81ad8" opacity="0.68" filter="url(#bl)"/>
<path d="M457.82 312.25h0M449.34 315.35h0M465.07 310.51h0M463.72 316.51h0M457.49 309.23h0M451.96 325.11h0M453.62 317.09h0M460.34 315.24h0M457.84 305.99h0M450.02 319.39h0M447.92 315.55h0M445.16 323.07h0M446.19 326.56h0M460.24 307.96h0M457.02 318.81h0M459.77 314.45h0M460.27 307.89h0M453.37 314.75h0M457.83 317.81h0M448.71 322.76h0M451.66 320.29h0M460.62 316.65h0M461.98 305.43h0M464.52 313.09h0M451.01 320.53h0M450.36 320.78h0M459.74 311.9h0M464.94 320.5h0M458.59 312.61h0M458.38 316.03h0M461.05 305.63h0M460.32 317.85h0M462.91 305.34h0M457.92 311.59h0M457.35 317.74h0M447.86 322.04h0M456.32 312.57h0M464.11 313.67h0M460.42 318.93h0M450.05 322.44h0M442.21 325.3h0M453.05 316.74h0M466.91 305.39h0M449.55 323.81h0M453.57 319.75h0M454.89 312.9h0M460.79 309.03h0M445.78 317.76h0M454.5 314.1h0M457.14 313.75h0M448.69 323.51h0M458.19 313.46h0M445.72 318.33h0M457.56 315.87h0M460.19 312.83h0M455.5 314.64h0M446.41 321.89h0M457.2 308.63h0M460.42 311.83h0M451.98 309.87h0M460.61 310.76h0M452 317.85h0M449.48 319.88h0M451.41 313.58h0M456.65 310.76h0M460.76 309.98h0M453.03 322.08h0M459.49 317.44h0M455.9 314.09h0M451.65 317.92h0M442.63 327.83h0M443.85 325.2h0M462.88 311.91h0M445.01 324.09h0M440.99 323.34h0M444.98 323.29h0M452.86 317.7h0M463.17 308.02h0M455.64 311.54h0M453.41 320.17h0M454.05 318.75h0M459.62 315.17h0M459.14 319.67h0M441.21 323.28h0M461.7 307.27h0M462.82 312.4h0M444.63 318.02h0M455.25 318.99h0M457.27 312.44h0M458.68 316h0M450.4 314.75h0M454.8 314.32h0M465.7 303.72h0M452.11 316.13h0M457.08 304.86h0M461.72 319.45h0M448.82 323.38h0M459.36 311.67h0M456.61 312.29h0M463.16 308.96h0M465.83 306.21h0M460.53 307.35h0M455.67 311.48h0M460.06 313.51h0M458.39 307.64h0M450.15 319.89h0M448.46 320.61h0M456.12 305.98h0M445.05 318.36h0M457.51 321.27h0M465.39 303.14h0M459.29 307.76h0M462.69 307.23h0M456.39 316.92h0M459.81 305.24h0M450.96 321.34h0M450.18 320.1h0M455.79 318.13h0M451.24 320.02h0M466.83 311.38h0M451.93 313.86h0M449.08 323.83h0M461.06 310.31h0M460.8 312.33h0M459.92 305.26h0M443.33 317.76h0M448.78 319.51h0M440.3 328.42h0M457.21 312.95h0M456.7 318.37h0M453.57 321.33h0M465.15 309.27h0M450.14 320.08h0M453.32 320.34h0M450.06 321.7h0M448.48 321.87h0M453.54 314.86h0M453.66 316.89h0M454.03 319.58h0M447.98 322.81h0M449.04 327.08h0M448.75 317.19h0M453.08 315.02h0M448.36 320.38h0M455.69 322.78h0M453.33 319.21h0M448.58 321.59h0M446 326.11h0M452.58 315.77h0M468.35 310.54h0M457.01 312.33h0M451.95 314.47h0M451.54 321.54h0M452.08 321.3h0M464.42 312.66h0M446.7 321.73h0M467.27 306.19h0M455.8 315.88h0M458.9 315.81h0M452.26 316.93h0M461.8 310.25h0M462.11 310.83h0M451.71 321.05h0M466.9 304.31h0M457.85 315.66h0M447.46 326.08h0M460.06 314.07h0M458.99 315.07h0M459.42 317.33h0M457.91 306.72h0M459.78 305.85h0M451.47 326.42h0M455.98 318.59h0M456.87 318.79h0M452.97 312.01h0M445.19 327.4h0M456.6 313.32h0M457.95 317.31h0M468.92 305.11h0M448.55 318.84h0M448.29 313.79h0M458.39 312.73h0M452.83 312.58h0M458.21 306.92h0M460.96 305.57h0M447.33 317.95h0M457.87 316.63h0M457.79 309.42h0M450.39 319.61h0M474.24 306.9h0M456.44 312.51h0M456.61 314.48h0M447.36 326.35h0M449.85 318.1h0M444.27 329.2h0M460.9 312.67h0M451.49 321.58h0M453.23 312.17h0M459.25 314.9h0M453.21 310.61h0M451.75 316.98h0M457.64 308.4h0M447.77 321.99h0M442.91 326.58h0M445.26 324.04h0M458.5 309.49h0M463.68 306.66h0M449.08 317.9h0M453.73 321.48h0M455.56 311.08h0M443.28 320.44h0M450.3 317.29h0M444.32 323.07h0M454.39 314.65h0M436.84 334.53h0M447.03 327.4h0M443.7 326.81h0M454.13 316.38h0M458.41 313.84h0M453.67 315.47h0M469.56 305.43h0M455.18 316.15h0M450.44 324.1h0M454.17 321.68h0M456.28 309.08h0M457.28 312.94h0M469.31 303.82h0M458.18 317.25h0M447.86 320.86h0M443.91 318.54h0M461.63 313.13h0M437.27 333.62h0M456.68 313.05h0M462.42 313.44h0M456.06 323.46h0M455.18 313.33h0M464.01 309.02h0M462.69 305.13h0M462.32 306.09h0M461.31 310.21h0M456.88 320.46h0M444.63 320.46h0M440.06 327.67h0M466.37 305.21h0M461.62 309.74h0M446.46 323.68h0M461.21 308.53h0M454.47 321.31h0M451.24 318.92h0M449.04 325.66h0M470.39 305.73h0M446.02 324.47h0M448.51 324.03h0M459.5 311.86h0M460.69 311.41h0M459.84 314.53h0M446.96 320.91h0M452.85 316.41h0M450.02 322.1h0M453.38 320.89h0M464.27 302.17h0M459.9 317.72h0M459.34 310.23h0M450.65 323.2h0M450.04 317.67h0M458.57 313.88h0M459.63 304.92h0M453.29 316.07h0M465.86 307.89h0M472.68 303.36h0M442.11 325.47h0M455.46 316.21h0M463.09 315.95h0M456.36 320.23h0M470.03 310.11h0M452.89 311.84h0M454.79 311h0M444.95 326.01h0M459.66 307.68h0M453.54 318.58h0M458.63 314.03h0M453.82 318.11h0M449.38 318.96h0M455.32 318.58h0M446.01 323.01h0M453.65 317.82h0M466.4 313.83h0M464.39 313.75h0M447.24 320.37h0M461.23 311.78h0M453.67 319.74h0M451.14 320.42h0M459.87 313.54h0M460.15 312.18h0M449.31 318.16h0M462.49 311.84h0M454.56 315.7h0M467.58 301.17h0M444.92 324.77h0M457.99 322.5h0M450.84 315.19h0M451.87 323.91h0M447.25 325.6h0M462.3 307.6h0M453.43 310.35h0M444.71 323.03h0M451.37 319.32h0M453.46 319.38h0M458.61 315.58h0M450.73 324.42h0M463.52 305.54h0M455.67 316.35h0M464.68 307.41h0M461.79 315.99h0M453.28 317.37h0M457.62 320.92h0M457.11 312.7h0M452.87 311.09h0M459.15 316.69h0M463.04 314.2h0M461.15 305.89h0M449.87 323.47h0M442.2 323.22h0M452.05 324.58h0M463.02 308.04h0M452.33 315.1h0M450.55 319.09h0M459.72 316.12h0M465.77 317.7h0M448.25 323.05h0M450.45 323.75h0M454.99 316.2h0M451.41 313.04h0M453.66 324.04h0M471.26 303.31h0M462.37 307.16h0M450.42 312.62h0M459.75 311.89h0M445.09 320.76h0M463.42 312.48h0M454 317.04h0M450.71 320.25h0M444.95 322.78h0M460.97 311.17h0M456.14 315.9h0M449.4 317.22h0M462.01 309.88h0M453.97 317.86h0M456.67 313.97h0M452.48 319.23h0M456.17 311.41h0M446.42 321.65h0M454.4 320.45h0M455.68 315.73h0M453.28 324.82h0M453.52 321.44h0M460.18 311.78h0M449.51 316.1h0M461.62 308.89h0M456.07 311.19h0M456.86 317.42h0M442.76 322.05h0M464.23 305.71h0M466.16 308.36h0M458.24 315.17h0M456.73 315.53h0M458.76 318.71h0M455.66 321.73h0M455.27 319.1h0M457.64 312.96h0M445.69 325.22h0M451.8 312.5h0M456.14 311.23h0M444.46 327.31h0M448.68 317.38h0M445.79 326.22h0M446.21 325.16h0M457.83 311.51h0M442.42 317.64h0M472.94 300.59h0M449.99 312.92h0M449.95 321.46h0M450.83 315.28h0M452.36 313.4h0M455.49 312.76h0M455.58 312.53h0M457.39 314.7h0M465.38 313.1h0M462.8 308.74h0M455.33 315.45h0M453.86 309.76h0M449.8 320.17h0M450.31 318.84h0M451.39 316.97h0M465.33 309.36h0M449.94 319.67h0M454.26 312.36h0M456.16 315.47h0M462.64 313.63h0M451.01 319.36h0M450.44 315.88h0M462.54 309.63h0M457.84 315.37h0M450.04 317.21h0M466.12 312.19h0M456.01 315.05h0M451.96 318.94h0M463.13 312.19h0M467.31 305.38h0M450.71 315.96h0M446.96 319.69h0M439.34 329.47h0M465.33 302.36h0M450.6 317.66h0M455.84 320.33h0M446.85 319.63h0M454.33 316.99h0M448.25 321.84h0M465.23 306.27h0M457.2 308.38h0M452.78 320h0M446.15 321.76h0M459.42 312.32h0M450.9 321.9h0M467.11 311.59h0M455.93 312.46h0M456.22 317.04h0M448.28 323.69h0M457.29 314.44h0M447.88 324.93h0M466.44 312.37h0M439.23 324.01h0M451.77 316.38h0M469.73 299.94h0M451.69 318.16h0M460.52 311.47h0M462.1 308.86h0M457.12 312.72h0M453.78 315.38h0M459.13 305.87h0M464.69 311.49h0M454.66 321.99h0M467.07 307.16h0M463.17 306.38h0M448.6 321.19h0M462.99 316.63h0M458.36 310.86h0M453.96 311.4h0M452.27 319.8h0M446.43 321.11h0M458.75 312.01h0M446.54 326.48h0M449.64 316.2h0M443 327.1h0M453.89 322.71h0M455.04 312.44h0M450.58 328.6h0M457.14 306.52h0M466.69 315h0M460.28 314.75h0M464.25 315.95h0M464.79 305.71h0M458.46 308.29h0M447.63 328.79h0M454.34 315.68h0M453.12 323.47h0M459.97 319.5h0M444.75 325.45h0M454.28 312.8h0M454.38 317.12h0M459.6 312.33h0M447.93 319.33h0M453.7 316.44h0M440.31 326.24h0M453.13 314.54h0M454.7 314.81h0M446.09 322.39h0M454.56 314.08h0M447.05 324.02h0M459.5 313.42h0M451.7 321.99h0M451.38 316.32h0M467.71 306.94h0M457.34 309.82h0M463.21 303.67h0M462.55 309.38h0M455.12 316.07h0M463.09 302.85h0M457.03 313.17h0M451.79 311.03h0M455.17 320.42h0M450.86 325.59h0M458.97 311.53h0M453.93 316.11h0M459.48 313.31h0M458.12 319.17h0M459.92 311.55h0M452.88 319.55h0M456.48 312.41h0M462.22 308.49h0M466.11 309.03h0M456.91 315.86h0M448.36 318.71h0M466.41 306.6h0M466 309.26h0M452.93 319.61h0M461.59 303.22h0M455.77 306.77h0M449.54 318.95h0M456.06 312.17h0M447.56 320.87h0M453.62 316.14h0M458.16 321.54h0M451.81 310.13h0M464.39 308.65h0M446.24 322.47h0M435.35 331.57h0M462.91 312.51h0M457.6 319.69h0M461.66 307.9h0M461.62 309.04h0M466.36 303.47h0M440.42 322.89h0M468.99 307.87h0M457.83 316.59h0M452.75 316.86h0M464.83 303.03h0M462.36 304.63h0M449.27 324.7h0M453.19 319.06h0M467.29 307.28h0M449.31 324.96h0M458.46 311.57h0M462.71 314.38h0M454.42 314.36h0M455.03 319.57h0M458.36 305.68h0M456.46 317.09h0M448.49 318.38h0M458.74 308.44h0M447.73 324.52h0M452.71 316.25h0M458.88 311.15h0M448.83 324.67h0M466.85 306.39h0M454.7 307.81h0M455.4 314.07h0M448.6 319.47h0M461.46 317.47h0M458.27 321.02h0M458.16 311.45h0M453.64 318.94h0M461.21 316.2h0M448.44 325.67h0M447.78 325.69h0M455.12 323.97h0M441.49 325.47h0M458.64 321.6h0M452.47 310.72h0M448.55 329.82h0M456.21 318.67h0M450.11 318.19h0M450.62 319.42h0M462.07 306.16h0M454.58 319.75h0M459.41 320.65h0M449.66 317.46h0M453.68 320.69h0M454.11 316.01h0M452.94 312.72h0M450.49 313.5h0M466.62 314.33h0M452.99 316.29h0M457.9 319.61h0M468.53 307.22h0M459.25 316.74h0M458.14 307.29h0M459.93 311.14h0M454.99 319.96h0M462.54 305.8h0M459.44 316.16h0M454.14 311.59h0M457.6 316.17h0M457.4 312.04h0M458.84 307.77h0M443.95 330.4h0M463.23 305.6h0M441.26 326.47h0M446.77 321.87h0M461.96 314.08h0M453.94 315.94h0M461.35 312.76h0M446.72 321.45h0M459.72 319.51h0M459.58 312.29h0M451.67 322.22h0M453.22 322.55h0M453.96 311.83h0M460.98 314.89h0M440.13 331.46h0M452.15 316.41h0M459.41 315.92h0M462.95 304.4h0M449.97 324.4h0M458.34 317.14h0M449.36 323.17h0M450.03 322.14h0M448.12 315.69h0M464.57 303.56h0M459.88 312.98h0M460.26 307.77h0M456.73 318.17h0M462.04 307.93h0M456.26 315.5h0M461.86 312.31h0M443.4 321.13h0M449.21 319.62h0M459.87 310.62h0M473.43 305.79h0M469.08 304.32h0M448.63 320.7h0M459.1 321.32h0M452.5 314.92h0M473.41 300.34h0M451.02 319.68h0M459.57 316.38h0M467.89 312.5h0M461.44 312.15h0M448.36 323.85h0M469.83 303.88h0M437.85 323.65h0M458.2 314.62h0M449.18 313.68h0M447.21 325.15h0M451.31 315.71h0M454.29 319.38h0M448.56 323.41h0M448.53 315.06h0M452.84 315.54h0M459.51 317.82h0M439.27 327.04h0M449.71 316.64h0M455.07 314.48h0M463.8 311.26h0M463.58 309.5h0M442.6 325.25h0M451.1 319h0M457.07 314.1h0M462.89 313.75h0M463.63 301.35h0M451.88 315.8h0M449.15 325.47h0M458.92 318.7h0M455.61 312.24h0M451.53 319.88h0M453.76 326.05h0M459.44 311.59h0M446.4 323h0M453.59 321.1h0M459.35 315.81h0M455.12 312.98h0M458.3 317.8h0M451.91 324.34h0M449.52 321.01h0M457.09 308.85h0M461.37 310.31h0M468.91 309.75h0M458.63 312.06h0M463.35 305.33h0M456.5 317.44h0M457.75 312.22h0M470.13 303.25h0M446.62 315.09h0M453.64 320.85h0M467.24 312.38h0M462.05 310.92h0M442.06 323h0M464.51 307.59h0M448.33 317.72h0M450.4 319.18h0M460.17 306.65h0M459.4 313.04h0M460.99 314.08h0M467.31 308.99h0M463.58 310.9h0M438.01 330.51h0M455.89 311.8h0M461.84 312.66h0M453.25 312.75h0M455.03 318.32h0M455.29 311.69h0M458.66 315.65h0M455.71 316.3h0M453.56 314.9h0M448.82 322.61h0M450.21 308.13h0M449.93 318.88h0M459.39 308.78h0M454.05 321.08h0M453.52 318.82h0M444.12 320.68h0M451.48 314.93h0M458.18 311.36h0M446.82 322.05h0M464.44 310.42h0M455.48 314.96h0M455.05 318.67h0M462.67 314.24h0M457.86 314.39h0M438.81 323.97h0M462.29 310.43h0M458.25 311.12h0M456.51 318.13h0M442.21 326.49h0M461.07 311.87h0M458.81 307.42h0M455.4 315.12h0M452.91 314.45h0M435.4 325.05h0M449.92 311.28h0M450.54 324.22h0M452.88 316.42h0M449.77 324.56h0M460.13 311.47h0M451.86 317.06h0M458.24 315.07h0M451.87 313.43h0M450.14 320.61h0M448.01 328.98h0M446.14 323.68h0M451.37 324.56h0M456.54 316.82h0M470.08 305.82h0M457.67 313.74h0M457.87 320.69h0M462.17 311.86h0M447.08 322.45h0M458.5 315.99h0M460.55 318.07h0M439.43 328.69h0M457.41 314.71h0M453.49 322.31h0M457.2 319.86h0M454.08 318.66h0M454.92 314.13h0M452.38 323.67h0M462.02 312.11h0M458.94 307.07h0M448.75 322.44h0M456.45 314.4h0M453.71 317.67h0M461.16 305.33h0M451.84 323.01h0M456.09 315.24h0M453.82 317.12h0M444.38 323.48h0M462.92 310.14h0M461.7 319.6h0M448.99 325.89h0M460.96 311.25h0M459.09 307.22h0M446.76 327.8h0M450.79 314.58h0M453.96 318.72h0M452.63 316.24h0M453.83 316.07h0M454.22 321.01h0M442.8 326.45h0M456.37 317.23h0M443.69 321.51h0M448.49 317.02h0M457.84 312.39h0M467.28 304.3h0M464.1 307.16h0M448.01 317.4h0M453.47 316.64h0M467.08 310.28h0M458.52 311.68h0M455.19 303.39h0M452.15 322.89h0M458.09 310.62h0M459.95 311.27h0M462.5 304.16h0M465.28 301.76h0M452.05 319.91h0M463.88 304.86h0M456.47 319.39h0M456.02 314.01h0M468.94 309.91h0M455.56 311.64h0M460.98 313.04h0M466.53 303.94h0M472.85 302.76h0M459.65 309.24h0M449.59 321.23h0M459.14 315.75h0M451.68 317.99h0M453.65 317.76h0M459.82 314.9h0M455.11 318.41h0M454.99 314.87h0M456.65 318.39h0M453.53 315.8h0M441.67 326.36h0M454.25 318.44h0M453.09 316.14h0M467.47 308.97h0M460.28 310.89h0M457.94 315.68h0M449.47 317.9h0M456.96 311.69h0M440.66 320.04h0M460.34 313.33h0M448.68 318.98h0M450.94 321.01h0M461.31 307.78h0M450.89 311.66h0M451.53 314.57h0M446.69 323.22h0M463.68 308.1h0M439.9 334.25h0M461.16 316.6h0M456.7 314.26h0M459.33 314.86h0M449.47 318.37h0M448.79 323.3h0M465.07 303.23h0M459.47 314.6h0M462.81 312.01h0M440.62 322.21h0M463.2 311.43h0M465.27 306.97h0M460.46 310.51h0M442.84 325.25h0M451.69 328.03h0M436.43 330.88h0M458.84 316.78h0M465.04 313.82h0M455.39 312.71h0M454.01 321.84h0M447.12 320.5h0M458.08 308.68h0M448.37 323.12h0M468.02 305.06h0M462.09 316.82h0M466.07 309.16h0M452.41 311h0M452.34 316.24h0M457.15 311.3h0M448.14 319.18h0M452.55 316.1h0M453.01 315.38h0M447.25 320.3h0M461.49 316.46h0M450.54 326.33h0M442.88 328.93h0M451.59 317.01h0M456.71 320.37h0M451.26 317.04h0M456.42 318.93h0M451.97 311.79h0M454.81 313.02h0M450.2 311.3h0M451.9 314.19h0M446.8 329.69h0M458.06 313.86h0M460.49 309.13h0M450.97 317.8h0M450.26 322.52h0M463.96 314.25h0M452.77 322.3h0M457.23 315.93h0M458.92 313.56h0M464.19 310.74h0M477.7 298.47h0M454.68 317.68h0M432.29 334.71h0M458.32 317.1h0M450.64 320.77h0M458.68 310.24h0M459.82 315.21h0M462.78 310.99h0M458.55 319.2h0M462.45 310.76h0M452.83 319.31h0M459.55 309.68h0M448.22 322.57h0M451.92 324.22h0M454.51 316.22h0M462.14 314.44h0M450.4 323.5h0M456.84 317.46h0M455.82 307.69h0M457.53 308.73h0M450.73 326.43h0M467.41 303.89h0M450.85 316.06h0" stroke="#c81ad8" stroke-width="1.05" stroke-linecap="round" opacity="0.85"/>
<path d="M472 275.5h0M461.64 280.33h0M462.78 278.71h0M460.73 280.39h0M461.3 275.58h0M458.35 268.26h0M448.12 271.54h0M471.45 271.3h0M455.93 267.1h0M486.42 284.83h0M465.29 268.69h0M464.79 280.79h0M475.75 270.16h0M467.72 276.21h0M464.93 272.56h0M449.26 289.11h0M448.74 280.61h0M447.01 276.12h0M475.06 272.02h0M456.04 280.12h0M462.79 288.48h0M465.25 281.33h0M451.91 280.15h0M461.75 272.44h0M456.52 282.38h0M450.47 270.79h0M457.3 275.91h0M449.06 276.09h0M460.05 274.13h0M459.07 271.66h0M462.58 274.51h0M480.05 277.87h0M460.43 277.82h0M477.2 275.95h0M475.71 275.78h0M455.63 279.41h0M452.49 274.7h0M454.85 276.53h0M470.47 275.74h0M464.21 276.55h0M467.46 283.85h0M469.46 279.28h0M468.18 277.05h0M477.31 279.3h0M440.92 276.37h0M459.91 273.86h0M446.91 266.37h0M477.62 269.53h0M463.09 279.87h0M464.8 277.23h0M449.33 278.09h0M464.33 279.74h0M470.74 280.62h0M459.51 278.48h0M466.43 274.48h0M465.9 270.38h0M448.95 265.32h0M464.76 270.32h0M460.21 279.44h0M453.8 277.61h0M478.53 272.4h0M471.62 272.1h0M462.43 270.88h0M459.07 284.06h0M475.45 272.91h0M452.8 277.28h0M469.84 271.37h0M478.03 279.5h0M446.56 273.48h0M461.46 279.71h0M443.78 270.51h0M496.32 276.92h0M459.86 266.31h0M467.49 284.26h0M479.75 283.07h0M452.75 270.29h0M467.59 274.63h0M451.73 275.93h0M484.24 278.8h0M461.72 273.87h0M468.29 273.01h0M463.43 276.31h0M487.66 272.64h0M467.16 266.11h0M459.47 274.01h0M453.71 268.54h0M468.27 277.37h0M449.57 278.29h0M465.71 279.85h0M460.02 281.96h0" stroke="#9ad8d0" stroke-width="1.05" stroke-linecap="round" opacity="0.5"/>
</g>
<rect x="419.2" y="263" width="75.5" height="70" fill="none" stroke="#2a2a2a" stroke-width="1"/>
<path d="M437.34 329.5 L461.39 287 L480.4 271.67 L495.52 271.67" stroke="#55605a" stroke-width="0.8" fill="none" stroke-linejoin="round"/>
<path d="M419.2 333h-2.4M419.2 333v2.4M419.2 330.31h-1.4M422.08 333v1.4M419.2 327.62h-1.4M424.96 333v1.4M419.2 324.93h-1.4M427.84 333v1.4M419.2 322.24h-1.4M430.72 333v1.4M419.2 319.55h-2.4M433.6 333v2.4M419.2 316.86h-1.4M436.48 333v1.4M419.2 314.17h-1.4M439.36 333v1.4M419.2 311.48h-1.4M442.24 333v1.4M419.2 308.79h-1.4M445.12 333v1.4M419.2 306.1h-2.4M448 333v2.4M419.2 303.41h-1.4M450.88 333v1.4M419.2 300.72h-1.4M453.76 333v1.4M419.2 298.03h-1.4M456.64 333v1.4M419.2 295.34h-1.4M459.52 333v1.4M419.2 292.65h-2.4M462.4 333v2.4M419.2 289.96h-1.4M465.28 333v1.4M419.2 287.27h-1.4M468.16 333v1.4M419.2 284.58h-1.4M471.04 333v1.4M419.2 281.89h-1.4M473.92 333v1.4M419.2 279.2h-2.4M476.8 333v2.4M419.2 276.51h-1.4M479.68 333v1.4M419.2 273.82h-1.4M482.56 333v1.4M419.2 271.13h-1.4M485.44 333v1.4M419.2 268.44h-1.4M488.32 333v1.4M419.2 265.75h-2.4M491.2 333v2.4" stroke="#2a2a2a" stroke-width="0.7" fill="none"/>
<text x="412.8" y="321.82" font-size="6.4" text-anchor="end">50</text>
<text x="433.6" y="343.84" font-size="6.3" text-anchor="middle">50</text>
<text x="412.8" y="308.37" font-size="6.4" text-anchor="end">100</text>
<text x="448" y="343.84" font-size="6.3" text-anchor="middle">100</text>
<text x="412.8" y="294.92" font-size="6.4" text-anchor="end">150</text>
<text x="462.4" y="343.84" font-size="6.3" text-anchor="middle">150</text>
<text x="412.8" y="281.47" font-size="6.4" text-anchor="end">200</text>
<text x="476.8" y="343.84" font-size="6.3" text-anchor="middle">200</text>
<text x="412.8" y="268.02" font-size="6.4" text-anchor="end">250</text>
<text x="491.2" y="343.84" font-size="6.3" text-anchor="middle">250</text>
<text x="457.4" y="356.65" font-size="8.6" text-anchor="middle" font-weight="bold" textLength="15.6" lengthAdjust="spacingAndGlyphs">FSC-A</text>
<text x="497.1" y="351.17" font-size="5" text-anchor="end" textLength="19" lengthAdjust="spacingAndGlyphs">(×1,000)</text>
<text x="0" y="3.05" font-size="8.6" text-anchor="middle" font-weight="bold" textLength="15.6" lengthAdjust="spacingAndGlyphs" transform="translate(394.5 295.8) rotate(-90)">SSC-A</text>
<text x="0" y="1.77" font-size="5" text-anchor="middle" textLength="20" lengthAdjust="spacingAndGlyphs" transform="translate(398.2 270.8) rotate(-90)">(×1,000)</text>
<text x="457" y="259.84" font-size="8" text-anchor="middle">72h</text>
<text x="478.9" y="286" font-size="6.2" text-anchor="middle" fill="#3a3a3a" style="stroke-width:0.12px">75%</text>
<text x="467.2" y="305.45" font-size="5.2" text-anchor="middle" fill="#555" style="stroke:none">P1</text>
<path d="M477.5 331.2L493.6 330.8" stroke="#777" stroke-width="0.9" fill="none"/>
<rect x="39.9" y="414.8" width="14.9" height="40.8" fill="#15528c"/>
<line x1="47.35" y1="410.1" x2="47.35" y2="414.8" stroke="#444" stroke-width="1.2"/>
<line x1="43.65" y1="410.1" x2="51.05" y2="410.1" stroke="#444" stroke-width="1.2"/>
<rect x="68.7" y="404.5" width="14.8" height="51.1" fill="#c8102e"/>
<line x1="76.1" y1="393.6" x2="76.1" y2="404.5" stroke="#444" stroke-width="1.2"/>
<line x1="72.4" y1="393.6" x2="79.8" y2="393.6" stroke="#444" stroke-width="1.2"/>
<rect x="97" y="409.8" width="14.7" height="45.8" fill="#c8102e"/>
<line x1="104.35" y1="403" x2="104.35" y2="409.8" stroke="#444" stroke-width="1.2"/>
<line x1="100.65" y1="403" x2="108.05" y2="403" stroke="#444" stroke-width="1.2"/>
<rect x="125.8" y="421.4" width="14.4" height="34.2" fill="#c8102e"/>
<line x1="133" y1="397.8" x2="133" y2="421.4" stroke="#444" stroke-width="1.2"/>
<line x1="129.3" y1="397.8" x2="136.7" y2="397.8" stroke="#444" stroke-width="1.2"/>
<line x1="33" y1="375.2" x2="33" y2="456.2" stroke="#2a2a2a" stroke-width="1.3"/>
<line x1="32.4" y1="455.6" x2="146.9" y2="455.6" stroke="#2a2a2a" stroke-width="1.3"/>
<text x="27.2" y="381.3" font-size="7.6" text-anchor="end">100</text>
<text x="27.2" y="419.8" font-size="7.6" text-anchor="end">80</text>
<text x="27.2" y="458.3" font-size="7.6" text-anchor="end">60</text>
<text x="47.35" y="468.04" font-size="8" text-anchor="middle">T0</text>
<text x="76.1" y="468.04" font-size="8" text-anchor="middle">24h</text>
<text x="104.35" y="468.04" font-size="8" text-anchor="middle">48h</text>
<text x="133" y="468.04" font-size="8" text-anchor="middle">72h</text>
<path d="M33 378.6h-3M33 417.1h-3M33 455.6h-3M47.35 455.6v2.6M76.1 455.6v2.6M104.35 455.6v2.6M133 455.6v2.6" stroke="#2a2a2a" stroke-width="1.1" fill="none"/>
<text x="89.5" y="372.77" font-size="9.5" text-anchor="middle" textLength="44.7" lengthAdjust="spacingAndGlyphs">Viable cells</text>
<text x="89.5" y="480.59" font-size="9" text-anchor="middle" font-weight="bold" textLength="33" lengthAdjust="spacingAndGlyphs">Time hours</text>
<text x="0" y="3.05" font-size="8.6" text-anchor="middle" textLength="78" lengthAdjust="spacingAndGlyphs" transform="translate(5 415.2) rotate(-90)">% Cell viability (mean±SD)</text>
<rect x="222" y="444.5" width="14.4" height="10.7" fill="#15528c"/>
<line x1="229.2" y1="433.5" x2="229.2" y2="444.5" stroke="#444" stroke-width="1.2"/>
<line x1="225.5" y1="433.5" x2="232.9" y2="433.5" stroke="#444" stroke-width="1.2"/>
<rect x="250.9" y="436.4" width="14.4" height="18.8" fill="#c8102e"/>
<line x1="258.1" y1="415.7" x2="258.1" y2="436.4" stroke="#444" stroke-width="1.2"/>
<line x1="254.4" y1="415.7" x2="261.8" y2="415.7" stroke="#444" stroke-width="1.2"/>
<rect x="279.7" y="417.1" width="14.4" height="38.1" fill="#c8102e"/>
<line x1="286.9" y1="390.3" x2="286.9" y2="417.1" stroke="#444" stroke-width="1.2"/>
<line x1="283.2" y1="390.3" x2="290.6" y2="390.3" stroke="#444" stroke-width="1.2"/>
<rect x="308.2" y="414.8" width="14.2" height="40.4" fill="#c8102e"/>
<line x1="315.3" y1="400.4" x2="315.3" y2="414.8" stroke="#444" stroke-width="1.2"/>
<line x1="311.6" y1="400.4" x2="319" y2="400.4" stroke="#444" stroke-width="1.2"/>
<line x1="214.8" y1="374.4" x2="214.8" y2="455.8" stroke="#2a2a2a" stroke-width="1.3"/>
<line x1="214.2" y1="455.2" x2="329" y2="455.2" stroke="#2a2a2a" stroke-width="1.3"/>
<text x="209" y="381.4" font-size="7.6" text-anchor="end">100</text>
<text x="209" y="396.7" font-size="7.6" text-anchor="end">80</text>
<text x="209" y="412" font-size="7.6" text-anchor="end">60</text>
<text x="209" y="427.3" font-size="7.6" text-anchor="end">40</text>
<text x="209" y="442.6" font-size="7.6" text-anchor="end">20</text>
<text x="209" y="457.9" font-size="7.6" text-anchor="end">0</text>
<text x="229.2" y="467.64" font-size="8" text-anchor="middle">T0</text>
<text x="258.1" y="467.64" font-size="8" text-anchor="middle">24h</text>
<text x="286.9" y="467.64" font-size="8" text-anchor="middle">48h</text>
<text x="315.3" y="467.64" font-size="8" text-anchor="middle">72h</text>
<path d="M214.8 378.7h-3M214.8 394h-3M214.8 409.3h-3M214.8 424.6h-3M214.8 439.9h-3M214.8 455.2h-3M229.2 455.2v2.6M258.1 455.2v2.6M286.9 455.2v2.6M315.3 455.2v2.6" stroke="#2a2a2a" stroke-width="1.1" fill="none"/>
<text x="271.9" y="372.77" font-size="9.5" text-anchor="middle" textLength="24.5" lengthAdjust="spacingAndGlyphs">CD80</text>
<text x="271.9" y="480.59" font-size="9" text-anchor="middle" font-weight="bold" textLength="33" lengthAdjust="spacingAndGlyphs">Time hours</text>
<text x="0" y="3.05" font-size="8.6" text-anchor="middle" textLength="89" lengthAdjust="spacingAndGlyphs" transform="translate(187.4 410.5) rotate(-90)">% CD80 positive cells (mean±SD)</text>
<rect x="412.7" y="410.2" width="15" height="45" fill="#15528c"/>
<line x1="420.2" y1="394.9" x2="420.2" y2="410.2" stroke="#444" stroke-width="1.2"/>
<line x1="416.5" y1="394.9" x2="423.9" y2="394.9" stroke="#444" stroke-width="1.2"/>
<rect x="441.3" y="428.2" width="14.7" height="27" fill="#c8102e"/>
<line x1="448.65" y1="410.2" x2="448.65" y2="428.2" stroke="#444" stroke-width="1.2"/>
<line x1="444.95" y1="410.2" x2="452.35" y2="410.2" stroke="#444" stroke-width="1.2"/>
<rect x="469.9" y="442.5" width="14.6" height="12.7" fill="#c8102e"/>
<line x1="477.2" y1="437.8" x2="477.2" y2="442.5" stroke="#444" stroke-width="1.2"/>
<line x1="473.5" y1="437.8" x2="480.9" y2="437.8" stroke="#444" stroke-width="1.2"/>
<rect x="498.8" y="433.6" width="14.4" height="21.6" fill="#c8102e"/>
<line x1="506" y1="426" x2="506" y2="433.6" stroke="#444" stroke-width="1.2"/>
<line x1="502.3" y1="426" x2="509.7" y2="426" stroke="#444" stroke-width="1.2"/>
<line x1="404.8" y1="375" x2="404.8" y2="455.8" stroke="#2a2a2a" stroke-width="1.3"/>
<line x1="404.2" y1="455.2" x2="519" y2="455.2" stroke="#2a2a2a" stroke-width="1.3"/>
<text x="399" y="380.6" font-size="7.6" text-anchor="end">6</text>
<text x="399" y="399.9" font-size="7.6" text-anchor="end">4.5</text>
<text x="399" y="419.3" font-size="7.6" text-anchor="end">3</text>
<text x="399" y="438.6" font-size="7.6" text-anchor="end">1.5</text>
<text x="399" y="457.9" font-size="7.6" text-anchor="end">0</text>
<text x="420.2" y="467.64" font-size="8" text-anchor="middle">T0</text>
<text x="448.65" y="467.64" font-size="8" text-anchor="middle">24h</text>
<text x="477.2" y="467.64" font-size="8" text-anchor="middle">48h</text>
<text x="506" y="467.64" font-size="8" text-anchor="middle">72h</text>
<path d="M404.8 377.9h-3M404.8 397.2h-3M404.8 416.6h-3M404.8 435.9h-3M404.8 455.2h-3M420.2 455.2v2.6M448.65 455.2v2.6M477.2 455.2v2.6M506 455.2v2.6" stroke="#2a2a2a" stroke-width="1.1" fill="none"/>
<text x="462" y="372.77" font-size="9.5" text-anchor="middle" textLength="53" lengthAdjust="spacingAndGlyphs">miR-146b-5p</text>
<text x="462" y="480.59" font-size="9" text-anchor="middle" font-weight="bold" textLength="33" lengthAdjust="spacingAndGlyphs">Time hours</text>
<text x="0" y="3.05" font-size="8.6" text-anchor="middle" textLength="86.6" lengthAdjust="spacingAndGlyphs" transform="translate(369.3 411.3) rotate(-90)">ΔCT miR-146b-5p vs miR-93-5p</text>
<text x="0" y="3.05" font-size="8.6" text-anchor="middle" textLength="33" lengthAdjust="spacingAndGlyphs" transform="translate(383 418) rotate(-90)">(mean±SD)</text>
<rect x="161.9" y="489.6" width="4.3" height="4.4" fill="#15528c"/>
<text x="170" y="494.54" font-size="7.72">CLL cells before culture</text>
<rect x="262.6" y="489.6" width="4.4" height="4.4" fill="#c8102e"/>
<text x="269.8" y="494.63" font-size="7.69">CLL cells culture with CD40L-TC</text>
<rect x="44.2" y="616.2" width="14.3" height="6.9" fill="#c8102e"/>
<rect x="89.9" y="584.5" width="14.3" height="38.6" fill="#15528c"/>
<line x1="97.05" y1="527.3" x2="97.05" y2="584.5" stroke="#444" stroke-width="1.2"/>
<line x1="93.4" y1="527.3" x2="100.7" y2="527.3" stroke="#444" stroke-width="1.2"/>
<line x1="32.7" y1="517.8" x2="32.7" y2="623.7" stroke="#2a2a2a" stroke-width="1.3"/>
<line x1="32.1" y1="623.1" x2="115.8" y2="623.1" stroke="#2a2a2a" stroke-width="1.3"/>
<text x="26.9" y="625.8" font-size="7.6" text-anchor="end">0</text>
<text x="26.9" y="611.2" font-size="7.6" text-anchor="end">2</text>
<text x="26.9" y="596.6" font-size="7.6" text-anchor="end">4</text>
<text x="26.9" y="582" font-size="7.6" text-anchor="end">6</text>
<text x="26.9" y="567.4" font-size="7.6" text-anchor="end">8</text>
<text x="26.9" y="552.8" font-size="7.6" text-anchor="end">10</text>
<text x="26.9" y="538.2" font-size="7.6" text-anchor="end">12</text>
<text x="26.9" y="523.6" font-size="7.6" text-anchor="end">14</text>
<path d="M32.7 623.1h-3M32.7 608.5h-3M32.7 593.9h-3M32.7 579.3h-3M32.7 564.7h-3M32.7 550.1h-3M32.7 535.5h-3M32.7 520.9h-3M51.35 623.1v2.6M97.05 623.1v2.6" stroke="#2a2a2a" stroke-width="1.1" fill="none"/>
<text x="51.5" y="613.16" font-size="7.2" text-anchor="middle">1</text>
<text x="97.3" y="522.86" font-size="7.2" text-anchor="middle">5.3</text>
<text x="51.4" y="634.9" font-size="7.6" text-anchor="middle">miR-CTR</text>
<text x="51.4" y="645.3" font-size="7.6" text-anchor="middle">inhibitor</text>
<text x="96.9" y="634.9" font-size="7.6" text-anchor="middle">miR-146b-5p</text>
<text x="96.9" y="645.3" font-size="7.6" text-anchor="middle">inhibitor</text>
<text x="0" y="3.05" font-size="8.6" text-anchor="middle" textLength="82.5" lengthAdjust="spacingAndGlyphs" transform="translate(9.9 570.2) rotate(-90)">IL-12Rβ1 mRNA fold change</text>
<text x="0.6" y="514.4" font-size="10.9" font-weight="bold" style="stroke-width:0.45px">D</text>
<text x="147.4" y="514.7" font-size="10.9" font-weight="bold" style="stroke-width:0.45px">E</text>
<line x1="183.2" y1="528" x2="183.2" y2="623.9" stroke="#2a2a2a" stroke-width="1.3"/>
<line x1="182.6" y1="623.3" x2="320.4" y2="623.3" stroke="#2a2a2a" stroke-width="1.3"/>
<text x="177.4" y="626.2" font-size="7.6" text-anchor="end">0</text>
<text x="177.4" y="607.8" font-size="7.6" text-anchor="end">20</text>
<text x="177.4" y="589.4" font-size="7.6" text-anchor="end">40</text>
<text x="177.4" y="571" font-size="7.6" text-anchor="end">60</text>
<text x="177.4" y="552.6" font-size="7.6" text-anchor="end">80</text>
<text x="177.4" y="534.2" font-size="7.6" text-anchor="end">100</text>
<path d="M183.2 623.5h-3M183.2 605.1h-3M183.2 586.7h-3M183.2 568.3h-3M183.2 549.9h-3M183.2 531.5h-3M217.8 623.3v2.6M287.2 623.3v2.6" stroke="#2a2a2a" stroke-width="1.1" fill="none"/>
<path d="M217.8 532.2V536.8M217.8 534.4H287.2M287.2 532.2V536.8" stroke="#333" stroke-width="1.1" fill="none"/>
<text x="252.5" y="533.72" font-size="8.8" text-anchor="middle" font-weight="bold">**</text>
<text x="252.5" y="543.83" font-size="7.4" text-anchor="middle" fill="#1e1e1e"><tspan font-style="italic">P</tspan>=.002</text>
<line x1="217.8" y1="573.8" x2="217.8" y2="596.6" stroke="#333" stroke-width="1.2"/>
<line x1="206.1" y1="573.8" x2="229.5" y2="573.8" stroke="#444" stroke-width="1.3"/>
<line x1="206.1" y1="596.6" x2="229.5" y2="596.6" stroke="#444" stroke-width="1.3"/>
<line x1="195.4" y1="585.3" x2="240.2" y2="585.3" stroke="#222" stroke-width="1.4"/>
<circle cx="220.5" cy="566.8" r="2.2" fill="#c8102e"/>
<circle cx="215" cy="570.5" r="2.2" fill="#c8102e"/>
<circle cx="218.5" cy="578.4" r="2.2" fill="#c8102e"/>
<circle cx="220.5" cy="580" r="2.2" fill="#c8102e"/>
<circle cx="212.2" cy="584.6" r="2.2" fill="#c8102e"/>
<circle cx="215" cy="588.5" r="2.2" fill="#c8102e"/>
<circle cx="220.5" cy="592.9" r="2.2" fill="#c8102e"/>
<circle cx="212.2" cy="596.2" r="2.2" fill="#c8102e"/>
<circle cx="223.1" cy="596.9" r="2.2" fill="#c8102e"/>
<circle cx="217.8" cy="599.2" r="2.2" fill="#c8102e"/>
<line x1="287.2" y1="558.1" x2="287.2" y2="585.1" stroke="#333" stroke-width="1.2"/>
<line x1="275.5" y1="558.1" x2="298.9" y2="558.1" stroke="#444" stroke-width="1.3"/>
<line x1="275.5" y1="585.1" x2="298.9" y2="585.1" stroke="#444" stroke-width="1.3"/>
<line x1="264.8" y1="571.2" x2="309.6" y2="571.2" stroke="#222" stroke-width="1.4"/>
<circle cx="284.2" cy="550.7" r="2.2" fill="#15528c"/>
<circle cx="290.5" cy="554.2" r="2.2" fill="#15528c"/>
<circle cx="287.2" cy="563.4" r="2.2" fill="#15528c"/>
<circle cx="284.2" cy="563" r="2.2" fill="#15528c"/>
<circle cx="289.5" cy="568.5" r="2.2" fill="#15528c"/>
<circle cx="280.8" cy="576.5" r="2.2" fill="#15528c"/>
<circle cx="287.2" cy="576.5" r="2.2" fill="#15528c"/>
<circle cx="290.5" cy="582.3" r="2.2" fill="#15528c"/>
<circle cx="284.2" cy="581.8" r="2.2" fill="#15528c"/>
<circle cx="286.5" cy="591.1" r="2.2" fill="#15528c"/>
<text x="321.2" y="619.59" font-size="7.3" text-anchor="end">n=10</text>
<text x="218.4" y="636.1" font-size="7.6" text-anchor="middle">miR-CTR</text>
<text x="218.4" y="645.4" font-size="7.6" text-anchor="middle">inhibitor</text>
<text x="284.4" y="635.7" font-size="7.6" text-anchor="middle">miR-146b-5p</text>
<text x="286" y="645.4" font-size="7.6" text-anchor="middle">inhibitor</text>
<text x="251.1" y="659.27" font-size="9.2" text-anchor="middle" font-weight="bold" textLength="99.7" lengthAdjust="spacingAndGlyphs">CLL cells transfected with miRNAs</text>
<text x="251.1" y="670.87" font-size="9.2" text-anchor="middle" font-weight="bold" textLength="80.8" lengthAdjust="spacingAndGlyphs">and cultured with CD40L-TC</text>
<text x="0" y="3.05" font-size="8.6" text-anchor="middle" textLength="75.8" lengthAdjust="spacingAndGlyphs" transform="translate(155.9 577.7) rotate(-90)">IL-12Rβ1 % (mean±SD)</text>
<text x="347.4" y="514.7" font-size="10.9" font-weight="bold" style="stroke-width:0.45px">F</text>
<line x1="382.7" y1="528" x2="382.7" y2="623.9" stroke="#2a2a2a" stroke-width="1.3"/>
<line x1="382.1" y1="623.3" x2="520" y2="623.3" stroke="#2a2a2a" stroke-width="1.3"/>
<text x="376.9" y="626.2" font-size="7.6" text-anchor="end">0</text>
<text x="376.9" y="603.1" font-size="7.6" text-anchor="end">20</text>
<text x="376.9" y="580" font-size="7.6" text-anchor="end">40</text>
<text x="376.9" y="556.9" font-size="7.6" text-anchor="end">60</text>
<text x="376.9" y="533.8" font-size="7.6" text-anchor="end">80</text>
<path d="M382.7 623.5h-3M382.7 600.4h-3M382.7 577.3h-3M382.7 554.2h-3M382.7 531.1h-3M417.3 623.3v2.6M486.5 623.3v2.6" stroke="#2a2a2a" stroke-width="1.1" fill="none"/>
<path d="M417.3 532.2V536.8M417.3 534.4H486.5M486.5 532.2V536.8" stroke="#333" stroke-width="1.1" fill="none"/>
<text x="451.9" y="533.72" font-size="8.8" text-anchor="middle" font-weight="bold">**</text>
<text x="451.9" y="543.83" font-size="7.4" text-anchor="middle" fill="#1e1e1e"><tspan font-style="italic">P</tspan>=.002</text>
<line x1="417.3" y1="585.1" x2="417.3" y2="602.4" stroke="#333" stroke-width="1.2"/>
<line x1="405.6" y1="585.1" x2="429" y2="585.1" stroke="#444" stroke-width="1.3"/>
<line x1="405.6" y1="602.4" x2="429" y2="602.4" stroke="#444" stroke-width="1.3"/>
<line x1="394.9" y1="593.4" x2="439.7" y2="593.4" stroke="#222" stroke-width="1.4"/>
<circle cx="417.3" cy="577" r="2.2" fill="#c8102e"/>
<circle cx="412" cy="585.8" r="2.2" fill="#c8102e"/>
<circle cx="417.3" cy="588.1" r="2.2" fill="#c8102e"/>
<circle cx="423.1" cy="588.1" r="2.2" fill="#c8102e"/>
<circle cx="408.8" cy="596.9" r="2.2" fill="#c8102e"/>
<circle cx="412" cy="600.8" r="2.2" fill="#c8102e"/>
<circle cx="417.3" cy="598.5" r="2.2" fill="#c8102e"/>
<circle cx="425.8" cy="595.7" r="2.2" fill="#c8102e"/>
<circle cx="423.1" cy="600.8" r="2.2" fill="#c8102e"/>
<circle cx="417.3" cy="606.1" r="2.2" fill="#c8102e"/>
<line x1="486.5" y1="562.2" x2="486.5" y2="589.2" stroke="#333" stroke-width="1.2"/>
<line x1="474.8" y1="562.2" x2="498.2" y2="562.2" stroke="#444" stroke-width="1.3"/>
<line x1="474.8" y1="589.2" x2="498.2" y2="589.2" stroke="#444" stroke-width="1.3"/>
<line x1="464.1" y1="575.8" x2="508.9" y2="575.8" stroke="#222" stroke-width="1.4"/>
<circle cx="486.5" cy="551.2" r="2.2" fill="#15528c"/>
<circle cx="486.5" cy="559.7" r="2.2" fill="#15528c"/>
<circle cx="494.2" cy="569.4" r="2.2" fill="#15528c"/>
<circle cx="478" cy="572.6" r="2.2" fill="#15528c"/>
<circle cx="483.5" cy="574.2" r="2.2" fill="#15528c"/>
<circle cx="488.8" cy="573.5" r="2.2" fill="#15528c"/>
<circle cx="483.5" cy="582.8" r="2.2" fill="#15528c"/>
<circle cx="491.8" cy="586.9" r="2.2" fill="#15528c"/>
<circle cx="488.8" cy="591.1" r="2.2" fill="#15528c"/>
<circle cx="483.5" cy="595" r="2.2" fill="#15528c"/>
<text x="520.8" y="619.59" font-size="7.3" text-anchor="end">n=10</text>
<text x="417.9" y="636.1" font-size="7.6" text-anchor="middle">miR-CTR</text>
<text x="417.9" y="645.4" font-size="7.6" text-anchor="middle">inhibitor</text>
<text x="482.6" y="635.7" font-size="7.6" text-anchor="middle">miR-146b-5p</text>
<text x="486" y="645.4" font-size="7.6" text-anchor="middle">inhibitor</text>
<text x="450.8" y="659.27" font-size="9.2" text-anchor="middle" font-weight="bold" textLength="99.7" lengthAdjust="spacingAndGlyphs">CLL cells transfected with miRNAs</text>
<text x="450.8" y="670.87" font-size="9.2" text-anchor="middle" font-weight="bold" textLength="80.8" lengthAdjust="spacingAndGlyphs">and cultured with CD40L-TC</text>
<text x="0" y="3.05" font-size="8.6" text-anchor="middle" textLength="94" lengthAdjust="spacingAndGlyphs" transform="translate(360.8 578.7) rotate(-90)">IL-23R complex % (mean±SD)</text>
</svg></body></html>
